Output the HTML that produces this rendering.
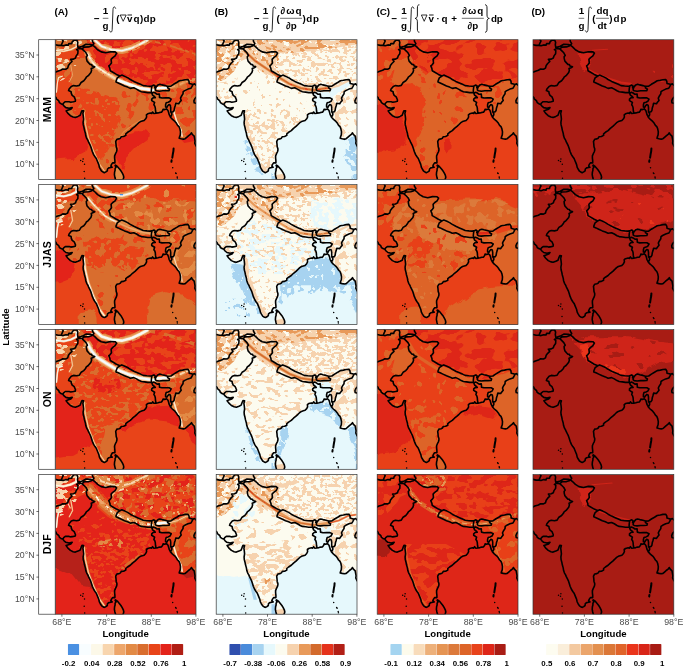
<!DOCTYPE html>
<html><head><meta charset="utf-8"><title>fig</title>
<style>
html,body{margin:0;padding:0;background:#fff;}
body{width:685px;height:670px;overflow:hidden;}
svg{display:block;}
#root{will-change:transform;}
text{font-family:"Liberation Sans",sans-serif;}
.tk{font-size:8.8px;fill:#4d4d4d;}
.b{font-weight:bold;fill:#000;}
</style></head><body>
<svg id="root" width="685" height="670" viewBox="0 0 685 670">
<defs>
<g id="bd"><path d="M0.0 57.0 L0.9 57.9 L1.1 59.2 L2.2 59.9 L3.6 61.2 L4.2 62.9 L5.8 64.0 L7.6 64.7 M7.6 64.7 L8.9 66.4 L10.7 67.9 L13.9 68.6 L17.0 67.9 L15.6 69.5 L12.5 70.6 L10.9 71.2 L12.5 73.4 L15.2 76.0 L17.9 77.3 L20.1 77.7 L22.8 76.7 L25.0 75.6 L25.9 73.0 L26.8 71.0 L28.4 71.2 L27.7 73.8 L28.1 76.5 L28.4 79.5 L27.9 82.6 L28.1 85.2 L28.8 87.8 L29.3 90.4 L30.2 93.5 L30.6 96.1 L31.5 98.7 L32.6 100.5 L33.3 102.2 L34.2 104.0 L35.3 106.2 L36.2 108.8 L37.1 111.8 L38.4 114.9 L39.8 117.1 L41.1 118.8 L42.0 121.0 L42.9 123.2 L43.6 124.9 L44.2 127.6 L45.1 129.3 L46.5 131.5 L48.3 132.7 L49.4 132.9 M49.4 132.9 L50.7 132.2 L52.1 131.1 L52.3 129.3 L53.6 128.2 L55.6 127.8 L57.0 127.6 L55.6 126.5 L56.3 124.7 L57.4 123.2 L59.7 123.2 L59.7 121.0 L59.4 118.4 L59.4 116.2 L60.3 114.0 L61.2 112.3 L61.7 110.5 L61.7 109.0 L61.0 107.0 L60.8 104.4 L60.5 101.8 L61.7 99.6 L63.9 99.2 L65.2 98.5 L66.1 97.0 L68.4 96.8 L70.6 95.7 L70.6 94.1 L72.4 92.6 L75.1 90.9 L77.3 88.7 L79.8 86.7 L81.8 84.8 L83.6 83.0 L85.3 81.9 L87.1 81.3 L88.9 80.8 L90.5 79.1 L91.4 77.3 L91.2 75.1 L92.5 74.1 L95.2 73.4 L96.5 73.8 L97.4 72.3 L98.7 73.8 L100.8 73.6 M100.8 73.6 L102.8 73.2 L104.6 72.7 L106.3 72.5 L107.5 70.8 L107.9 69.5 L109.5 69.9 L111.3 69.2 L112.8 70.8 L113.5 73.0 L113.9 74.7 L114.8 76.5 L115.3 77.5 M115.3 77.5 L117.1 79.5 L118.2 80.4 L119.7 81.7 L121.1 83.4 L122.4 85.6 L123.8 86.9 L124.7 89.1 L125.3 92.2 L125.1 95.2 L124.2 97.6 L124.0 98.5 L126.0 99.0 L128.2 99.4 L130.0 99.0 L131.8 97.4 L133.2 96.1 L135.4 94.4 L136.3 93.1 L137.2 94.8 L139.0 96.5 L139.4 98.7 L139.9 101.4 L139.6 103.5 L140.8 106.2 M7.6 64.7 L8.5 63.3 L10.1 62.0 L13.9 62.0 L15.6 62.5 L18.3 62.0 L20.1 61.6 L20.3 60.3 L19.0 57.2 L17.0 55.7 L16.1 53.7 L15.9 52.0 L13.4 50.9 L13.9 49.4 L16.1 46.7 L18.3 45.9 L21.4 46.3 L24.1 45.7 L25.9 42.8 L28.6 41.1 L30.4 38.9 L31.1 37.4 L33.1 36.0 L35.7 32.8 L36.4 30.6 L36.0 28.8 L38.0 28.0 L39.5 27.1 M39.5 27.1 L36.9 26.2 L36.4 24.9 L34.9 24.7 L33.5 23.2 L31.9 21.4 L31.3 19.2 L31.1 17.0 L32.2 15.7 L30.8 13.1 L28.6 10.9 L26.8 9.2 L29.0 7.4 L33.5 7.2 L36.2 6.3 L37.5 5.5 M37.5 5.5 L39.8 7.4 L42.4 10.0 L46.0 12.2 L50.5 13.1 L55.4 12.0 L59.9 12.2 L61.4 13.5 L59.9 16.2 L57.6 17.9 L55.9 19.7 L56.3 23.2 L54.7 25.3 L53.6 26.2 L54.7 28.8 L55.0 31.0 L57.2 32.3 L61.2 34.7 L64.8 36.3 M64.8 36.3 L66.6 35.4 L69.7 36.7 L72.4 38.0 L75.1 39.8 L78.6 41.7 L82.2 43.3 L85.3 44.6 L88.0 45.9 L91.6 46.3 L94.7 46.5 L96.7 46.3 M64.8 36.3 L62.1 38.2 L60.8 41.5 L60.8 42.4 L63.0 43.3 L65.7 44.6 L69.3 46.3 L72.4 47.4 L75.1 48.7 L78.6 48.1 L81.3 49.4 L84.0 51.1 L86.2 52.0 L89.4 52.4 L92.5 52.9 L96.5 52.9 M96.7 46.3 L96.3 48.9 L96.1 51.1 L96.5 52.9 M96.7 46.3 L98.7 45.4 L99.9 46.3 L99.6 48.1 L100.3 48.9 M100.3 48.9 L100.1 50.2 L101.2 51.1 L104.1 51.5 L107.7 51.1 L110.8 51.1 L113.9 50.9 L114.4 49.4 L112.4 48.1 L112.4 46.7 L109.9 45.9 L106.8 45.2 L104.6 44.6 L102.8 45.2 L101.0 47.2 L100.3 48.9 M112.4 46.7 L115.7 46.5 L118.4 44.6 L121.5 42.8 L124.2 41.1 L127.3 40.6 L130.0 40.0 L132.7 39.8 L133.8 41.5 L134.0 43.7 L136.3 44.3 L137.8 44.8 M137.8 44.8 L136.7 47.0 L135.8 48.5 L132.7 49.4 L129.6 50.9 L128.0 52.0 L127.8 54.2 L126.2 56.6 L125.3 58.5 L126.0 60.7 L124.2 62.9 L123.5 64.0 L120.6 63.6 L120.0 66.0 L119.3 68.2 L118.9 70.8 L118.0 72.1 L116.8 72.3 M137.8 44.8 L139.4 44.1 L140.8 45.4 M140.8 57.7 L139.6 59.0 L138.7 61.2 L139.0 63.1 L140.8 63.6 M100.8 73.6 L100.3 70.8 L100.1 68.2 L99.6 66.4 L98.7 65.1 L99.4 62.7 L96.5 60.9 L96.5 59.4 L97.9 58.1 L100.1 57.9 L99.2 56.8 L97.4 55.5 L96.7 53.7 L98.3 52.6 L100.1 53.3 L101.9 54.6 L104.1 54.4 L104.3 56.8 L104.3 57.7 L106.8 58.3 L110.4 58.2 L113.9 58.2 L116.0 59.4 L114.8 61.6 L113.0 62.5 L111.0 63.1 L110.4 65.1 L110.4 67.3 L111.7 67.7 L112.4 66.4 L113.7 64.9 L115.1 65.5 L115.5 67.7 L115.5 72.1 L116.6 73.8 L116.6 75.1 L115.3 77.5 M116.8 72.3 L116.4 73.4 M0.0 32.5 L1.8 31.7 L5.4 30.6 L7.6 29.3 L10.5 29.5 L12.5 28.4 L13.2 25.8 L14.7 23.8 L16.8 21.8 L15.4 19.7 L18.3 19.4 L20.3 18.3 L21.0 16.2 L22.6 14.0 L22.8 10.9 L21.4 10.0 L23.7 8.7 L26.8 9.2 M22.8 7.9 L23.7 8.7 M0.0 5.0 L3.1 5.7 L6.0 5.7 L8.0 6.1 L10.7 5.2 L13.0 5.5 L13.6 3.9 L16.5 3.9 L17.0 2.2 L18.8 0.4 L21.7 0.4 L22.6 2.6 L22.3 5.2 L22.8 7.9 L27.3 6.6 L30.8 4.6 L35.3 4.8 L37.5 5.5 M6.0 5.7 L7.1 3.1 L8.0 1.3 L7.1 0.0 M37.5 5.5 L38.7 3.9 L37.3 1.7 L37.1 0.0 M60.3 125.4 L62.1 126.7 L64.3 129.3 L65.7 131.1 L67.0 133.2 L68.1 135.4 L68.6 137.6 L67.9 139.8 L67.5 140.7 L60.8 140.7 L60.3 139.8 L59.7 137.6 L59.2 135.0 L59.4 132.4 L59.9 130.6 L59.9 128.9 L60.8 127.6 L59.9 125.8 L60.3 125.4Z" fill="none" stroke="#000" stroke-width="1.6" stroke-linejoin="round" stroke-linecap="round"/><path d="M118.4 108.8 L118.2 111.4 L117.7 114.0 L117.3 116.6 L117.1 118.0" fill="none" stroke="#000" stroke-width="2.0" stroke-linecap="round"/><path d="M116.4 120.6 L116.2 122.1" fill="none" stroke="#000" stroke-width="2.0" stroke-linecap="round"/><circle cx="117.5" cy="128.0" r="0.75" fill="#000"/><circle cx="120.4" cy="133.2" r="0.75" fill="#000"/><circle cx="120.9" cy="133.9" r="0.75" fill="#000"/><circle cx="122.0" cy="137.2" r="0.75" fill="#000"/><circle cx="122.2" cy="138.3" r="0.75" fill="#000"/><circle cx="25.5" cy="120.8" r="0.75" fill="#000"/><circle cx="27.9" cy="119.3" r="0.75" fill="#000"/><circle cx="27.5" cy="121.9" r="0.75" fill="#000"/><circle cx="29.0" cy="131.9" r="0.75" fill="#000"/><circle cx="29.5" cy="138.5" r="0.75" fill="#000"/><circle cx="29.3" cy="124.5" r="0.75" fill="#000"/></g>
<polygon id="india" points="7.6,64.7 8.9,66.4 10.7,67.9 13.9,68.6 17.0,67.9 15.6,69.5 12.5,70.6 10.9,71.2 12.5,73.4 15.2,76.0 17.9,77.3 20.1,77.7 22.8,76.7 25.0,75.6 25.9,73.0 26.8,71.0 28.4,71.2 27.7,73.8 28.1,76.5 28.4,79.5 27.9,82.6 28.1,85.2 28.8,87.8 29.3,90.4 30.2,93.5 30.6,96.1 31.5,98.7 32.6,100.5 33.3,102.2 34.2,104.0 35.3,106.2 36.2,108.8 37.1,111.8 38.4,114.9 39.8,117.1 41.1,118.8 42.0,121.0 42.9,123.2 43.6,124.9 44.2,127.6 45.1,129.3 46.5,131.5 48.3,132.7 49.4,132.9 50.7,132.2 52.1,131.1 52.3,129.3 53.6,128.2 55.6,127.8 57.0,127.6 55.6,126.5 56.3,124.7 57.4,123.2 59.7,123.2 59.7,121.0 59.4,118.4 59.4,116.2 60.3,114.0 61.2,112.3 61.7,110.5 61.7,109.0 61.0,107.0 60.8,104.4 60.5,101.8 61.7,99.6 63.9,99.2 65.2,98.5 66.1,97.0 68.4,96.8 70.6,95.7 70.6,94.1 72.4,92.6 75.1,90.9 77.3,88.7 79.8,86.7 81.8,84.8 83.6,83.0 85.3,81.9 87.1,81.3 88.9,80.8 90.5,79.1 91.4,77.3 91.2,75.1 92.5,74.1 95.2,73.4 96.5,73.8 97.4,72.3 98.7,73.8 100.8,73.6 100.3,70.8 100.1,68.2 99.6,66.4 98.7,65.1 99.4,62.7 96.5,60.9 96.5,59.4 97.9,58.1 100.1,57.9 99.2,56.8 97.4,55.5 96.7,53.7 98.3,52.6 100.1,53.3 101.9,54.6 104.1,54.4 104.3,56.8 104.3,57.7 106.8,58.3 110.4,58.2 113.9,58.2 116.0,59.4 114.8,61.6 113.0,62.5 111.0,63.1 110.4,65.1 110.4,67.3 111.7,67.7 112.4,66.4 113.7,64.9 115.1,65.5 115.5,67.7 115.5,72.1 116.8,72.3 118.0,72.1 118.9,70.8 119.3,68.2 120.0,66.0 120.6,63.6 123.5,64.0 124.2,62.9 126.0,60.7 125.3,58.5 126.2,56.6 127.8,54.2 128.0,52.0 129.6,50.9 132.7,49.4 135.8,48.5 136.7,47.0 137.8,44.8 136.3,44.3 134.0,43.7 133.8,41.5 132.7,39.8 130.0,40.0 127.3,40.6 124.2,41.1 121.5,42.8 118.4,44.6 115.7,46.5 112.4,46.7 112.4,48.1 114.4,49.4 113.9,50.9 110.8,51.1 107.7,51.1 104.1,51.5 101.2,51.1 100.1,50.2 100.3,48.9 99.6,48.1 99.9,46.3 98.7,45.4 96.7,46.3 96.3,48.9 96.1,51.1 96.5,52.9 92.5,52.9 89.4,52.4 86.2,52.0 84.0,51.1 81.3,49.4 78.6,48.1 75.1,48.7 72.4,47.4 69.3,46.3 65.7,44.6 63.0,43.3 60.8,42.4 60.8,41.5 62.1,38.2 64.8,36.3 61.2,34.7 57.2,32.3 55.0,31.0 54.7,28.8 53.6,26.2 54.7,25.3 56.3,23.2 55.9,19.7 57.6,17.9 59.9,16.2 61.4,13.5 59.9,12.2 55.4,12.0 50.5,13.1 46.0,12.2 42.4,10.0 39.8,7.4 37.5,5.5 36.2,6.3 33.5,7.2 29.0,7.4 26.8,9.2 28.6,10.9 30.8,13.1 32.2,15.7 31.1,17.0 31.3,19.2 31.9,21.4 33.5,23.2 34.9,24.7 36.4,24.9 36.9,26.2 39.5,27.1 38.0,28.0 36.0,28.8 36.4,30.6 35.7,32.8 33.1,36.0 31.1,37.4 30.4,38.9 28.6,41.1 25.9,42.8 24.1,45.7 21.4,46.3 18.3,45.9 16.1,46.7 13.9,49.4 13.4,50.9 15.9,52.0 16.1,53.7 17.0,55.7 19.0,57.2 20.3,60.3 20.1,61.6 18.3,62.0 15.6,62.5 13.9,62.0 10.1,62.0 8.5,63.3 7.6,64.7"/>
<polygon id="land" points="0.0,-2.2 0.0,57.0 0.9,57.9 1.1,59.2 2.2,59.9 3.6,61.2 4.2,62.9 5.8,64.0 7.6,64.7 8.9,66.4 10.7,67.9 13.9,68.6 17.0,67.9 15.6,69.5 12.5,70.6 10.9,71.2 12.5,73.4 15.2,76.0 17.9,77.3 20.1,77.7 22.8,76.7 25.0,75.6 25.9,73.0 26.8,71.0 28.4,71.2 27.7,73.8 28.1,76.5 28.4,79.5 27.9,82.6 28.1,85.2 28.8,87.8 29.3,90.4 30.2,93.5 30.6,96.1 31.5,98.7 32.6,100.5 33.3,102.2 34.2,104.0 35.3,106.2 36.2,108.8 37.1,111.8 38.4,114.9 39.8,117.1 41.1,118.8 42.0,121.0 42.9,123.2 43.6,124.9 44.2,127.6 45.1,129.3 46.5,131.5 48.3,132.7 49.4,132.9 50.7,132.2 52.1,131.1 52.3,129.3 53.6,128.2 55.6,127.8 57.0,127.6 55.6,126.5 56.3,124.7 57.4,123.2 59.7,123.2 59.7,121.0 59.4,118.4 59.4,116.2 60.3,114.0 61.2,112.3 61.7,110.5 61.7,109.0 61.0,107.0 60.8,104.4 60.5,101.8 61.7,99.6 63.9,99.2 65.2,98.5 66.1,97.0 68.4,96.8 70.6,95.7 70.6,94.1 72.4,92.6 75.1,90.9 77.3,88.7 79.8,86.7 81.8,84.8 83.6,83.0 85.3,81.9 87.1,81.3 88.9,80.8 90.5,79.1 91.4,77.3 91.2,75.1 92.5,74.1 95.2,73.4 96.5,73.8 97.4,72.3 98.7,73.8 100.8,73.6 102.8,73.2 104.6,72.7 106.3,72.5 107.5,70.8 107.9,69.5 109.5,69.9 111.3,69.2 112.8,70.8 113.5,73.0 113.9,74.7 114.8,76.5 115.3,77.5 117.1,79.5 118.2,80.4 119.7,81.7 121.1,83.4 122.4,85.6 123.8,86.9 124.7,89.1 125.3,92.2 125.1,95.2 124.2,97.6 124.0,98.5 126.0,99.0 128.2,99.4 130.0,99.0 131.8,97.4 133.2,96.1 135.4,94.4 136.3,93.1 137.2,94.8 139.0,96.5 139.4,98.7 139.9,101.4 139.6,103.5 140.8,106.2 143.0,107.0 143.0,-2.2"/>
<polygon id="lanka" points="60.3,125.4 62.1,126.7 64.3,129.3 65.7,131.1 67.0,133.2 68.1,135.4 68.6,137.6 67.9,139.8 67.5,140.7 60.8,140.7 60.3,139.8 59.7,137.6 59.2,135.0 59.4,132.4 59.9,130.6 59.9,128.9 60.8,127.6 59.9,125.8 60.3,125.4"/>
<clipPath id="cIndia"><use href="#india"/></clipPath>
<clipPath id="cLand"><use href="#land"/><use href="#lanka"/></clipPath>
<filter id="wob" filterUnits="userSpaceOnUse" x="-20" y="-20" width="182" height="180" color-interpolation-filters="sRGB"><feTurbulence type="fractalNoise" baseFrequency="0.07" numOctaves="3" seed="8"/><feDisplacementMap in="SourceGraphic" scale="9" xChannelSelector="R" yChannelSelector="G"/></filter><filter id="f1" x="0" y="0" width="1" height="1" color-interpolation-filters="sRGB"><feTurbulence type="fractalNoise" baseFrequency="0.12 0.16" numOctaves="2" seed="3"/><feColorMatrix type="matrix" values="0 0 0 0 0.910 0 0 0 0 0.267 0 0 0 0 0.098 40 0 0 0 -20.00"/></filter>
<clipPath id="c2"><polygon points="28.4,0.2 144.3,0.2 144.3,39.0 139.2,40.1 131.4,41.4 122.4,45.9 113.5,48.1 106.7,49.0 97.8,50.4 84.4,48.4 73.2,44.5 62.0,40.1 50.8,33.4 41.1,27.1 36.2,21.0 32.4,14.3 28.4,8.7"/></clipPath>
<filter id="f3" x="0" y="0" width="1" height="1" color-interpolation-filters="sRGB"><feTurbulence type="fractalNoise" baseFrequency="0.14" numOctaves="2" seed="9"/><feColorMatrix type="matrix" values="0 0 0 0 0.851 0 0 0 0 0.427 0 0 0 0 0.180 40 0 0 0 -18.80"/></filter>
<clipPath id="c4"><polygon points="114.6,50.1 144.3,39.0 144.3,102.8 124.6,102.8 116.8,84.8 114.6,69.2"/></clipPath>
<filter id="f5" x="0" y="0" width="1" height="1" color-interpolation-filters="sRGB"><feTurbulence type="fractalNoise" baseFrequency="0.1" numOctaves="2" seed="5"/><feColorMatrix type="matrix" values="0 0 0 0 0.851 0 0 0 0 0.427 0 0 0 0 0.180 40 0 0 0 -20.00"/></filter>
<clipPath id="c6"><polygon points="-0.7,-0.2 39.6,-0.2 38.5,8.7 32.9,17.7 22.8,22.2 18.3,31.1 8.2,40.1 -0.7,43.4"/></clipPath>
<filter id="f7" x="0" y="0" width="1" height="1" color-interpolation-filters="sRGB"><feTurbulence type="fractalNoise" baseFrequency="0.09 0.16" numOctaves="2" seed="7"/><feColorMatrix type="matrix" values="0 0 0 0 0.973 0 0 0 0 0.835 0 0 0 0 0.682 40 0 0 0 -24.00"/></filter>
<clipPath id="c8"><polygon points="-0.7,-0.2 39.6,-0.2 38.5,8.7 32.9,17.7 22.8,22.2 18.3,31.1 8.2,40.1 -0.7,43.4"/></clipPath>
<filter id="f9" x="0" y="0" width="1" height="1" color-interpolation-filters="sRGB"><feTurbulence type="fractalNoise" baseFrequency="0.15" numOctaves="2" seed="47"/><feColorMatrix type="matrix" values="0 0 0 0 0.910 0 0 0 0 0.267 0 0 0 0 0.098 40 0 0 0 -16.00"/></filter>
<mask id="c10" maskUnits="userSpaceOnUse" x="0" y="0" width="142" height="141"><polyline points="92.0,0.9 105.4,3.4 117.0,6.7 130.5,11.0 141.4,15.4" fill="none" stroke="#fff" stroke-width="4.03" stroke-linecap="round" stroke-linejoin="round"/></mask>
<filter id="f11" x="0" y="0" width="1" height="1" color-interpolation-filters="sRGB"><feTurbulence type="fractalNoise" baseFrequency="0.18" numOctaves="2" seed="62"/><feColorMatrix type="matrix" values="0 0 0 0 0.851 0 0 0 0 0.427 0 0 0 0 0.180 40 0 0 0 -18.00"/></filter>
<mask id="c12" maskUnits="userSpaceOnUse" x="0" y="0" width="142" height="141"><polyline points="92.0,0.9 105.4,3.4 117.0,6.7 130.5,11.0 141.4,15.4" fill="none" stroke="#fff" stroke-width="2.01" stroke-linecap="round" stroke-linejoin="round"/></mask>
<filter id="f13" x="0" y="0" width="1" height="1" color-interpolation-filters="sRGB"><feTurbulence type="fractalNoise" baseFrequency="0.18" numOctaves="2" seed="11"/><feColorMatrix type="matrix" values="0 0 0 0 0.851 0 0 0 0 0.427 0 0 0 0 0.180 40 0 0 0 -24.80"/></filter>
<clipPath id="c14"><polygon points="16.1,49.0 64.7,49.0 64.7,120.7 16.1,120.7"/></clipPath>
<filter id="f15" x="0" y="0" width="1" height="1" color-interpolation-filters="sRGB"><feTurbulence type="fractalNoise" baseFrequency="0.1" numOctaves="2" seed="13"/><feColorMatrix type="matrix" values="0 0 0 0 0.910 0 0 0 0 0.267 0 0 0 0 0.098 40 0 0 0 -23.20"/></filter>
<clipPath id="c16"><polygon points="64.7,49.0 100.0,49.0 100.0,102.8 50.8,134.1 50.8,107.2 64.7,84.8"/></clipPath>
<filter id="f17" x="0" y="0" width="1" height="1" color-interpolation-filters="sRGB"><feTurbulence type="fractalNoise" baseFrequency="0.1" numOctaves="2" seed="4"/><feColorMatrix type="matrix" values="0 0 0 0 0.910 0 0 0 0 0.267 0 0 0 0 0.098 40 0 0 0 -20.00"/></filter>
<clipPath id="c18"><polygon points="28.4,8.7 39.6,4.3 62.0,8.7 66.4,22.2 62.0,26.6 55.2,31.1 50.8,33.4 41.1,27.1 36.2,21.0 32.4,14.3"/></clipPath>
<filter id="f19" x="0" y="0" width="1" height="1" color-interpolation-filters="sRGB"><feTurbulence type="fractalNoise" baseFrequency="0.14" numOctaves="2" seed="15"/><feColorMatrix type="matrix" values="0 0 0 0 0.851 0 0 0 0 0.427 0 0 0 0 0.180 40 0 0 0 -18.80"/></filter>
<clipPath id="c20"><polygon points="102.3,51.3 138.1,40.1 142.6,46.8 129.1,62.5 120.2,89.3 111.2,73.7 102.3,62.5"/></clipPath>
<filter id="f21" x="0" y="0" width="1" height="1" color-interpolation-filters="sRGB"><feTurbulence type="fractalNoise" baseFrequency="0.2" numOctaves="2" seed="41"/><feColorMatrix type="matrix" values="0 0 0 0 0.886 0 0 0 0 0.541 0 0 0 0 0.271 40 0 0 0 -18.00"/></filter>
<mask id="c22" maskUnits="userSpaceOnUse" x="0" y="0" width="142" height="141"><polyline points="32.4,14.3 36.2,21.0 41.1,27.1 50.8,33.4 62.0,40.1 73.2,44.5 84.4,48.4 97.8,50.4 106.7,49.0 113.5,48.1" fill="none" stroke="#fff" stroke-width="6.27" stroke-linecap="round" stroke-linejoin="round"/></mask>
<filter id="f23" x="0" y="0" width="1" height="1" color-interpolation-filters="sRGB"><feTurbulence type="fractalNoise" baseFrequency="0.2" numOctaves="2" seed="63"/><feColorMatrix type="matrix" values="0 0 0 0 0.929 0 0 0 0 0.651 0 0 0 0 0.420 40 0 0 0 -15.20"/></filter>
<mask id="c24" maskUnits="userSpaceOnUse" x="0" y="0" width="142" height="141"><polyline points="32.4,14.3 36.2,21.0 41.1,27.1 50.8,33.4 62.0,40.1" fill="none" stroke="#fff" stroke-width="4.48" stroke-linecap="round" stroke-linejoin="round"/></mask>
<filter id="f25" x="0" y="0" width="1" height="1" color-interpolation-filters="sRGB"><feTurbulence type="fractalNoise" baseFrequency="0.2" numOctaves="2" seed="64"/><feColorMatrix type="matrix" values="0 0 0 0 0.992 0 0 0 0 0.965 0 0 0 0 0.894 40 0 0 0 -18.00"/></filter>
<mask id="c26" maskUnits="userSpaceOnUse" x="0" y="0" width="142" height="141"><polyline points="32.4,14.3 36.2,21.0 41.1,27.1 50.8,33.4 62.0,40.1" fill="none" stroke="#fff" stroke-width="1.12" stroke-linecap="round" stroke-linejoin="round"/></mask>
<filter id="f27" x="0" y="0" width="1" height="1" color-interpolation-filters="sRGB"><feTurbulence type="fractalNoise" baseFrequency="0.2" numOctaves="2" seed="46"/><feColorMatrix type="matrix" values="0 0 0 0 0.886 0 0 0 0 0.541 0 0 0 0 0.271 40 0 0 0 -16.80"/></filter>
<mask id="c28" maskUnits="userSpaceOnUse" x="0" y="0" width="142" height="141"><polyline points="113.5,48.1 122.4,45.9 131.4,41.4 139.2,40.1" fill="none" stroke="#fff" stroke-width="3.58" stroke-linecap="round" stroke-linejoin="round"/></mask>
<filter id="f29" x="0" y="0" width="1" height="1" color-interpolation-filters="sRGB"><feTurbulence type="fractalNoise" baseFrequency="0.2" numOctaves="2" seed="61"/><feColorMatrix type="matrix" values="0 0 0 0 0.929 0 0 0 0 0.651 0 0 0 0 0.420 40 0 0 0 -20.00"/></filter>
<mask id="c30" maskUnits="userSpaceOnUse" x="0" y="0" width="142" height="141"><polyline points="113.5,48.1 122.4,45.9 131.4,41.4 139.2,40.1" fill="none" stroke="#fff" stroke-width="1.57" stroke-linecap="round" stroke-linejoin="round"/></mask>
<filter id="f31" x="0" y="0" width="1" height="1" color-interpolation-filters="sRGB"><feTurbulence type="fractalNoise" baseFrequency="0.2" numOctaves="2" seed="43"/><feColorMatrix type="matrix" values="0 0 0 0 0.886 0 0 0 0 0.541 0 0 0 0 0.271 40 0 0 0 -16.80"/></filter>
<mask id="c32" maskUnits="userSpaceOnUse" x="0" y="0" width="142" height="141"><polyline points="39.8,0.7 46.5,6.7 56.6,10.1 66.7,11.0 76.7,8.3 85.2,4.3 92.0,0.7" fill="none" stroke="#fff" stroke-width="6.72" stroke-linecap="round" stroke-linejoin="round"/></mask>
<filter id="f33" x="0" y="0" width="1" height="1" color-interpolation-filters="sRGB"><feTurbulence type="fractalNoise" baseFrequency="0.2" numOctaves="2" seed="70"/><feColorMatrix type="matrix" values="0 0 0 0 0.953 0 0 0 0 0.984 0 0 0 0 0.996 40 0 0 0 -16.00"/></filter>
<mask id="c34" maskUnits="userSpaceOnUse" x="0" y="0" width="142" height="141"><polyline points="39.8,0.7 46.5,6.7 56.6,10.1 66.7,11.0 76.7,8.3 85.2,4.3 92.0,0.7" fill="none" stroke="#fff" stroke-width="1.12" stroke-linecap="round" stroke-linejoin="round"/></mask>
<filter id="f35" x="0" y="0" width="1" height="1" color-interpolation-filters="sRGB"><feTurbulence type="fractalNoise" baseFrequency="0.2" numOctaves="2" seed="31"/><feColorMatrix type="matrix" values="0 0 0 0 0.902 0 0 0 0 0.973 0 0 0 0 0.988 40 0 0 0 -22.00"/></filter>
<clipPath id="c36"><polygon points="-5.1,-4.7 144.8,-4.7 144.8,145.3 -5.1,145.3"/></clipPath>
<filter id="f37" x="0" y="0" width="1" height="1" color-interpolation-filters="sRGB"><feTurbulence type="fractalNoise" baseFrequency="0.22 0.3" numOctaves="2" seed="3"/><feColorMatrix type="matrix" values="0 0 0 0 0.965 0 0 0 0 0.824 0 0 0 0 0.682 40 0 0 0 -21.20"/></filter>
<clipPath id="c38"><polygon points="28.4,0.2 144.4,0.2 144.4,39.0 139.2,40.1 131.4,41.4 122.5,45.9 113.5,48.1 106.8,49.0 97.8,50.4 84.4,48.4 73.2,44.5 62.0,40.1 50.8,33.4 41.2,27.1 36.3,21.0 32.5,14.3 28.4,8.7"/></clipPath>
<filter id="f39" x="0" y="0" width="1" height="1" color-interpolation-filters="sRGB"><feTurbulence type="fractalNoise" baseFrequency="0.12 0.2" numOctaves="2" seed="4"/><feColorMatrix type="matrix" values="0 0 0 0 0.965 0 0 0 0 0.824 0 0 0 0 0.682 40 0 0 0 -16.80"/></filter>
<clipPath id="c40"><polygon points="39.6,0.2 144.4,0.2 144.4,4.3 100.1,11.0 68.7,13.7 48.6,11.4"/></clipPath>
<filter id="f41" x="0" y="0" width="1" height="1" color-interpolation-filters="sRGB"><feTurbulence type="fractalNoise" baseFrequency="0.12 0.2" numOctaves="2" seed="5"/><feColorMatrix type="matrix" values="0 0 0 0 0.910 0 0 0 0 0.604 0 0 0 0 0.353 40 0 0 0 -22.40"/></filter>
<clipPath id="c42"><polygon points="39.6,0.2 144.4,0.2 144.4,4.3 100.1,11.0 68.7,13.7 48.6,11.4"/></clipPath>
<filter id="f43" x="0" y="0" width="1" height="1" color-interpolation-filters="sRGB"><feTurbulence type="fractalNoise" baseFrequency="0.16 0.22" numOctaves="2" seed="6"/><feColorMatrix type="matrix" values="0 0 0 0 0.965 0 0 0 0 0.824 0 0 0 0 0.682 40 0 0 0 -17.60"/></filter>
<clipPath id="c44"><polygon points="-0.7,-0.2 39.6,-0.2 38.5,8.7 32.9,17.7 22.8,22.2 18.4,31.1 8.3,40.1 -0.7,43.4"/></clipPath>
<filter id="f45" x="0" y="0" width="1" height="1" color-interpolation-filters="sRGB"><feTurbulence type="fractalNoise" baseFrequency="0.16 0.22" numOctaves="2" seed="7"/><feColorMatrix type="matrix" values="0 0 0 0 0.910 0 0 0 0 0.604 0 0 0 0 0.353 40 0 0 0 -22.00"/></filter>
<clipPath id="c46"><polygon points="-0.7,-0.2 39.6,-0.2 38.5,8.7 32.9,17.7 22.8,22.2 18.4,31.1 8.3,40.1 -0.7,43.4"/></clipPath>
<filter id="f47" x="0" y="0" width="1" height="1" color-interpolation-filters="sRGB"><feTurbulence type="fractalNoise" baseFrequency="0.16" numOctaves="2" seed="8"/><feColorMatrix type="matrix" values="0 0 0 0 0.965 0 0 0 0 0.824 0 0 0 0 0.682 40 0 0 0 -20.80"/></filter>
<clipPath id="c48"><polygon points="-0.7,43.4 8.3,42.3 21.7,37.8 17.2,51.3 15.0,66.9 -0.7,62.5"/></clipPath>
<filter id="f49" x="0" y="0" width="1" height="1" color-interpolation-filters="sRGB"><feTurbulence type="fractalNoise" baseFrequency="0.16" numOctaves="2" seed="9"/><feColorMatrix type="matrix" values="0 0 0 0 0.965 0 0 0 0 0.824 0 0 0 0 0.682 40 0 0 0 -22.00"/></filter>
<clipPath id="c50"><polygon points="114.6,50.1 144.4,39.0 144.4,102.8 124.7,102.8 116.9,84.8 114.6,69.2"/></clipPath>
<filter id="f51" x="0" y="0" width="1" height="1" color-interpolation-filters="sRGB"><feTurbulence type="fractalNoise" baseFrequency="0.2" numOctaves="2" seed="11"/><feColorMatrix type="matrix" values="0 0 0 0 0.965 0 0 0 0 0.824 0 0 0 0 0.682 40 0 0 0 -22.40"/></filter>
<clipPath id="c52"><polygon points="28.4,69.2 68.7,69.2 88.9,80.4 62.0,134.1 46.3,134.1 28.4,96.0"/></clipPath>
<filter id="f53" x="0" y="0" width="1" height="1" color-interpolation-filters="sRGB"><feTurbulence type="fractalNoise" baseFrequency="0.2" numOctaves="2" seed="57"/><feColorMatrix type="matrix" values="0 0 0 0 0.965 0 0 0 0 0.824 0 0 0 0 0.682 40 0 0 0 -16.80"/></filter>
<mask id="c54" maskUnits="userSpaceOnUse" x="0" y="0" width="142" height="141"><polyline points="28.9,72.5 30.2,84.8 33.4,98.3 38.5,111.7 44.1,124.0 49.3,131.2" fill="none" stroke="#fff" stroke-width="4.03" stroke-linecap="round" stroke-linejoin="round"/></mask>
<filter id="f55" x="0" y="0" width="1" height="1" color-interpolation-filters="sRGB"><feTurbulence type="fractalNoise" baseFrequency="0.22" numOctaves="2" seed="12"/><feColorMatrix type="matrix" values="0 0 0 0 0.965 0 0 0 0 0.824 0 0 0 0 0.682 40 0 0 0 -27.20"/></filter>
<clipPath id="c56"><polygon points="-5.1,-4.7 144.8,-4.7 144.8,145.3 -5.1,145.3"/></clipPath>
<filter id="f57" x="0" y="0" width="1" height="1" color-interpolation-filters="sRGB"><feTurbulence type="fractalNoise" baseFrequency="0.2" numOctaves="2" seed="55"/><feColorMatrix type="matrix" values="0 0 0 0 0.965 0 0 0 0 0.824 0 0 0 0 0.682 40 0 0 0 -16.80"/></filter>
<clipPath id="c58"><polygon points="30.7,7.6 39.6,5.4 59.8,11.4 63.8,22.2 61.1,28.9 66.0,39.2 62.0,41.9 50.8,36.0 40.7,28.2 34.0,19.9"/></clipPath>
<filter id="f59" x="0" y="0" width="1" height="1" color-interpolation-filters="sRGB"><feTurbulence type="fractalNoise" baseFrequency="0.22" numOctaves="2" seed="56"/><feColorMatrix type="matrix" values="0 0 0 0 0.910 0 0 0 0 0.604 0 0 0 0 0.353 40 0 0 0 -22.40"/></filter>
<clipPath id="c60"><polygon points="30.7,7.6 39.6,5.4 59.8,11.4 63.8,22.2 61.1,28.9 66.0,39.2 62.0,41.9 50.8,36.0 40.7,28.2 34.0,19.9"/></clipPath>
<filter id="f61" x="0" y="0" width="1" height="1" color-interpolation-filters="sRGB"><feTurbulence type="fractalNoise" baseFrequency="0.2" numOctaves="2" seed="41"/><feColorMatrix type="matrix" values="0 0 0 0 0.965 0 0 0 0 0.824 0 0 0 0 0.682 40 0 0 0 -16.00"/></filter>
<mask id="c62" maskUnits="userSpaceOnUse" x="0" y="0" width="142" height="141"><polyline points="28.4,11.4 39.6,21.7 49.3,28.2 57.5,33.8 62.9,37.8 73.2,44.1 84.4,48.4 97.8,50.4 106.8,49.0 113.5,48.1" fill="none" stroke="#fff" stroke-width="6.72" stroke-linecap="round" stroke-linejoin="round"/></mask>
<filter id="f63" x="0" y="0" width="1" height="1" color-interpolation-filters="sRGB"><feTurbulence type="fractalNoise" baseFrequency="0.25" numOctaves="2" seed="42"/><feColorMatrix type="matrix" values="0 0 0 0 0.898 0 0 0 0 0.196 0 0 0 0 0.106 40 0 0 0 -24.00"/></filter>
<mask id="c64" maskUnits="userSpaceOnUse" x="0" y="0" width="142" height="141"><polyline points="28.4,11.4 39.6,21.7 49.3,28.2 57.5,33.8 62.9,37.8 73.2,44.1 84.4,48.4 97.8,50.4 106.8,49.0 113.5,48.1" fill="none" stroke="#fff" stroke-width="1.12" stroke-linecap="round" stroke-linejoin="round"/></mask>
<filter id="f65" x="0" y="0" width="1" height="1" color-interpolation-filters="sRGB"><feTurbulence type="fractalNoise" baseFrequency="0.2" numOctaves="2" seed="43"/><feColorMatrix type="matrix" values="0 0 0 0 0.965 0 0 0 0 0.824 0 0 0 0 0.682 40 0 0 0 -16.80"/></filter>
<mask id="c66" maskUnits="userSpaceOnUse" x="0" y="0" width="142" height="141"><polyline points="39.8,0.7 46.6,6.7 56.6,10.1 66.7,11.0 76.8,8.3 85.3,4.3 92.0,0.7" fill="none" stroke="#fff" stroke-width="5.37" stroke-linecap="round" stroke-linejoin="round"/></mask>
<filter id="f67" x="0" y="0" width="1" height="1" color-interpolation-filters="sRGB"><feTurbulence type="fractalNoise" baseFrequency="0.2" numOctaves="2" seed="44"/><feColorMatrix type="matrix" values="0 0 0 0 0.910 0 0 0 0 0.604 0 0 0 0 0.353 40 0 0 0 -20.00"/></filter>
<mask id="c68" maskUnits="userSpaceOnUse" x="0" y="0" width="142" height="141"><polyline points="39.8,0.7 46.6,6.7 56.6,10.1 66.7,11.0 76.8,8.3 85.3,4.3 92.0,0.7" fill="none" stroke="#fff" stroke-width="2.01" stroke-linecap="round" stroke-linejoin="round"/></mask>
<filter id="f69" x="0" y="0" width="1" height="1" color-interpolation-filters="sRGB"><feTurbulence type="fractalNoise" baseFrequency="0.06 0.1" numOctaves="2" seed="3"/><feColorMatrix type="matrix" values="0 0 0 0 0.871 0 0 0 0 0.149 0 0 0 0 0.094 40 0 0 0 -20.00"/></filter>
<clipPath id="c70"><polygon points="28.4,0.2 144.3,0.2 144.3,39.0 139.2,40.1 131.4,41.4 122.4,45.9 113.5,48.1 106.7,49.0 97.8,50.4 84.4,48.4 73.2,44.5 62.0,40.1 50.8,33.4 41.1,27.1 36.2,21.0 32.4,14.3 28.4,8.7"/></clipPath>
<filter id="f71" x="0" y="0" width="1" height="1" color-interpolation-filters="sRGB"><feTurbulence type="fractalNoise" baseFrequency="0.1" numOctaves="2" seed="5"/><feColorMatrix type="matrix" values="0 0 0 0 0.867 0 0 0 0 0.392 0 0 0 0 0.157 40 0 0 0 -22.00"/></filter>
<clipPath id="c72"><polygon points="-0.7,-0.2 39.6,-0.2 38.5,8.7 32.9,17.7 22.8,22.2 18.3,31.1 8.2,40.1 -0.7,43.4"/></clipPath>
<filter id="f73" x="0" y="0" width="1" height="1" color-interpolation-filters="sRGB"><feTurbulence type="fractalNoise" baseFrequency="0.1" numOctaves="2" seed="4"/><feColorMatrix type="matrix" values="0 0 0 0 0.871 0 0 0 0 0.149 0 0 0 0 0.094 40 0 0 0 -20.00"/></filter>
<clipPath id="c74"><polygon points="28.4,8.7 39.6,4.3 62.0,8.7 66.4,22.2 62.0,26.6 55.2,31.1 50.8,33.4 41.1,27.1 36.2,21.0 32.4,14.3"/></clipPath>
<filter id="f75" x="0" y="0" width="1" height="1" color-interpolation-filters="sRGB"><feTurbulence type="fractalNoise" baseFrequency="0.12" numOctaves="2" seed="13"/><feColorMatrix type="matrix" values="0 0 0 0 0.910 0 0 0 0 0.251 0 0 0 0 0.094 40 0 0 0 -25.20"/></filter>
<clipPath id="c76"><polygon points="-5.2,-4.7 144.8,-4.7 144.8,145.3 -5.2,145.3"/></clipPath>
<filter id="f77" x="0" y="0" width="1" height="1" color-interpolation-filters="sRGB"><feTurbulence type="fractalNoise" baseFrequency="0.1" numOctaves="2" seed="9"/><feColorMatrix type="matrix" values="0 0 0 0 0.812 0 0 0 0 0.141 0 0 0 0 0.098 40 0 0 0 -23.20"/></filter>
<clipPath id="c78"><polygon points="119.4,31.1 140.6,24.4 140.6,40.1 128.3,42.3"/></clipPath>
<filter id="f79" x="0" y="0" width="1" height="1" color-interpolation-filters="sRGB"><feTurbulence type="fractalNoise" baseFrequency="0.1 0.16" numOctaves="2" seed="3"/><feColorMatrix type="matrix" values="0 0 0 0 0.910 0 0 0 0 0.267 0 0 0 0 0.098 40 0 0 0 -23.20"/></filter>
<clipPath id="c80"><polygon points="28.4,0.3 144.3,0.3 144.3,39.1 139.2,40.2 131.4,41.5 122.4,46.0 113.5,48.2 106.7,49.1 97.8,50.5 84.4,48.5 73.2,44.7 62.0,40.2 50.8,33.5 41.1,27.2 36.2,21.2 32.4,14.4 28.4,8.8"/></clipPath>
<filter id="f81" x="0" y="0" width="1" height="1" color-interpolation-filters="sRGB"><feTurbulence type="fractalNoise" baseFrequency="0.12" numOctaves="2" seed="8"/><feColorMatrix type="matrix" values="0 0 0 0 0.886 0 0 0 0 0.541 0 0 0 0 0.271 40 0 0 0 -24.00"/></filter>
<clipPath id="c82"><polygon points="28.4,0.3 144.3,0.3 144.3,39.1 139.2,40.2 131.4,41.5 122.4,46.0 113.5,48.2 106.7,49.1 97.8,50.5 84.4,48.5 73.2,44.7 62.0,40.2 50.8,33.5 41.1,27.2 36.2,21.2 32.4,14.4 28.4,8.8"/></clipPath>
<filter id="f83" x="0" y="0" width="1" height="1" color-interpolation-filters="sRGB"><feTurbulence type="fractalNoise" baseFrequency="0.12" numOctaves="2" seed="9"/><feColorMatrix type="matrix" values="0 0 0 0 0.886 0 0 0 0 0.541 0 0 0 0 0.271 40 0 0 0 -20.80"/></filter>
<clipPath id="c84"><polygon points="114.6,50.3 144.3,39.1 144.3,102.9 124.6,102.9 116.8,85.0 114.6,69.3"/></clipPath>
<filter id="f85" x="0" y="0" width="1" height="1" color-interpolation-filters="sRGB"><feTurbulence type="fractalNoise" baseFrequency="0.12" numOctaves="2" seed="5"/><feColorMatrix type="matrix" values="0 0 0 0 0.851 0 0 0 0 0.427 0 0 0 0 0.180 40 0 0 0 -20.00"/></filter>
<clipPath id="c86"><polygon points="-0.7,-0.1 39.6,-0.1 38.5,8.8 32.9,17.8 22.8,22.3 18.3,31.2 8.2,40.2 -0.7,43.5"/></clipPath>
<filter id="f87" x="0" y="0" width="1" height="1" color-interpolation-filters="sRGB"><feTurbulence type="fractalNoise" baseFrequency="0.1 0.2" numOctaves="2" seed="7"/><feColorMatrix type="matrix" values="0 0 0 0 0.973 0 0 0 0 0.835 0 0 0 0 0.682 40 0 0 0 -24.00"/></filter>
<clipPath id="c88"><polygon points="-0.7,-0.1 39.6,-0.1 38.5,8.8 32.9,17.8 22.8,22.3 18.3,31.2 8.2,40.2 -0.7,43.5"/></clipPath>
<filter id="f89" x="0" y="0" width="1" height="1" color-interpolation-filters="sRGB"><feTurbulence type="fractalNoise" baseFrequency="0.14" numOctaves="2" seed="11"/><feColorMatrix type="matrix" values="0 0 0 0 0.851 0 0 0 0 0.427 0 0 0 0 0.180 40 0 0 0 -22.00"/></filter>
<clipPath id="c90"><polygon points="28.4,51.4 91.5,51.4 91.5,85.4 28.4,85.4"/></clipPath>
<filter id="f91" x="0" y="0" width="1" height="1" color-interpolation-filters="sRGB"><feTurbulence type="fractalNoise" baseFrequency="0.12" numOctaves="2" seed="13"/><feColorMatrix type="matrix" values="0 0 0 0 0.910 0 0 0 0 0.267 0 0 0 0 0.098 40 0 0 0 -24.80"/></filter>
<clipPath id="c92"><polygon points="-5.2,-4.6 144.8,-4.6 144.8,145.4 -5.2,145.4"/></clipPath>
<filter id="f93" x="0" y="0" width="1" height="1" color-interpolation-filters="sRGB"><feTurbulence type="fractalNoise" baseFrequency="0.12" numOctaves="2" seed="4"/><feColorMatrix type="matrix" values="0 0 0 0 0.851 0 0 0 0 0.427 0 0 0 0 0.180 40 0 0 0 -20.00"/></filter>
<clipPath id="c94"><polygon points="28.4,8.8 39.6,4.4 62.0,8.8 66.4,22.3 62.0,26.8 55.2,31.2 50.8,33.5 41.1,27.2 36.2,21.2 32.4,14.4"/></clipPath>
<filter id="f95" x="0" y="0" width="1" height="1" color-interpolation-filters="sRGB"><feTurbulence type="fractalNoise" baseFrequency="0.14" numOctaves="2" seed="15"/><feColorMatrix type="matrix" values="0 0 0 0 0.886 0 0 0 0 0.541 0 0 0 0 0.271 40 0 0 0 -22.00"/></filter>
<clipPath id="c96"><polygon points="102.3,51.4 138.1,40.2 142.6,46.9 129.1,62.6 120.2,89.4 111.2,73.8 102.3,62.6"/></clipPath>
<filter id="f97" x="0" y="0" width="1" height="1" color-interpolation-filters="sRGB"><feTurbulence type="fractalNoise" baseFrequency="0.2" numOctaves="2" seed="41"/><feColorMatrix type="matrix" values="0 0 0 0 0.886 0 0 0 0 0.541 0 0 0 0 0.271 40 0 0 0 -18.00"/></filter>
<mask id="c98" maskUnits="userSpaceOnUse" x="0" y="0" width="142" height="141"><polyline points="32.9,13.5 38.2,19.8 43.6,25.2 49.9,31.5 56.1,35.0 62.4,37.9 73.2,42.9 84.4,46.9 97.8,49.4 106.7,48.7 113.5,47.8" fill="none" stroke="#fff" stroke-width="5.37" stroke-linecap="round" stroke-linejoin="round"/></mask>
<filter id="f99" x="0" y="0" width="1" height="1" color-interpolation-filters="sRGB"><feTurbulence type="fractalNoise" baseFrequency="0.2" numOctaves="2" seed="71"/><feColorMatrix type="matrix" values="0 0 0 0 0.953 0 0 0 0 0.984 0 0 0 0 0.996 40 0 0 0 -16.80"/></filter>
<mask id="c100" maskUnits="userSpaceOnUse" x="0" y="0" width="142" height="141"><polyline points="32.9,13.5 38.2,19.8 43.6,25.2 49.9,31.5 56.1,35.0 62.4,37.9" fill="none" stroke="#fff" stroke-width="0.78" stroke-linecap="round" stroke-linejoin="round"/></mask>
<filter id="f101" x="0" y="0" width="1" height="1" color-interpolation-filters="sRGB"><feTurbulence type="fractalNoise" baseFrequency="0.2" numOctaves="2" seed="43"/><feColorMatrix type="matrix" values="0 0 0 0 0.886 0 0 0 0 0.541 0 0 0 0 0.271 40 0 0 0 -16.80"/></filter>
<mask id="c102" maskUnits="userSpaceOnUse" x="0" y="0" width="142" height="141"><polyline points="39.8,0.8 46.5,6.8 56.6,10.2 66.7,11.1 76.7,8.4 85.2,4.4 92.0,0.8" fill="none" stroke="#fff" stroke-width="6.72" stroke-linecap="round" stroke-linejoin="round"/></mask>
<filter id="f103" x="0" y="0" width="1" height="1" color-interpolation-filters="sRGB"><feTurbulence type="fractalNoise" baseFrequency="0.2" numOctaves="2" seed="30"/><feColorMatrix type="matrix" values="0 0 0 0 0.655 0 0 0 0 0.827 0 0 0 0 0.941 40 0 0 0 -24.00"/></filter>
<clipPath id="c104"><polygon points="8.3,114.1 48.6,114.1 48.6,132.0 8.3,132.0"/></clipPath>
<filter id="f105" x="0" y="0" width="1" height="1" color-interpolation-filters="sRGB"><feTurbulence type="fractalNoise" baseFrequency="0.2" numOctaves="2" seed="31"/><feColorMatrix type="matrix" values="0 0 0 0 0.902 0 0 0 0 0.973 0 0 0 0 0.988 40 0 0 0 -26.40"/></filter>
<clipPath id="c106"><polygon points="-5.1,-4.6 144.8,-4.6 144.8,145.4 -5.1,145.4"/></clipPath>
<filter id="f107" x="0" y="0" width="1" height="1" color-interpolation-filters="sRGB"><feTurbulence type="fractalNoise" baseFrequency="0.14" numOctaves="2" seed="32"/><feColorMatrix type="matrix" values="0 0 0 0 0.902 0 0 0 0 0.973 0 0 0 0 0.988 40 0 0 0 -20.00"/></filter>
<clipPath id="c108"><polygon points="66.5,100.6 144.4,100.6 144.4,145.4 62.0,145.4"/></clipPath>
<filter id="f109" x="0" y="0" width="1" height="1" color-interpolation-filters="sRGB"><feTurbulence type="fractalNoise" baseFrequency="0.22 0.3" numOctaves="2" seed="3"/><feColorMatrix type="matrix" values="0 0 0 0 0.965 0 0 0 0 0.824 0 0 0 0 0.682 40 0 0 0 -21.60"/></filter>
<clipPath id="c110"><polygon points="28.4,0.3 144.4,0.3 144.4,39.1 139.2,40.2 131.4,41.5 122.5,46.0 113.5,48.2 106.8,49.1 97.8,50.5 84.4,48.5 73.2,44.7 62.0,40.2 50.8,33.5 41.2,27.2 36.3,21.2 32.5,14.4 28.4,8.8"/></clipPath>
<filter id="f111" x="0" y="0" width="1" height="1" color-interpolation-filters="sRGB"><feTurbulence type="fractalNoise" baseFrequency="0.16" numOctaves="2" seed="33"/><feColorMatrix type="matrix" values="0 0 0 0 0.988 0 0 0 0 0.984 0 0 0 0 0.937 40 0 0 0 -20.00"/></filter>
<clipPath id="c112"><polygon points="95.6,16.7 144.4,13.3 144.4,39.1 131.4,41.5 122.5,46.0 106.8,45.8 95.6,40.2"/></clipPath>
<filter id="f113" x="0" y="0" width="1" height="1" color-interpolation-filters="sRGB"><feTurbulence type="fractalNoise" baseFrequency="0.12 0.2" numOctaves="2" seed="4"/><feColorMatrix type="matrix" values="0 0 0 0 0.965 0 0 0 0 0.824 0 0 0 0 0.682 40 0 0 0 -16.80"/></filter>
<clipPath id="c114"><polygon points="39.6,0.3 144.4,0.3 144.4,4.4 100.1,11.1 68.7,13.8 48.6,11.5"/></clipPath>
<filter id="f115" x="0" y="0" width="1" height="1" color-interpolation-filters="sRGB"><feTurbulence type="fractalNoise" baseFrequency="0.12 0.2" numOctaves="2" seed="5"/><feColorMatrix type="matrix" values="0 0 0 0 0.910 0 0 0 0 0.604 0 0 0 0 0.353 40 0 0 0 -22.40"/></filter>
<clipPath id="c116"><polygon points="39.6,0.3 144.4,0.3 144.4,4.4 100.1,11.1 68.7,13.8 48.6,11.5"/></clipPath>
<filter id="f117" x="0" y="0" width="1" height="1" color-interpolation-filters="sRGB"><feTurbulence type="fractalNoise" baseFrequency="0.16 0.22" numOctaves="2" seed="6"/><feColorMatrix type="matrix" values="0 0 0 0 0.965 0 0 0 0 0.824 0 0 0 0 0.682 40 0 0 0 -17.60"/></filter>
<clipPath id="c118"><polygon points="-0.7,-0.1 39.6,-0.1 38.5,8.8 32.9,17.8 22.8,22.3 18.4,31.2 8.3,40.2 -0.7,43.5"/></clipPath>
<filter id="f119" x="0" y="0" width="1" height="1" color-interpolation-filters="sRGB"><feTurbulence type="fractalNoise" baseFrequency="0.16 0.22" numOctaves="2" seed="7"/><feColorMatrix type="matrix" values="0 0 0 0 0.910 0 0 0 0 0.604 0 0 0 0 0.353 40 0 0 0 -22.00"/></filter>
<clipPath id="c120"><polygon points="-0.7,-0.1 39.6,-0.1 38.5,8.8 32.9,17.8 22.8,22.3 18.4,31.2 8.3,40.2 -0.7,43.5"/></clipPath>
<filter id="f121" x="0" y="0" width="1" height="1" color-interpolation-filters="sRGB"><feTurbulence type="fractalNoise" baseFrequency="0.16" numOctaves="2" seed="8"/><feColorMatrix type="matrix" values="0 0 0 0 0.965 0 0 0 0 0.824 0 0 0 0 0.682 40 0 0 0 -20.00"/></filter>
<clipPath id="c122"><polygon points="-0.7,43.5 8.3,42.4 21.7,37.9 17.2,51.4 15.0,67.0 -0.7,62.6"/></clipPath>
<filter id="f123" x="0" y="0" width="1" height="1" color-interpolation-filters="sRGB"><feTurbulence type="fractalNoise" baseFrequency="0.16" numOctaves="2" seed="9"/><feColorMatrix type="matrix" values="0 0 0 0 0.965 0 0 0 0 0.824 0 0 0 0 0.682 40 0 0 0 -22.00"/></filter>
<clipPath id="c124"><polygon points="114.6,50.3 144.4,39.1 144.4,102.9 124.7,102.9 116.9,85.0 114.6,69.3"/></clipPath>
<filter id="f125" x="0" y="0" width="1" height="1" color-interpolation-filters="sRGB"><feTurbulence type="fractalNoise" baseFrequency="0.12 0.2" numOctaves="2" seed="14"/><feColorMatrix type="matrix" values="0 0 0 0 0.902 0 0 0 0 0.973 0 0 0 0 0.988 40 0 0 0 -20.00"/></filter>
<clipPath id="c126"><polygon points="17.2,35.7 100.1,35.7 100.1,89.4 28.4,89.4"/></clipPath>
<filter id="f127" x="0" y="0" width="1" height="1" color-interpolation-filters="sRGB"><feTurbulence type="fractalNoise" baseFrequency="0.2 0.26" numOctaves="2" seed="11"/><feColorMatrix type="matrix" values="0 0 0 0 0.965 0 0 0 0 0.824 0 0 0 0 0.682 40 0 0 0 -24.80"/></filter>
<clipPath id="c128"><polygon points="-5.1,-4.6 144.8,-4.6 144.8,145.4 -5.1,145.4"/></clipPath>
<filter id="f129" x="0" y="0" width="1" height="1" color-interpolation-filters="sRGB"><feTurbulence type="fractalNoise" baseFrequency="0.2" numOctaves="2" seed="51"/><feColorMatrix type="matrix" values="0 0 0 0 0.965 0 0 0 0 0.824 0 0 0 0 0.682 40 0 0 0 -16.00"/></filter>
<mask id="c130" maskUnits="userSpaceOnUse" x="0" y="0" width="142" height="141"><polyline points="28.9,72.6 30.2,85.0 33.4,98.4 38.5,111.8 44.1,124.1 49.3,131.3" fill="none" stroke="#fff" stroke-width="4.93" stroke-linecap="round" stroke-linejoin="round"/></mask>
<filter id="f131" x="0" y="0" width="1" height="1" color-interpolation-filters="sRGB"><feTurbulence type="fractalNoise" baseFrequency="0.2" numOctaves="2" seed="55"/><feColorMatrix type="matrix" values="0 0 0 0 0.965 0 0 0 0 0.824 0 0 0 0 0.682 40 0 0 0 -16.80"/></filter>
<clipPath id="c132"><polygon points="30.7,7.7 39.6,5.5 59.8,11.5 63.8,22.3 61.1,29.0 66.0,39.3 62.0,42.0 50.8,36.2 40.7,28.3 34.0,20.0"/></clipPath>
<filter id="f133" x="0" y="0" width="1" height="1" color-interpolation-filters="sRGB"><feTurbulence type="fractalNoise" baseFrequency="0.22" numOctaves="2" seed="56"/><feColorMatrix type="matrix" values="0 0 0 0 0.910 0 0 0 0 0.604 0 0 0 0 0.353 40 0 0 0 -22.40"/></filter>
<clipPath id="c134"><polygon points="30.7,7.7 39.6,5.5 59.8,11.5 63.8,22.3 61.1,29.0 66.0,39.3 62.0,42.0 50.8,36.2 40.7,28.3 34.0,20.0"/></clipPath>
<filter id="f135" x="0" y="0" width="1" height="1" color-interpolation-filters="sRGB"><feTurbulence type="fractalNoise" baseFrequency="0.2" numOctaves="2" seed="41"/><feColorMatrix type="matrix" values="0 0 0 0 0.965 0 0 0 0 0.824 0 0 0 0 0.682 40 0 0 0 -16.00"/></filter>
<mask id="c136" maskUnits="userSpaceOnUse" x="0" y="0" width="142" height="141"><polyline points="28.4,11.5 39.6,21.8 49.3,28.3 57.5,33.9 62.9,37.9 73.2,44.2 84.4,48.5 97.8,50.5 106.8,49.1 113.5,48.2" fill="none" stroke="#fff" stroke-width="6.72" stroke-linecap="round" stroke-linejoin="round"/></mask>
<filter id="f137" x="0" y="0" width="1" height="1" color-interpolation-filters="sRGB"><feTurbulence type="fractalNoise" baseFrequency="0.25" numOctaves="2" seed="42"/><feColorMatrix type="matrix" values="0 0 0 0 0.827 0 0 0 0 0.416 0 0 0 0 0.173 40 0 0 0 -22.00"/></filter>
<mask id="c138" maskUnits="userSpaceOnUse" x="0" y="0" width="142" height="141"><polyline points="28.4,11.5 39.6,21.8 49.3,28.3 57.5,33.9 62.9,37.9 73.2,44.2 84.4,48.5 97.8,50.5 106.8,49.1 113.5,48.2" fill="none" stroke="#fff" stroke-width="1.12" stroke-linecap="round" stroke-linejoin="round"/></mask>
<filter id="f139" x="0" y="0" width="1" height="1" color-interpolation-filters="sRGB"><feTurbulence type="fractalNoise" baseFrequency="0.2" numOctaves="2" seed="43"/><feColorMatrix type="matrix" values="0 0 0 0 0.965 0 0 0 0 0.824 0 0 0 0 0.682 40 0 0 0 -16.80"/></filter>
<mask id="c140" maskUnits="userSpaceOnUse" x="0" y="0" width="142" height="141"><polyline points="39.8,0.8 46.6,6.8 56.6,10.2 66.7,11.1 76.8,8.4 85.3,4.4 92.0,0.8" fill="none" stroke="#fff" stroke-width="5.82" stroke-linecap="round" stroke-linejoin="round"/></mask>
<filter id="f141" x="0" y="0" width="1" height="1" color-interpolation-filters="sRGB"><feTurbulence type="fractalNoise" baseFrequency="0.2" numOctaves="2" seed="44"/><feColorMatrix type="matrix" values="0 0 0 0 0.910 0 0 0 0 0.604 0 0 0 0 0.353 40 0 0 0 -19.20"/></filter>
<mask id="c142" maskUnits="userSpaceOnUse" x="0" y="0" width="142" height="141"><polyline points="39.8,0.8 46.6,6.8 56.6,10.2 66.7,11.1 76.8,8.4 85.3,4.4 92.0,0.8" fill="none" stroke="#fff" stroke-width="2.46" stroke-linecap="round" stroke-linejoin="round"/></mask>
<filter id="f143" x="0" y="0" width="1" height="1" color-interpolation-filters="sRGB"><feTurbulence type="fractalNoise" baseFrequency="0.1" numOctaves="2" seed="3"/><feColorMatrix type="matrix" values="0 0 0 0 0.863 0 0 0 0 0.478 0 0 0 0 0.231 40 0 0 0 -20.80"/></filter>
<clipPath id="c144"><polygon points="50.8,15.6 120.2,14.4 138.1,22.3 144.3,29.0 144.3,39.1 131.4,41.5 113.5,48.2 97.8,50.5 84.4,48.5 62.0,40.2 50.8,33.5"/></clipPath>
<filter id="f145" x="0" y="0" width="1" height="1" color-interpolation-filters="sRGB"><feTurbulence type="fractalNoise" baseFrequency="0.12" numOctaves="2" seed="8"/><feColorMatrix type="matrix" values="0 0 0 0 0.863 0 0 0 0 0.478 0 0 0 0 0.231 40 0 0 0 -20.00"/></filter>
<clipPath id="c146"><polygon points="16.1,22.3 28.4,17.8 39.6,26.8 38.5,40.2 28.4,50.3 17.2,52.5 13.8,42.4 17.2,31.2"/></clipPath>
<filter id="f147" x="0" y="0" width="1" height="1" color-interpolation-filters="sRGB"><feTurbulence type="fractalNoise" baseFrequency="0.1" numOctaves="2" seed="5"/><feColorMatrix type="matrix" values="0 0 0 0 0.867 0 0 0 0 0.392 0 0 0 0 0.157 40 0 0 0 -20.00"/></filter>
<clipPath id="c148"><polygon points="-0.7,-0.1 39.6,-0.1 38.5,8.8 32.9,17.8 22.8,22.3 18.3,31.2 8.2,40.2 -0.7,43.5"/></clipPath>
<filter id="f149" x="0" y="0" width="1" height="1" color-interpolation-filters="sRGB"><feTurbulence type="fractalNoise" baseFrequency="0.14" numOctaves="2" seed="11"/><feColorMatrix type="matrix" values="0 0 0 0 0.863 0 0 0 0 0.478 0 0 0 0 0.231 40 0 0 0 -25.60"/></filter>
<clipPath id="c150"><polygon points="-5.2,-4.6 144.8,-4.6 144.8,145.4 -5.2,145.4"/></clipPath>
<filter id="f151" x="0" y="0" width="1" height="1" color-interpolation-filters="sRGB"><feTurbulence type="fractalNoise" baseFrequency="0.16" numOctaves="2" seed="23"/><feColorMatrix type="matrix" values="0 0 0 0 0.867 0 0 0 0 0.392 0 0 0 0 0.157 40 0 0 0 -24.00"/></filter>
<clipPath id="c152"><polygon points="30.6,54.1 54.8,54.1 54.8,72.9 30.6,72.9"/></clipPath>
<filter id="f153" x="0" y="0" width="1" height="1" color-interpolation-filters="sRGB"><feTurbulence type="fractalNoise" baseFrequency="0.12" numOctaves="2" seed="13"/><feColorMatrix type="matrix" values="0 0 0 0 0.910 0 0 0 0 0.251 0 0 0 0 0.094 40 0 0 0 -24.00"/></filter>
<clipPath id="c154"><polygon points="17.2,40.2 95.5,40.2 95.5,96.1 17.2,96.1"/></clipPath>
<filter id="f155" x="0" y="0" width="1" height="1" color-interpolation-filters="sRGB"><feTurbulence type="fractalNoise" baseFrequency="0.08 0.14" numOctaves="2" seed="3"/><feColorMatrix type="matrix" values="0 0 0 0 0.659 0 0 0 0 0.110 0 0 0 0 0.078 40 0 0 0 -27.20"/></filter>
<clipPath id="c156"><polygon points="37.7,7.7 61.2,7.7 83.5,4.4 101.5,7.7 119.4,12.2 143.5,15.1 143.5,29.0 137.3,36.2 119.4,42.9 97.0,47.3 83.5,45.1 61.2,36.2 52.2,27.2 44.4,17.8"/></clipPath>
<filter id="f157" x="0" y="0" width="1" height="1" color-interpolation-filters="sRGB"><feTurbulence type="fractalNoise" baseFrequency="0.12" numOctaves="2" seed="4"/><feColorMatrix type="matrix" values="0 0 0 0 0.918 0 0 0 0 0.208 0 0 0 0 0.106 40 0 0 0 -30.40"/></filter>
<clipPath id="c158"><polygon points="37.7,7.7 61.2,7.7 83.5,4.4 101.5,7.7 119.4,12.2 143.5,15.1 143.5,29.0 137.3,36.2 119.4,42.9 97.0,47.3 83.5,45.1 61.2,36.2 52.2,27.2 44.4,17.8"/></clipPath>
<filter id="f159" x="0" y="0" width="1" height="1" color-interpolation-filters="sRGB"><feTurbulence type="fractalNoise" baseFrequency="0.1" numOctaves="2" seed="5"/><feColorMatrix type="matrix" values="0 0 0 0 0.812 0 0 0 0 0.141 0 0 0 0 0.098 40 0 0 0 -22.00"/></filter>
<clipPath id="c160"><polygon points="-1.5,2.1 23.1,2.1 23.1,20.0 -1.5,20.0"/></clipPath>
<filter id="f161" x="0" y="0" width="1" height="1" color-interpolation-filters="sRGB"><feTurbulence type="fractalNoise" baseFrequency="0.1 0.16" numOctaves="2" seed="6"/><feColorMatrix type="matrix" values="0 0 0 0 0.812 0 0 0 0 0.141 0 0 0 0 0.098 40 0 0 0 -22.00"/></filter>
<clipPath id="c162"><polygon points="38.8,0.3 143.5,0.3 143.5,15.6 38.8,8.8"/></clipPath>
<filter id="f163" x="0" y="0" width="1" height="1" color-interpolation-filters="sRGB"><feTurbulence type="fractalNoise" baseFrequency="0.1 0.16" numOctaves="2" seed="3"/><feColorMatrix type="matrix" values="0 0 0 0 0.910 0 0 0 0 0.267 0 0 0 0 0.098 40 0 0 0 -20.00"/></filter>
<clipPath id="c164"><polygon points="28.4,0.4 144.3,0.4 144.3,39.2 139.2,40.3 131.4,41.6 122.4,46.1 113.5,48.3 106.7,49.2 97.8,50.6 84.4,48.6 73.2,44.8 62.0,40.3 50.8,33.6 41.1,27.3 36.2,21.2 32.4,14.5 28.4,8.9"/></clipPath>
<filter id="f165" x="0" y="0" width="1" height="1" color-interpolation-filters="sRGB"><feTurbulence type="fractalNoise" baseFrequency="0.15" numOctaves="2" seed="47"/><feColorMatrix type="matrix" values="0 0 0 0 0.851 0 0 0 0 0.427 0 0 0 0 0.180 40 0 0 0 -16.80"/></filter>
<mask id="c166" maskUnits="userSpaceOnUse" x="0" y="0" width="142" height="141"><polyline points="92.0,1.1 105.4,3.6 117.0,6.9 130.5,11.2 141.4,15.6" fill="none" stroke="#fff" stroke-width="3.58" stroke-linecap="round" stroke-linejoin="round"/></mask>
<filter id="f167" x="0" y="0" width="1" height="1" color-interpolation-filters="sRGB"><feTurbulence type="fractalNoise" baseFrequency="0.12" numOctaves="2" seed="9"/><feColorMatrix type="matrix" values="0 0 0 0 0.886 0 0 0 0 0.541 0 0 0 0 0.271 40 0 0 0 -22.00"/></filter>
<clipPath id="c168"><polygon points="114.6,50.3 144.3,39.2 144.3,103.0 124.6,103.0 116.8,85.0 114.6,69.4"/></clipPath>
<filter id="f169" x="0" y="0" width="1" height="1" color-interpolation-filters="sRGB"><feTurbulence type="fractalNoise" baseFrequency="0.12" numOctaves="2" seed="5"/><feColorMatrix type="matrix" values="0 0 0 0 0.851 0 0 0 0 0.427 0 0 0 0 0.180 40 0 0 0 -20.00"/></filter>
<clipPath id="c170"><polygon points="-0.7,-0.0 39.6,-0.0 38.5,8.9 32.9,17.9 22.8,22.4 18.3,31.3 8.2,40.3 -0.7,43.6"/></clipPath>
<filter id="f171" x="0" y="0" width="1" height="1" color-interpolation-filters="sRGB"><feTurbulence type="fractalNoise" baseFrequency="0.1 0.2" numOctaves="2" seed="7"/><feColorMatrix type="matrix" values="0 0 0 0 0.973 0 0 0 0 0.835 0 0 0 0 0.682 40 0 0 0 -23.20"/></filter>
<clipPath id="c172"><polygon points="-0.7,-0.0 39.6,-0.0 38.5,8.9 32.9,17.9 22.8,22.4 18.3,31.3 8.2,40.3 -0.7,43.6"/></clipPath>
<filter id="f173" x="0" y="0" width="1" height="1" color-interpolation-filters="sRGB"><feTurbulence type="fractalNoise" baseFrequency="0.16 0.22" numOctaves="2" seed="11"/><feColorMatrix type="matrix" values="0 0 0 0 0.851 0 0 0 0 0.427 0 0 0 0 0.180 40 0 0 0 -22.80"/></filter>
<clipPath id="c174"><polygon points="-5.2,-4.5 144.8,-4.5 144.8,145.5 -5.2,145.5"/></clipPath>
<filter id="f175" x="0" y="0" width="1" height="1" color-interpolation-filters="sRGB"><feTurbulence type="fractalNoise" baseFrequency="0.16" numOctaves="2" seed="21"/><feColorMatrix type="matrix" values="0 0 0 0 0.910 0 0 0 0 0.267 0 0 0 0 0.098 40 0 0 0 -20.00"/></filter>
<clipPath id="c176"><polygon points="39.6,48.1 64.2,48.1 64.2,65.3 39.6,65.3"/></clipPath>
<filter id="f177" x="0" y="0" width="1" height="1" color-interpolation-filters="sRGB"><feTurbulence type="fractalNoise" baseFrequency="0.12" numOctaves="2" seed="4"/><feColorMatrix type="matrix" values="0 0 0 0 0.910 0 0 0 0 0.267 0 0 0 0 0.098 40 0 0 0 -20.00"/></filter>
<clipPath id="c178"><polygon points="28.4,8.9 39.6,4.5 62.0,8.9 66.4,22.4 62.0,26.8 55.2,31.3 50.8,33.6 41.1,27.3 36.2,21.2 32.4,14.5"/></clipPath>
<filter id="f179" x="0" y="0" width="1" height="1" color-interpolation-filters="sRGB"><feTurbulence type="fractalNoise" baseFrequency="0.14" numOctaves="2" seed="15"/><feColorMatrix type="matrix" values="0 0 0 0 0.851 0 0 0 0 0.427 0 0 0 0 0.180 40 0 0 0 -20.00"/></filter>
<clipPath id="c180"><polygon points="102.3,51.5 138.1,40.3 142.6,47.0 129.1,62.7 120.2,89.5 111.2,73.9 102.3,62.7"/></clipPath>
<filter id="f181" x="0" y="0" width="1" height="1" color-interpolation-filters="sRGB"><feTurbulence type="fractalNoise" baseFrequency="0.2" numOctaves="2" seed="41"/><feColorMatrix type="matrix" values="0 0 0 0 0.886 0 0 0 0 0.541 0 0 0 0 0.271 40 0 0 0 -16.80"/></filter>
<mask id="c182" maskUnits="userSpaceOnUse" x="0" y="0" width="142" height="141"><polyline points="32.4,14.5 36.2,21.2 41.1,27.3 50.8,33.6 62.0,40.3 73.2,44.8 84.4,48.6 97.8,50.6 106.7,49.2 113.5,48.3" fill="none" stroke="#fff" stroke-width="7.61" stroke-linecap="round" stroke-linejoin="round"/></mask>
<filter id="f183" x="0" y="0" width="1" height="1" color-interpolation-filters="sRGB"><feTurbulence type="fractalNoise" baseFrequency="0.2" numOctaves="2" seed="46"/><feColorMatrix type="matrix" values="0 0 0 0 0.886 0 0 0 0 0.541 0 0 0 0 0.271 40 0 0 0 -16.80"/></filter>
<mask id="c184" maskUnits="userSpaceOnUse" x="0" y="0" width="142" height="141"><polyline points="113.5,48.3 122.4,46.1 131.4,41.6 139.2,40.3" fill="none" stroke="#fff" stroke-width="4.03" stroke-linecap="round" stroke-linejoin="round"/></mask>
<filter id="f185" x="0" y="0" width="1" height="1" color-interpolation-filters="sRGB"><feTurbulence type="fractalNoise" baseFrequency="0.2" numOctaves="2" seed="61"/><feColorMatrix type="matrix" values="0 0 0 0 0.973 0 0 0 0 0.835 0 0 0 0 0.682 40 0 0 0 -19.20"/></filter>
<mask id="c186" maskUnits="userSpaceOnUse" x="0" y="0" width="142" height="141"><polyline points="113.5,48.3 122.4,46.1 131.4,41.6 139.2,40.3" fill="none" stroke="#fff" stroke-width="1.79" stroke-linecap="round" stroke-linejoin="round"/></mask>
<filter id="f187" x="0" y="0" width="1" height="1" color-interpolation-filters="sRGB"><feTurbulence type="fractalNoise" baseFrequency="0.2" numOctaves="2" seed="43"/><feColorMatrix type="matrix" values="0 0 0 0 0.886 0 0 0 0 0.541 0 0 0 0 0.271 40 0 0 0 -16.80"/></filter>
<mask id="c188" maskUnits="userSpaceOnUse" x="0" y="0" width="142" height="141"><polyline points="39.8,0.9 46.5,6.9 56.6,10.3 66.7,11.2 76.7,8.5 85.2,4.5 92.0,0.9" fill="none" stroke="#fff" stroke-width="7.16" stroke-linecap="round" stroke-linejoin="round"/></mask>
<filter id="f189" x="0" y="0" width="1" height="1" color-interpolation-filters="sRGB"><feTurbulence type="fractalNoise" baseFrequency="0.2" numOctaves="2" seed="31"/><feColorMatrix type="matrix" values="0 0 0 0 0.902 0 0 0 0 0.973 0 0 0 0 0.988 40 0 0 0 -23.20"/></filter>
<clipPath id="c190"><polygon points="-5.1,-4.5 144.8,-4.5 144.8,145.5 -5.1,145.5"/></clipPath>
<filter id="f191" x="0" y="0" width="1" height="1" color-interpolation-filters="sRGB"><feTurbulence type="fractalNoise" baseFrequency="0.22 0.3" numOctaves="2" seed="3"/><feColorMatrix type="matrix" values="0 0 0 0 0.965 0 0 0 0 0.824 0 0 0 0 0.682 40 0 0 0 -19.60"/></filter>
<clipPath id="c192"><polygon points="28.4,0.4 144.4,0.4 144.4,39.2 139.2,40.3 131.4,41.6 122.5,46.1 113.5,48.3 106.8,49.2 97.8,50.6 84.4,48.6 73.2,44.8 62.0,40.3 50.8,33.6 41.2,27.3 36.3,21.2 32.5,14.5 28.4,8.9"/></clipPath>
<filter id="f193" x="0" y="0" width="1" height="1" color-interpolation-filters="sRGB"><feTurbulence type="fractalNoise" baseFrequency="0.12 0.2" numOctaves="2" seed="4"/><feColorMatrix type="matrix" values="0 0 0 0 0.965 0 0 0 0 0.824 0 0 0 0 0.682 40 0 0 0 -16.80"/></filter>
<clipPath id="c194"><polygon points="39.6,0.4 144.4,0.4 144.4,4.5 100.1,11.2 68.7,13.9 48.6,11.6"/></clipPath>
<filter id="f195" x="0" y="0" width="1" height="1" color-interpolation-filters="sRGB"><feTurbulence type="fractalNoise" baseFrequency="0.12 0.2" numOctaves="2" seed="5"/><feColorMatrix type="matrix" values="0 0 0 0 0.910 0 0 0 0 0.604 0 0 0 0 0.353 40 0 0 0 -22.40"/></filter>
<clipPath id="c196"><polygon points="39.6,0.4 144.4,0.4 144.4,4.5 100.1,11.2 68.7,13.9 48.6,11.6"/></clipPath>
<filter id="f197" x="0" y="0" width="1" height="1" color-interpolation-filters="sRGB"><feTurbulence type="fractalNoise" baseFrequency="0.16 0.22" numOctaves="2" seed="6"/><feColorMatrix type="matrix" values="0 0 0 0 0.965 0 0 0 0 0.824 0 0 0 0 0.682 40 0 0 0 -17.20"/></filter>
<clipPath id="c198"><polygon points="-0.7,-0.0 39.6,-0.0 38.5,8.9 32.9,17.9 22.8,22.4 18.4,31.3 8.3,40.3 -0.7,43.6"/></clipPath>
<filter id="f199" x="0" y="0" width="1" height="1" color-interpolation-filters="sRGB"><feTurbulence type="fractalNoise" baseFrequency="0.16 0.22" numOctaves="2" seed="7"/><feColorMatrix type="matrix" values="0 0 0 0 0.910 0 0 0 0 0.604 0 0 0 0 0.353 40 0 0 0 -21.60"/></filter>
<clipPath id="c200"><polygon points="-0.7,-0.0 39.6,-0.0 38.5,8.9 32.9,17.9 22.8,22.4 18.4,31.3 8.3,40.3 -0.7,43.6"/></clipPath>
<filter id="f201" x="0" y="0" width="1" height="1" color-interpolation-filters="sRGB"><feTurbulence type="fractalNoise" baseFrequency="0.16" numOctaves="2" seed="8"/><feColorMatrix type="matrix" values="0 0 0 0 0.965 0 0 0 0 0.824 0 0 0 0 0.682 40 0 0 0 -20.00"/></filter>
<clipPath id="c202"><polygon points="-0.7,43.6 8.3,42.5 21.7,38.0 17.2,51.5 15.0,67.1 -0.7,62.7"/></clipPath>
<filter id="f203" x="0" y="0" width="1" height="1" color-interpolation-filters="sRGB"><feTurbulence type="fractalNoise" baseFrequency="0.16" numOctaves="2" seed="9"/><feColorMatrix type="matrix" values="0 0 0 0 0.965 0 0 0 0 0.824 0 0 0 0 0.682 40 0 0 0 -20.80"/></filter>
<clipPath id="c204"><polygon points="114.6,50.3 144.4,39.2 144.4,103.0 124.7,103.0 116.9,85.0 114.6,69.4"/></clipPath>
<filter id="f205" x="0" y="0" width="1" height="1" color-interpolation-filters="sRGB"><feTurbulence type="fractalNoise" baseFrequency="0.14 0.22" numOctaves="2" seed="11"/><feColorMatrix type="matrix" values="0 0 0 0 0.965 0 0 0 0 0.824 0 0 0 0 0.682 40 0 0 0 -23.20"/></filter>
<clipPath id="c206"><polygon points="-5.1,-4.5 144.8,-4.5 144.8,145.5 -5.1,145.5"/></clipPath>
<filter id="f207" x="0" y="0" width="1" height="1" color-interpolation-filters="sRGB"><feTurbulence type="fractalNoise" baseFrequency="0.2" numOctaves="2" seed="55"/><feColorMatrix type="matrix" values="0 0 0 0 0.965 0 0 0 0 0.824 0 0 0 0 0.682 40 0 0 0 -16.80"/></filter>
<clipPath id="c208"><polygon points="30.7,7.8 39.6,5.6 59.8,11.6 63.8,22.4 61.1,29.1 66.0,39.4 62.0,42.1 50.8,36.2 40.7,28.4 34.0,20.1"/></clipPath>
<filter id="f209" x="0" y="0" width="1" height="1" color-interpolation-filters="sRGB"><feTurbulence type="fractalNoise" baseFrequency="0.22" numOctaves="2" seed="56"/><feColorMatrix type="matrix" values="0 0 0 0 0.910 0 0 0 0 0.604 0 0 0 0 0.353 40 0 0 0 -22.40"/></filter>
<clipPath id="c210"><polygon points="30.7,7.8 39.6,5.6 59.8,11.6 63.8,22.4 61.1,29.1 66.0,39.4 62.0,42.1 50.8,36.2 40.7,28.4 34.0,20.1"/></clipPath>
<filter id="f211" x="0" y="0" width="1" height="1" color-interpolation-filters="sRGB"><feTurbulence type="fractalNoise" baseFrequency="0.2" numOctaves="2" seed="41"/><feColorMatrix type="matrix" values="0 0 0 0 0.965 0 0 0 0 0.824 0 0 0 0 0.682 40 0 0 0 -16.00"/></filter>
<mask id="c212" maskUnits="userSpaceOnUse" x="0" y="0" width="142" height="141"><polyline points="28.4,11.6 39.6,21.9 49.3,28.4 57.5,34.0 62.9,38.0 73.2,44.3 84.4,48.6 97.8,50.6 106.8,49.2 113.5,48.3" fill="none" stroke="#fff" stroke-width="7.16" stroke-linecap="round" stroke-linejoin="round"/></mask>
<filter id="f213" x="0" y="0" width="1" height="1" color-interpolation-filters="sRGB"><feTurbulence type="fractalNoise" baseFrequency="0.2" numOctaves="2" seed="43"/><feColorMatrix type="matrix" values="0 0 0 0 0.965 0 0 0 0 0.824 0 0 0 0 0.682 40 0 0 0 -16.80"/></filter>
<mask id="c214" maskUnits="userSpaceOnUse" x="0" y="0" width="142" height="141"><polyline points="39.8,0.9 46.6,6.9 56.6,10.3 66.7,11.2 76.8,8.5 85.3,4.5 92.0,0.9" fill="none" stroke="#fff" stroke-width="5.82" stroke-linecap="round" stroke-linejoin="round"/></mask>
<filter id="f215" x="0" y="0" width="1" height="1" color-interpolation-filters="sRGB"><feTurbulence type="fractalNoise" baseFrequency="0.2" numOctaves="2" seed="44"/><feColorMatrix type="matrix" values="0 0 0 0 0.910 0 0 0 0 0.604 0 0 0 0 0.353 40 0 0 0 -20.00"/></filter>
<mask id="c216" maskUnits="userSpaceOnUse" x="0" y="0" width="142" height="141"><polyline points="39.8,0.9 46.6,6.9 56.6,10.3 66.7,11.2 76.8,8.5 85.3,4.5 92.0,0.9" fill="none" stroke="#fff" stroke-width="2.24" stroke-linecap="round" stroke-linejoin="round"/></mask>
<filter id="f217" x="0" y="0" width="1" height="1" color-interpolation-filters="sRGB"><feTurbulence type="fractalNoise" baseFrequency="0.06 0.1" numOctaves="2" seed="3"/><feColorMatrix type="matrix" values="0 0 0 0 0.871 0 0 0 0 0.149 0 0 0 0 0.094 40 0 0 0 -20.00"/></filter>
<clipPath id="c218"><polygon points="28.4,0.4 144.3,0.4 144.3,39.2 139.2,40.3 131.4,41.6 122.4,46.1 113.5,48.3 106.7,49.2 97.8,50.6 84.4,48.6 73.2,44.8 62.0,40.3 50.8,33.6 41.1,27.3 36.2,21.2 32.4,14.5 28.4,8.9"/></clipPath>
<filter id="f219" x="0" y="0" width="1" height="1" color-interpolation-filters="sRGB"><feTurbulence type="fractalNoise" baseFrequency="0.1" numOctaves="2" seed="5"/><feColorMatrix type="matrix" values="0 0 0 0 0.867 0 0 0 0 0.392 0 0 0 0 0.157 40 0 0 0 -22.00"/></filter>
<clipPath id="c220"><polygon points="-0.7,-0.0 39.6,-0.0 38.5,8.9 32.9,17.9 22.8,22.4 18.3,31.3 8.2,40.3 -0.7,43.6"/></clipPath>
<filter id="f221" x="0" y="0" width="1" height="1" color-interpolation-filters="sRGB"><feTurbulence type="fractalNoise" baseFrequency="0.12" numOctaves="2" seed="11"/><feColorMatrix type="matrix" values="0 0 0 0 0.910 0 0 0 0 0.251 0 0 0 0 0.094 40 0 0 0 -22.00"/></filter>
<clipPath id="c222"><polygon points="30.6,85.0 68.7,85.0 68.7,133.2 30.6,133.2"/></clipPath>
<filter id="f223" x="0" y="0" width="1" height="1" color-interpolation-filters="sRGB"><feTurbulence type="fractalNoise" baseFrequency="0.12" numOctaves="2" seed="13"/><feColorMatrix type="matrix" values="0 0 0 0 0.867 0 0 0 0 0.392 0 0 0 0 0.157 40 0 0 0 -24.80"/></filter>
<clipPath id="c224"><polygon points="-5.2,-4.5 144.8,-4.5 144.8,145.5 -5.2,145.5"/></clipPath>
<filter id="f225" x="0" y="0" width="1" height="1" color-interpolation-filters="sRGB"><feTurbulence type="fractalNoise" baseFrequency="0.08 0.14" numOctaves="2" seed="3"/><feColorMatrix type="matrix" values="0 0 0 0 0.659 0 0 0 0 0.110 0 0 0 0 0.078 40 0 0 0 -25.60"/></filter>
<clipPath id="c226"><polygon points="36.5,8.9 50.0,6.7 67.9,6.7 94.7,6.7 119.4,11.2 143.5,15.6 143.5,29.1 128.3,33.6 119.4,38.0 108.2,43.9 97.0,47.4 83.5,45.2 61.2,36.2 52.2,27.3"/></clipPath>
<filter id="f227" x="0" y="0" width="1" height="1" color-interpolation-filters="sRGB"><feTurbulence type="fractalNoise" baseFrequency="0.14" numOctaves="2" seed="7"/><feColorMatrix type="matrix" values="0 0 0 0 0.918 0 0 0 0 0.208 0 0 0 0 0.106 40 0 0 0 -18.00"/></filter>
<clipPath id="c228"><polygon points="46.8,16.1 52.7,14.3 58.9,16.5 57.6,24.2 54.9,29.1 50.4,28.6 47.7,22.4"/></clipPath>
<filter id="f229" x="0" y="0" width="1" height="1" color-interpolation-filters="sRGB"><feTurbulence type="fractalNoise" baseFrequency="0.14" numOctaves="2" seed="8"/><feColorMatrix type="matrix" values="0 0 0 0 0.918 0 0 0 0 0.208 0 0 0 0 0.106 40 0 0 0 -18.00"/></filter>
<clipPath id="c230"><polygon points="72.4,34.5 83.5,37.6 99.2,40.7 98.3,45.6 83.5,43.9 71.5,39.4"/></clipPath>
<filter id="f231" x="0" y="0" width="1" height="1" color-interpolation-filters="sRGB"><feTurbulence type="fractalNoise" baseFrequency="0.1 0.16" numOctaves="2" seed="3"/><feColorMatrix type="matrix" values="0 0 0 0 0.890 0 0 0 0 0.137 0 0 0 0 0.102 40 0 0 0 -20.80"/></filter>
<clipPath id="c232"><polygon points="28.4,0.5 144.3,0.5 144.3,39.2 139.2,40.4 131.4,41.7 122.4,46.2 113.5,48.4 106.7,49.3 97.8,50.7 84.4,48.6 73.2,44.8 62.0,40.4 50.8,33.6 41.1,27.4 36.2,21.3 32.4,14.6 28.4,9.0"/></clipPath>
<filter id="f233" x="0" y="0" width="1" height="1" color-interpolation-filters="sRGB"><feTurbulence type="fractalNoise" baseFrequency="0.16" numOctaves="2" seed="67"/><feColorMatrix type="matrix" values="0 0 0 0 0.851 0 0 0 0 0.427 0 0 0 0 0.180 40 0 0 0 -22.80"/></filter>
<clipPath id="c234"><polygon points="28.4,0.5 144.3,0.5 144.3,39.2 139.2,40.4 131.4,41.7 122.4,46.2 113.5,48.4 106.7,49.3 97.8,50.7 84.4,48.6 73.2,44.8 62.0,40.4 50.8,33.6 41.1,27.4 36.2,21.3 32.4,14.6 28.4,9.0"/></clipPath>
<filter id="f235" x="0" y="0" width="1" height="1" color-interpolation-filters="sRGB"><feTurbulence type="fractalNoise" baseFrequency="0.22" numOctaves="2" seed="68"/><feColorMatrix type="matrix" values="0 0 0 0 0.929 0 0 0 0 0.651 0 0 0 0 0.420 40 0 0 0 -27.20"/></filter>
<clipPath id="c236"><polygon points="28.4,0.5 144.3,0.5 144.3,39.2 139.2,40.4 131.4,41.7 122.4,46.2 113.5,48.4 106.7,49.3 97.8,50.7 84.4,48.6 73.2,44.8 62.0,40.4 50.8,33.6 41.1,27.4 36.2,21.3 32.4,14.6 28.4,9.0"/></clipPath>
<filter id="f237" x="0" y="0" width="1" height="1" color-interpolation-filters="sRGB"><feTurbulence type="fractalNoise" baseFrequency="0.12" numOctaves="2" seed="6"/><feColorMatrix type="matrix" values="0 0 0 0 0.886 0 0 0 0 0.541 0 0 0 0 0.271 40 0 0 0 -20.00"/></filter>
<clipPath id="c238"><polygon points="39.6,1.2 68.7,1.2 68.7,15.7 53.0,20.2 39.6,13.5"/></clipPath>
<filter id="f239" x="0" y="0" width="1" height="1" color-interpolation-filters="sRGB"><feTurbulence type="fractalNoise" baseFrequency="0.14" numOctaves="2" seed="16"/><feColorMatrix type="matrix" values="0 0 0 0 0.973 0 0 0 0 0.835 0 0 0 0 0.682 40 0 0 0 -24.00"/></filter>
<clipPath id="c240"><polygon points="39.6,1.2 68.7,1.2 68.7,15.7 53.0,20.2 39.6,13.5"/></clipPath>
<filter id="f241" x="0" y="0" width="1" height="1" color-interpolation-filters="sRGB"><feTurbulence type="fractalNoise" baseFrequency="0.12" numOctaves="2" seed="5"/><feColorMatrix type="matrix" values="0 0 0 0 0.910 0 0 0 0 0.267 0 0 0 0 0.098 40 0 0 0 -20.00"/></filter>
<clipPath id="c242"><polygon points="-0.7,0.1 39.6,0.1 38.5,9.0 32.9,18.0 22.8,22.5 18.3,31.4 8.2,40.4 -0.7,43.7"/></clipPath>
<filter id="f243" x="0" y="0" width="1" height="1" color-interpolation-filters="sRGB"><feTurbulence type="fractalNoise" baseFrequency="0.1 0.2" numOctaves="2" seed="7"/><feColorMatrix type="matrix" values="0 0 0 0 0.973 0 0 0 0 0.835 0 0 0 0 0.682 40 0 0 0 -22.40"/></filter>
<clipPath id="c244"><polygon points="-0.7,0.1 39.6,0.1 38.5,9.0 32.9,18.0 22.8,22.5 18.3,31.4 8.2,40.4 -0.7,43.7"/></clipPath>
<filter id="f245" x="0" y="0" width="1" height="1" color-interpolation-filters="sRGB"><feTurbulence type="fractalNoise" baseFrequency="0.12" numOctaves="2" seed="9"/><feColorMatrix type="matrix" values="0 0 0 0 0.851 0 0 0 0 0.427 0 0 0 0 0.180 40 0 0 0 -20.00"/></filter>
<clipPath id="c246"><polygon points="114.6,50.4 144.3,39.2 144.3,103.0 124.6,103.0 116.8,85.1 114.6,69.5"/></clipPath>
<filter id="f247" x="0" y="0" width="1" height="1" color-interpolation-filters="sRGB"><feTurbulence type="fractalNoise" baseFrequency="0.15" numOctaves="2" seed="47"/><feColorMatrix type="matrix" values="0 0 0 0 0.851 0 0 0 0 0.427 0 0 0 0 0.180 40 0 0 0 -18.00"/></filter>
<mask id="c248" maskUnits="userSpaceOnUse" x="0" y="0" width="142" height="141"><polyline points="92.0,1.2 105.4,3.6 117.0,7.0 130.5,11.3 141.4,15.7" fill="none" stroke="#fff" stroke-width="3.13" stroke-linecap="round" stroke-linejoin="round"/></mask>
<filter id="f249" x="0" y="0" width="1" height="1" color-interpolation-filters="sRGB"><feTurbulence type="fractalNoise" baseFrequency="0.16 0.22" numOctaves="2" seed="11"/><feColorMatrix type="matrix" values="0 0 0 0 0.910 0 0 0 0 0.267 0 0 0 0 0.098 40 0 0 0 -22.40"/></filter>
<clipPath id="c250"><polygon points="23.9,58.3 95.5,58.3 95.5,134.4 23.9,134.4"/></clipPath>
<filter id="f251" x="0" y="0" width="1" height="1" color-interpolation-filters="sRGB"><feTurbulence type="fractalNoise" baseFrequency="0.16 0.22" numOctaves="2" seed="12"/><feColorMatrix type="matrix" values="0 0 0 0 0.910 0 0 0 0 0.267 0 0 0 0 0.098 40 0 0 0 -25.60"/></filter>
<clipPath id="c252"><polygon points="-5.2,-4.4 144.8,-4.4 144.8,145.6 -5.2,145.6"/></clipPath>
<filter id="f253" x="0" y="0" width="1" height="1" color-interpolation-filters="sRGB"><feTurbulence type="fractalNoise" baseFrequency="0.2" numOctaves="2" seed="59"/><feColorMatrix type="matrix" values="0 0 0 0 0.851 0 0 0 0 0.427 0 0 0 0 0.180 40 0 0 0 -18.00"/></filter>
<mask id="c254" maskUnits="userSpaceOnUse" x="0" y="0" width="142" height="141"><polyline points="62.6,100.8 68.7,92.3 77.6,85.6 86.6,80.0" fill="none" stroke="#fff" stroke-width="2.69" stroke-linecap="round" stroke-linejoin="round"/></mask>
<filter id="f255" x="0" y="0" width="1" height="1" color-interpolation-filters="sRGB"><feTurbulence type="fractalNoise" baseFrequency="0.18" numOctaves="2" seed="60"/><feColorMatrix type="matrix" values="0 0 0 0 0.886 0 0 0 0 0.541 0 0 0 0 0.271 40 0 0 0 -20.00"/></filter>
<mask id="c256" maskUnits="userSpaceOnUse" x="0" y="0" width="142" height="141"><polyline points="46.3,69.5 62.0,67.2 68.7,71.7" fill="none" stroke="#fff" stroke-width="6.72" stroke-linecap="round" stroke-linejoin="round"/></mask>
<filter id="f257" x="0" y="0" width="1" height="1" color-interpolation-filters="sRGB"><feTurbulence type="fractalNoise" baseFrequency="0.14" numOctaves="2" seed="15"/><feColorMatrix type="matrix" values="0 0 0 0 0.851 0 0 0 0 0.427 0 0 0 0 0.180 40 0 0 0 -20.00"/></filter>
<clipPath id="c258"><polygon points="102.3,51.6 138.1,40.4 142.6,47.1 129.1,62.7 120.2,89.6 111.2,73.9 102.3,62.7"/></clipPath>
<filter id="f259" x="0" y="0" width="1" height="1" color-interpolation-filters="sRGB"><feTurbulence type="fractalNoise" baseFrequency="0.16" numOctaves="2" seed="65"/><feColorMatrix type="matrix" values="0 0 0 0 0.910 0 0 0 0 0.267 0 0 0 0 0.098 40 0 0 0 -16.00"/></filter>
<mask id="c260" maskUnits="userSpaceOnUse" x="0" y="0" width="142" height="141"><polyline points="34.0,14.6 39.6,20.7 46.3,28.1 55.2,35.9 62.0,40.4" fill="none" stroke="#fff" stroke-width="13.43" stroke-linecap="round" stroke-linejoin="round"/></mask>
<filter id="f261" x="0" y="0" width="1" height="1" color-interpolation-filters="sRGB"><feTurbulence type="fractalNoise" baseFrequency="0.2" numOctaves="2" seed="41"/><feColorMatrix type="matrix" values="0 0 0 0 0.851 0 0 0 0 0.427 0 0 0 0 0.180 40 0 0 0 -16.80"/></filter>
<mask id="c262" maskUnits="userSpaceOnUse" x="0" y="0" width="142" height="141"><polyline points="34.0,14.6 39.6,20.7 46.3,28.1 55.2,35.9 62.0,40.4 73.2,44.8 84.4,48.6 97.8,50.7 106.7,49.3 113.5,48.4" fill="none" stroke="#fff" stroke-width="9.85" stroke-linecap="round" stroke-linejoin="round"/></mask>
<filter id="f263" x="0" y="0" width="1" height="1" color-interpolation-filters="sRGB"><feTurbulence type="fractalNoise" baseFrequency="0.2" numOctaves="2" seed="66"/><feColorMatrix type="matrix" values="0 0 0 0 0.886 0 0 0 0 0.541 0 0 0 0 0.271 40 0 0 0 -18.00"/></filter>
<mask id="c264" maskUnits="userSpaceOnUse" x="0" y="0" width="142" height="141"><polyline points="34.0,14.6 39.6,20.7 46.3,28.1 55.2,35.9 62.0,40.4 73.2,44.8 84.4,48.6 97.8,50.7 106.7,49.3 113.5,48.4" fill="none" stroke="#fff" stroke-width="6.27" stroke-linecap="round" stroke-linejoin="round"/></mask>
<filter id="f265" x="0" y="0" width="1" height="1" color-interpolation-filters="sRGB"><feTurbulence type="fractalNoise" baseFrequency="0.2" numOctaves="2" seed="58"/><feColorMatrix type="matrix" values="0 0 0 0 0.929 0 0 0 0 0.651 0 0 0 0 0.420 40 0 0 0 -20.00"/></filter>
<mask id="c266" maskUnits="userSpaceOnUse" x="0" y="0" width="142" height="141"><polyline points="34.0,14.6 39.6,20.7 46.3,28.1 55.2,35.9 62.0,40.4 73.2,44.8 84.4,48.6 97.8,50.7 106.7,49.3 113.5,48.4" fill="none" stroke="#fff" stroke-width="3.58" stroke-linecap="round" stroke-linejoin="round"/></mask>
<filter id="f267" x="0" y="0" width="1" height="1" color-interpolation-filters="sRGB"><feTurbulence type="fractalNoise" baseFrequency="0.25" numOctaves="2" seed="49"/><feColorMatrix type="matrix" values="0 0 0 0 0.992 0 0 0 0 0.965 0 0 0 0 0.894 40 0 0 0 -21.60"/></filter>
<mask id="c268" maskUnits="userSpaceOnUse" x="0" y="0" width="142" height="141"><polyline points="34.0,14.6 39.6,20.7 46.3,28.1 55.2,35.9 62.0,40.4 73.2,44.8 84.4,48.6 97.8,50.7 106.7,49.3 113.5,48.4" fill="none" stroke="#fff" stroke-width="2.01" stroke-linecap="round" stroke-linejoin="round"/></mask>
<filter id="f269" x="0" y="0" width="1" height="1" color-interpolation-filters="sRGB"><feTurbulence type="fractalNoise" baseFrequency="0.2" numOctaves="2" seed="46"/><feColorMatrix type="matrix" values="0 0 0 0 0.886 0 0 0 0 0.541 0 0 0 0 0.271 40 0 0 0 -16.80"/></filter>
<mask id="c270" maskUnits="userSpaceOnUse" x="0" y="0" width="142" height="141"><polyline points="113.5,48.4 122.4,46.2 131.4,41.7 139.2,40.4" fill="none" stroke="#fff" stroke-width="3.58" stroke-linecap="round" stroke-linejoin="round"/></mask>
<filter id="f271" x="0" y="0" width="1" height="1" color-interpolation-filters="sRGB"><feTurbulence type="fractalNoise" baseFrequency="0.2" numOctaves="2" seed="43"/><feColorMatrix type="matrix" values="0 0 0 0 0.886 0 0 0 0 0.541 0 0 0 0 0.271 40 0 0 0 -16.80"/></filter>
<mask id="c272" maskUnits="userSpaceOnUse" x="0" y="0" width="142" height="141"><polyline points="39.8,1.0 46.5,7.0 56.6,10.4 66.7,11.3 76.7,8.6 85.2,4.5 92.0,1.0" fill="none" stroke="#fff" stroke-width="5.82" stroke-linecap="round" stroke-linejoin="round"/></mask>
<filter id="f273" x="0" y="0" width="1" height="1" color-interpolation-filters="sRGB"><feTurbulence type="fractalNoise" baseFrequency="0.2" numOctaves="2" seed="48"/><feColorMatrix type="matrix" values="0 0 0 0 0.973 0 0 0 0 0.835 0 0 0 0 0.682 40 0 0 0 -16.80"/></filter>
<mask id="c274" maskUnits="userSpaceOnUse" x="0" y="0" width="142" height="141"><polyline points="39.8,1.0 46.5,7.0 56.6,10.4 66.7,11.3 76.7,8.6 85.2,4.5 92.0,1.0" fill="none" stroke="#fff" stroke-width="2.01" stroke-linecap="round" stroke-linejoin="round"/></mask>
<filter id="f275" x="0" y="0" width="1" height="1" color-interpolation-filters="sRGB"><feTurbulence type="fractalNoise" baseFrequency="0.22 0.3" numOctaves="2" seed="3"/><feColorMatrix type="matrix" values="0 0 0 0 0.965 0 0 0 0 0.824 0 0 0 0 0.682 40 0 0 0 -20.40"/></filter>
<clipPath id="c276"><polygon points="28.4,0.5 144.4,0.5 144.4,39.2 139.2,40.4 131.4,41.7 122.5,46.2 113.5,48.4 106.8,49.3 97.8,50.7 84.4,48.6 73.2,44.8 62.0,40.4 50.8,33.6 41.2,27.4 36.3,21.3 32.5,14.6 28.4,9.0"/></clipPath>
<filter id="f277" x="0" y="0" width="1" height="1" color-interpolation-filters="sRGB"><feTurbulence type="fractalNoise" baseFrequency="0.16 0.22" numOctaves="2" seed="6"/><feColorMatrix type="matrix" values="0 0 0 0 0.965 0 0 0 0 0.824 0 0 0 0 0.682 40 0 0 0 -17.60"/></filter>
<clipPath id="c278"><polygon points="-0.7,0.1 39.6,0.1 38.5,9.0 32.9,18.0 22.8,22.5 18.4,31.4 8.3,40.4 -0.7,43.7"/></clipPath>
<filter id="f279" x="0" y="0" width="1" height="1" color-interpolation-filters="sRGB"><feTurbulence type="fractalNoise" baseFrequency="0.16 0.22" numOctaves="2" seed="7"/><feColorMatrix type="matrix" values="0 0 0 0 0.910 0 0 0 0 0.604 0 0 0 0 0.353 40 0 0 0 -22.00"/></filter>
<clipPath id="c280"><polygon points="-0.7,0.1 39.6,0.1 38.5,9.0 32.9,18.0 22.8,22.5 18.4,31.4 8.3,40.4 -0.7,43.7"/></clipPath>
<filter id="f281" x="0" y="0" width="1" height="1" color-interpolation-filters="sRGB"><feTurbulence type="fractalNoise" baseFrequency="0.14" numOctaves="2" seed="18"/><feColorMatrix type="matrix" values="0 0 0 0 0.902 0 0 0 0 0.973 0 0 0 0 0.988 40 0 0 0 -20.00"/></filter>
<clipPath id="c282"><polygon points="16.1,22.5 28.4,18.0 39.6,26.9 38.5,40.4 28.4,50.4 17.2,52.7 13.9,42.6 17.2,31.4"/></clipPath>
<filter id="f283" x="0" y="0" width="1" height="1" color-interpolation-filters="sRGB"><feTurbulence type="fractalNoise" baseFrequency="0.16" numOctaves="2" seed="9"/><feColorMatrix type="matrix" values="0 0 0 0 0.965 0 0 0 0 0.824 0 0 0 0 0.682 40 0 0 0 -22.00"/></filter>
<clipPath id="c284"><polygon points="114.6,50.4 144.4,39.2 144.4,103.0 124.7,103.0 116.9,85.1 114.6,69.5"/></clipPath>
<filter id="f285" x="0" y="0" width="1" height="1" color-interpolation-filters="sRGB"><feTurbulence type="fractalNoise" baseFrequency="0.12 0.2" numOctaves="2" seed="11"/><feColorMatrix type="matrix" values="0 0 0 0 0.965 0 0 0 0 0.824 0 0 0 0 0.682 40 0 0 0 -20.80"/></filter>
<clipPath id="c286"><polygon points="28.4,69.5 68.7,69.5 88.9,80.7 62.0,134.4 46.3,134.4 28.4,96.3"/></clipPath>
<filter id="f287" x="0" y="0" width="1" height="1" color-interpolation-filters="sRGB"><feTurbulence type="fractalNoise" baseFrequency="0.12 0.2" numOctaves="2" seed="12"/><feColorMatrix type="matrix" values="0 0 0 0 0.965 0 0 0 0 0.824 0 0 0 0 0.682 40 0 0 0 -24.00"/></filter>
<clipPath id="c288"><polygon points="-5.1,-4.4 144.8,-4.4 144.8,145.6 -5.1,145.6"/></clipPath>
<filter id="f289" x="0" y="0" width="1" height="1" color-interpolation-filters="sRGB"><feTurbulence type="fractalNoise" baseFrequency="0.2" numOctaves="2" seed="19"/><feColorMatrix type="matrix" values="0 0 0 0 0.910 0 0 0 0 0.604 0 0 0 0 0.353 40 0 0 0 -20.00"/></filter>
<clipPath id="c290"><polygon points="48.1,104.2 53.5,103.5 54.4,109.3 49.0,110.2"/></clipPath>
<filter id="f291" x="0" y="0" width="1" height="1" color-interpolation-filters="sRGB"><feTurbulence type="fractalNoise" baseFrequency="0.2" numOctaves="2" seed="55"/><feColorMatrix type="matrix" values="0 0 0 0 0.965 0 0 0 0 0.824 0 0 0 0 0.682 40 0 0 0 -16.80"/></filter>
<clipPath id="c292"><polygon points="30.7,7.9 39.6,5.7 59.8,11.7 63.8,22.5 61.1,29.2 66.0,39.5 62.0,42.2 50.8,36.3 40.7,28.5 34.0,20.2"/></clipPath>
<filter id="f293" x="0" y="0" width="1" height="1" color-interpolation-filters="sRGB"><feTurbulence type="fractalNoise" baseFrequency="0.22" numOctaves="2" seed="56"/><feColorMatrix type="matrix" values="0 0 0 0 0.910 0 0 0 0 0.604 0 0 0 0 0.353 40 0 0 0 -22.40"/></filter>
<clipPath id="c294"><polygon points="30.7,7.9 39.6,5.7 59.8,11.7 63.8,22.5 61.1,29.2 66.0,39.5 62.0,42.2 50.8,36.3 40.7,28.5 34.0,20.2"/></clipPath>
<filter id="f295" x="0" y="0" width="1" height="1" color-interpolation-filters="sRGB"><feTurbulence type="fractalNoise" baseFrequency="0.2" numOctaves="2" seed="41"/><feColorMatrix type="matrix" values="0 0 0 0 0.965 0 0 0 0 0.824 0 0 0 0 0.682 40 0 0 0 -16.00"/></filter>
<mask id="c296" maskUnits="userSpaceOnUse" x="0" y="0" width="142" height="141"><polyline points="28.4,11.7 39.6,22.0 49.3,28.5 57.5,34.1 62.9,38.1 73.2,44.4 84.4,48.6 97.8,50.7 106.8,49.3 113.5,48.4" fill="none" stroke="#fff" stroke-width="6.72" stroke-linecap="round" stroke-linejoin="round"/></mask>
<filter id="f297" x="0" y="0" width="1" height="1" color-interpolation-filters="sRGB"><feTurbulence type="fractalNoise" baseFrequency="0.25" numOctaves="2" seed="45"/><feColorMatrix type="matrix" values="0 0 0 0 0.898 0 0 0 0 0.196 0 0 0 0 0.106 40 0 0 0 -20.00"/></filter>
<mask id="c298" maskUnits="userSpaceOnUse" x="0" y="0" width="142" height="141"><polyline points="28.4,11.7 39.6,22.0 49.3,28.5 57.5,34.1 62.9,38.1" fill="none" stroke="#fff" stroke-width="0.90" stroke-linecap="round" stroke-linejoin="round"/></mask>
<filter id="f299" x="0" y="0" width="1" height="1" color-interpolation-filters="sRGB"><feTurbulence type="fractalNoise" baseFrequency="0.2" numOctaves="2" seed="43"/><feColorMatrix type="matrix" values="0 0 0 0 0.965 0 0 0 0 0.824 0 0 0 0 0.682 40 0 0 0 -18.00"/></filter>
<mask id="c300" maskUnits="userSpaceOnUse" x="0" y="0" width="142" height="141"><polyline points="39.8,1.0 46.6,7.0 56.6,10.4 66.7,11.3 76.8,8.6 85.3,4.5 92.0,1.0" fill="none" stroke="#fff" stroke-width="4.03" stroke-linecap="round" stroke-linejoin="round"/></mask>
<filter id="f301" x="0" y="0" width="1" height="1" color-interpolation-filters="sRGB"><feTurbulence type="fractalNoise" baseFrequency="0.1 0.16" numOctaves="2" seed="3"/><feColorMatrix type="matrix" values="0 0 0 0 0.871 0 0 0 0 0.149 0 0 0 0 0.094 40 0 0 0 -20.00"/></filter>
<clipPath id="c302"><polygon points="28.4,0.5 144.3,0.5 144.3,39.2 139.2,40.4 131.4,41.7 122.4,46.2 113.5,48.4 106.7,49.3 97.8,50.7 84.4,48.6 73.2,44.8 62.0,40.4 50.8,33.6 41.1,27.4 36.2,21.3 32.4,14.6 28.4,9.0"/></clipPath>
<filter id="f303" x="0" y="0" width="1" height="1" color-interpolation-filters="sRGB"><feTurbulence type="fractalNoise" baseFrequency="0.14" numOctaves="2" seed="6"/><feColorMatrix type="matrix" values="0 0 0 0 0.867 0 0 0 0 0.392 0 0 0 0 0.157 40 0 0 0 -20.00"/></filter>
<clipPath id="c304"><polygon points="39.6,1.2 68.7,1.2 68.7,15.7 53.0,20.2 39.6,13.5"/></clipPath>
<filter id="f305" x="0" y="0" width="1" height="1" color-interpolation-filters="sRGB"><feTurbulence type="fractalNoise" baseFrequency="0.2" numOctaves="2" seed="16"/><feColorMatrix type="matrix" values="0 0 0 0 0.898 0 0 0 0 0.580 0 0 0 0 0.325 40 0 0 0 -24.80"/></filter>
<clipPath id="c306"><polygon points="39.6,1.2 68.7,1.2 68.7,15.7 53.0,20.2 39.6,13.5"/></clipPath>
<filter id="f307" x="0" y="0" width="1" height="1" color-interpolation-filters="sRGB"><feTurbulence type="fractalNoise" baseFrequency="0.1" numOctaves="2" seed="5"/><feColorMatrix type="matrix" values="0 0 0 0 0.910 0 0 0 0 0.251 0 0 0 0 0.094 40 0 0 0 -20.00"/></filter>
<clipPath id="c308"><polygon points="-0.7,0.1 39.6,0.1 38.5,9.0 32.9,18.0 22.8,22.5 18.3,31.4 8.2,40.4 -0.7,43.7"/></clipPath>
<filter id="f309" x="0" y="0" width="1" height="1" color-interpolation-filters="sRGB"><feTurbulence type="fractalNoise" baseFrequency="0.12" numOctaves="2" seed="9"/><feColorMatrix type="matrix" values="0 0 0 0 0.867 0 0 0 0 0.392 0 0 0 0 0.157 40 0 0 0 -22.00"/></filter>
<clipPath id="c310"><polygon points="114.6,50.4 144.3,39.2 144.3,103.0 124.6,103.0 116.8,85.1 114.6,69.5"/></clipPath>
<filter id="f311" x="0" y="0" width="1" height="1" color-interpolation-filters="sRGB"><feTurbulence type="fractalNoise" baseFrequency="0.1 0.16" numOctaves="2" seed="11"/><feColorMatrix type="matrix" values="0 0 0 0 0.910 0 0 0 0 0.251 0 0 0 0 0.094 40 0 0 0 -20.00"/></filter>
<clipPath id="c312"><polygon points="28.4,69.5 68.7,69.5 88.8,80.7 62.0,134.4 46.3,134.4 28.4,96.3"/></clipPath>
<filter id="f313" x="0" y="0" width="1" height="1" color-interpolation-filters="sRGB"><feTurbulence type="fractalNoise" baseFrequency="0.14" numOctaves="2" seed="15"/><feColorMatrix type="matrix" values="0 0 0 0 0.867 0 0 0 0 0.392 0 0 0 0 0.157 40 0 0 0 -20.80"/></filter>
<clipPath id="c314"><polygon points="102.3,51.6 138.1,40.4 142.6,47.1 129.1,62.7 120.2,89.6 111.2,73.9 102.3,62.7"/></clipPath>
<filter id="f315" x="0" y="0" width="1" height="1" color-interpolation-filters="sRGB"><feTurbulence type="fractalNoise" baseFrequency="0.2" numOctaves="2" seed="41"/><feColorMatrix type="matrix" values="0 0 0 0 0.867 0 0 0 0 0.392 0 0 0 0 0.157 40 0 0 0 -16.80"/></filter>
<mask id="c316" maskUnits="userSpaceOnUse" x="0" y="0" width="142" height="141"><polyline points="32.4,14.6 36.2,21.3 41.1,27.4 50.8,33.6 62.0,40.4 73.2,44.8 84.4,48.6 97.8,50.7 106.7,49.3 113.5,48.4" fill="none" stroke="#fff" stroke-width="4.48" stroke-linecap="round" stroke-linejoin="round"/></mask>
<filter id="f317" x="0" y="0" width="1" height="1" color-interpolation-filters="sRGB"><feTurbulence type="fractalNoise" baseFrequency="0.2" numOctaves="2" seed="52"/><feColorMatrix type="matrix" values="0 0 0 0 0.863 0 0 0 0 0.478 0 0 0 0 0.231 40 0 0 0 -18.00"/></filter>
<mask id="c318" maskUnits="userSpaceOnUse" x="0" y="0" width="142" height="141"><polyline points="32.4,14.6 36.2,21.3 41.1,27.4 50.8,33.6 62.0,40.4 73.2,44.8 84.4,48.6 97.8,50.7 106.7,49.3 113.5,48.4" fill="none" stroke="#fff" stroke-width="2.01" stroke-linecap="round" stroke-linejoin="round"/></mask>
<filter id="f319" x="0" y="0" width="1" height="1" color-interpolation-filters="sRGB"><feTurbulence type="fractalNoise" baseFrequency="0.25" numOctaves="2" seed="53"/><feColorMatrix type="matrix" values="0 0 0 0 0.929 0 0 0 0 0.690 0 0 0 0 0.478 40 0 0 0 -22.00"/></filter>
<mask id="c320" maskUnits="userSpaceOnUse" x="0" y="0" width="142" height="141"><polyline points="32.4,14.6 36.2,21.3 41.1,27.4 50.8,33.6 62.0,40.4 73.2,44.8 84.4,48.6 97.8,50.7 106.7,49.3 113.5,48.4" fill="none" stroke="#fff" stroke-width="0.90" stroke-linecap="round" stroke-linejoin="round"/></mask>
<filter id="f321" x="0" y="0" width="1" height="1" color-interpolation-filters="sRGB"><feTurbulence type="fractalNoise" baseFrequency="0.2" numOctaves="2" seed="46"/><feColorMatrix type="matrix" values="0 0 0 0 0.867 0 0 0 0 0.392 0 0 0 0 0.157 40 0 0 0 -16.80"/></filter>
<mask id="c322" maskUnits="userSpaceOnUse" x="0" y="0" width="142" height="141"><polyline points="113.5,48.4 122.4,46.2 131.4,41.7 139.2,40.4" fill="none" stroke="#fff" stroke-width="4.03" stroke-linecap="round" stroke-linejoin="round"/></mask>
<filter id="f323" x="0" y="0" width="1" height="1" color-interpolation-filters="sRGB"><feTurbulence type="fractalNoise" baseFrequency="0.25" numOctaves="2" seed="54"/><feColorMatrix type="matrix" values="0 0 0 0 0.898 0 0 0 0 0.580 0 0 0 0 0.325 40 0 0 0 -20.00"/></filter>
<mask id="c324" maskUnits="userSpaceOnUse" x="0" y="0" width="142" height="141"><polyline points="113.5,48.4 122.4,46.2 131.4,41.7 139.2,40.4" fill="none" stroke="#fff" stroke-width="1.12" stroke-linecap="round" stroke-linejoin="round"/></mask>
</defs>
<rect width="685" height="670" fill="#fff"/>

<svg x="55.2" y="39.7" width="140.8" height="139.8" viewBox="0 0 140.8 139.8" overflow="hidden">
<rect width="142" height="141" fill="#e84419"/><polygon points="-9.9,59.1 8.2,62.5 15.0,71.4 27.3,73.7 29.5,89.3 31.7,102.8 28.4,112.8 17.2,118.4 -9.9,120.7" fill="#e3231a" filter="url(#wob)"/><polygon points="61.5,100.3 70.9,94.9 82.3,91.6 93.3,91.6 91.5,100.3 82.3,106.8 75.8,113.5 71.4,122.2 69.1,129.2 64.9,125.1 60.4,116.2" fill="#e3231a" filter="url(#wob)"/><polygon points="123.5,97.2 138.1,93.8 144.3,100.5 129.1,103.2" fill="#e3231a"/><use href="#land" fill="#e84419"/><use href="#lanka" fill="#e28a45"/><g clip-path="url(#cLand)"><polygon points="28.4,-9.9 154.4,-9.9 154.4,39.0 139.2,40.1 131.4,41.4 122.4,45.9 113.5,48.1 106.7,49.0 97.8,50.4 84.4,48.4 73.2,44.5 62.0,40.1 50.8,33.4 41.1,27.1 36.2,21.0 32.4,14.3 28.4,8.7" fill="#e3231a" filter="url(#wob)"/><g clip-path="url(#c2)"><rect x="0" y="0" width="142" height="141" filter="url(#f1)"/></g><polygon points="16.1,22.2 28.4,17.7 39.6,26.6 38.5,40.1 28.4,50.1 17.2,52.4 13.8,42.3 17.2,31.1" fill="#d96d2e" filter="url(#wob)"/><g clip-path="url(#c4)"><rect x="0" y="0" width="142" height="141" filter="url(#f3)"/></g><polygon points="96.7,52.4 111.2,51.3 116.8,62.5 113.5,72.5 97.8,73.7 96.7,62.5" fill="#d96d2e" filter="url(#wob)"/><g clip-path="url(#c6)"><rect x="0" y="0" width="142" height="141" filter="url(#f5)"/></g><g clip-path="url(#c8)"><rect x="0" y="0" width="142" height="141" filter="url(#f7)"/></g><polyline points="1.3,10.7 8.5,11.6 15.6,9.9 21.0,7.2 21.4,2.7" fill="none" stroke="#eda66b" stroke-width="2.01" stroke-linecap="round" stroke-linejoin="round"/><polyline points="1.3,10.7 8.5,11.6 15.6,9.9 21.0,7.2 21.4,2.7" fill="none" stroke="#fdf6e4" stroke-width="0.90" stroke-linecap="round" stroke-linejoin="round"/><polyline points="1.3,52.4 2.2,43.4 3.3,37.8 7.1,36.5" fill="none" stroke="#f8d5ae" stroke-width="1.12" stroke-linecap="round" stroke-linejoin="round"/><polyline points="1.3,52.4 2.2,43.4 3.3,37.8 7.1,36.5" fill="none" stroke="#fdf6e4" stroke-width="0.56" stroke-linecap="round" stroke-linejoin="round"/><polyline points="15.6,25.5 17.4,35.8 14.1,42.1" fill="none" stroke="#eda66b" stroke-width="0.90" stroke-linecap="round" stroke-linejoin="round"/><polyline points="117.0,62.5 118.4,71.4 121.5,81.5 126.0,90.4 126.9,96.5" fill="none" stroke="#f8d5ae" stroke-width="1.57" stroke-linecap="round" stroke-linejoin="round"/><polyline points="117.0,62.5 118.4,71.4 121.5,81.5 126.0,90.4 126.9,96.5" fill="none" stroke="#fdf6e4" stroke-width="0.67" stroke-linecap="round" stroke-linejoin="round"/><g mask="url(#c10)"><rect x="0" y="0" width="142" height="141" filter="url(#f9)"/></g><g mask="url(#c12)"><rect x="0" y="0" width="142" height="141" filter="url(#f11)"/></g></g><use href="#india" fill="#d96d2e"/><g clip-path="url(#cIndia)"><polygon points="16.1,49.0 31.7,49.0 39.6,52.4 53.0,55.7 62.0,60.2 64.7,66.9 64.7,77.2 62.0,84.4 57.5,96.9 56.4,104.1 53.0,110.4 49.7,120.7 39.6,120.7 23.9,75.9 16.1,71.4" fill="#e84419" filter="url(#wob)"/><g clip-path="url(#c14)"><rect x="0" y="0" width="142" height="141" filter="url(#f13)"/></g><g clip-path="url(#c16)"><rect x="0" y="0" width="142" height="141" filter="url(#f15)"/></g><polygon points="28.4,8.7 39.6,4.3 62.0,8.7 66.4,22.2 62.0,26.6 55.2,31.1 50.8,33.4 41.1,27.1 36.2,21.0 32.4,14.3" fill="#e3231a" filter="url(#wob)"/><g clip-path="url(#c18)"><rect x="0" y="0" width="142" height="141" filter="url(#f17)"/></g><polyline points="28.8,72.5 30.2,84.8 33.3,98.3 38.5,111.7 44.1,124.0 49.2,131.2" fill="none" stroke="#e28a45" stroke-width="1.57" stroke-linecap="round" stroke-linejoin="round"/><polyline points="28.8,72.5 30.2,84.8 33.3,98.3 38.5,111.7 44.1,124.0 49.2,131.2" fill="none" stroke="#f8d5ae" stroke-width="0.67" stroke-linecap="round" stroke-linejoin="round"/><polyline points="62.6,100.5 68.7,92.0 77.6,85.3 86.6,79.7" fill="none" stroke="#e28a45" stroke-width="1.12" stroke-linecap="round" stroke-linejoin="round"/><polygon points="102.3,51.3 138.1,40.1 152.6,46.8 129.1,62.5 120.2,89.3 111.2,73.7 102.3,62.5" fill="#e84419" filter="url(#wob)"/><g clip-path="url(#c20)"><rect x="0" y="0" width="142" height="141" filter="url(#f19)"/></g></g><g clip-path="url(#cLand)"><g mask="url(#c22)"><rect x="0" y="0" width="142" height="141" filter="url(#f21)"/></g><g mask="url(#c24)"><rect x="0" y="0" width="142" height="141" filter="url(#f23)"/></g><polyline points="32.4,14.3 36.2,21.0 41.1,27.1 50.8,33.4 62.0,40.1" fill="none" stroke="#f8d5ae" stroke-width="2.24" stroke-linecap="round" stroke-linejoin="round"/><g mask="url(#c26)"><rect x="0" y="0" width="142" height="141" filter="url(#f25)"/></g><polyline points="62.0,40.1 73.2,44.5 84.4,48.4 97.8,50.4" fill="none" stroke="#eda66b" stroke-width="4.25" stroke-linecap="round" stroke-linejoin="round"/><polyline points="62.0,40.1 73.2,44.5 84.4,48.4 97.8,50.4" fill="none" stroke="#fdf6e4" stroke-width="2.91" stroke-linecap="round" stroke-linejoin="round"/><polyline points="62.0,40.1 73.2,44.5 84.4,48.4 97.8,50.4" fill="none" stroke="#f3fbfe" stroke-width="1.79" stroke-linecap="round" stroke-linejoin="round"/><polyline points="101.8,48.6 112.3,48.1" fill="none" stroke="#f8d5ae" stroke-width="2.91" stroke-linecap="round" stroke-linejoin="round"/><polyline points="101.8,48.6 112.3,48.1" fill="none" stroke="#f3fbfe" stroke-width="2.01" stroke-linecap="round" stroke-linejoin="round"/><g mask="url(#c28)"><rect x="0" y="0" width="142" height="141" filter="url(#f27)"/></g><g mask="url(#c30)"><rect x="0" y="0" width="142" height="141" filter="url(#f29)"/></g><g mask="url(#c32)"><rect x="0" y="0" width="142" height="141" filter="url(#f31)"/></g><polyline points="39.8,0.7 46.5,6.7 56.6,10.1 66.7,11.0 76.7,8.3 85.2,4.3 92.0,0.7" fill="none" stroke="#eda66b" stroke-width="3.58" stroke-linecap="round" stroke-linejoin="round"/><polyline points="39.8,0.7 46.5,6.7 56.6,10.1 66.7,11.0 76.7,8.3 85.2,4.3 92.0,0.7" fill="none" stroke="#f8d5ae" stroke-width="2.46" stroke-linecap="round" stroke-linejoin="round"/><g mask="url(#c34)"><rect x="0" y="0" width="142" height="141" filter="url(#f33)"/></g></g>
<use href="#bd"/>
</svg>
<rect x="55.2" y="39.7" width="140.8" height="139.8" fill="none" stroke="#333" stroke-width="0.7"/>
<svg x="216.2" y="39.7" width="140.8" height="139.8" viewBox="0 0 140.8 139.8" overflow="hidden">
<rect width="142" height="141" fill="#e6f8fc"/><polygon points="28.4,100.5 32.9,99.4 38.5,111.7 43.0,125.1 47.5,134.5 39.6,132.3 32.9,120.7 28.4,109.5" fill="#a7d3f0" filter="url(#wob)"/><polygon points="55.3,129.6 60.2,129.6 60.2,139.7 55.3,139.7" fill="#a7d3f0"/><polygon points="126.9,98.7 154.5,93.8 154.5,155.4 133.6,155.4 134.8,129.6 129.2,116.2" fill="#a7d3f0" filter="url(#wob)"/><g clip-path="url(#c36)"><rect x="0" y="0" width="142" height="141" filter="url(#f35)"/></g><use href="#land" fill="#fcfbef"/><use href="#lanka" fill="#fcfbef"/><g clip-path="url(#cLand)"><g clip-path="url(#c38)"><rect x="0" y="0" width="142" height="141" filter="url(#f37)"/></g><g clip-path="url(#c40)"><rect x="0" y="0" width="142" height="141" filter="url(#f39)"/></g><g clip-path="url(#c42)"><rect x="0" y="0" width="142" height="141" filter="url(#f41)"/></g><g clip-path="url(#c44)"><rect x="0" y="0" width="142" height="141" filter="url(#f43)"/></g><g clip-path="url(#c46)"><rect x="0" y="0" width="142" height="141" filter="url(#f45)"/></g><g clip-path="url(#c48)"><rect x="0" y="0" width="142" height="141" filter="url(#f47)"/></g><g clip-path="url(#c50)"><rect x="0" y="0" width="142" height="141" filter="url(#f49)"/></g><polyline points="117.1,62.5 118.4,71.4 121.6,81.5 126.0,90.4 126.9,96.5" fill="none" stroke="#f6d2ae" stroke-width="1.79" stroke-linecap="round" stroke-linejoin="round"/><polygon points="96.7,52.4 111.3,51.3 116.9,62.5 113.5,72.5 97.8,73.7 96.7,62.5" fill="#e6f8fc" filter="url(#wob)"/></g><g clip-path="url(#cIndia)"><g clip-path="url(#c52)"><rect x="0" y="0" width="142" height="141" filter="url(#f51)"/></g><g mask="url(#c54)"><rect x="0" y="0" width="142" height="141" filter="url(#f53)"/></g><g clip-path="url(#c56)"><rect x="0" y="0" width="142" height="141" filter="url(#f55)"/></g><polygon points="113.5,47.9 134.8,41.2 135.4,45.9 120.2,54.0 114.6,60.7 111.3,52.4" fill="#e6f8fc" filter="url(#wob)"/></g><g clip-path="url(#cLand)"><polygon points="59.8,135.2 67.6,134.1 68.7,140.8 59.8,140.8" fill="#f6d2ae"/><g clip-path="url(#c58)"><rect x="0" y="0" width="142" height="141" filter="url(#f57)"/></g><g clip-path="url(#c60)"><rect x="0" y="0" width="142" height="141" filter="url(#f59)"/></g><g mask="url(#c62)"><rect x="0" y="0" width="142" height="141" filter="url(#f61)"/></g><polyline points="28.4,11.4 39.6,21.7 49.3,28.2 57.5,33.8 62.9,37.8 73.2,44.1 84.4,48.4 97.8,50.4 106.8,49.0 113.5,48.1" fill="none" stroke="#f6d2ae" stroke-width="4.03" stroke-linecap="round" stroke-linejoin="round"/><polyline points="28.4,11.4 39.6,21.7 49.3,28.2 57.5,33.8 62.9,37.8 73.2,44.1 84.4,48.4 97.8,50.4 106.8,49.0 113.5,48.1" fill="none" stroke="#e89a5a" stroke-width="2.69" stroke-linecap="round" stroke-linejoin="round"/><polyline points="28.4,11.4 39.6,21.7 49.3,28.2 57.5,33.8 62.9,37.8 73.2,44.1 84.4,48.4 97.8,50.4 106.8,49.0 113.5,48.1" fill="none" stroke="#d36a2c" stroke-width="1.34" stroke-linecap="round" stroke-linejoin="round"/><g mask="url(#c64)"><rect x="0" y="0" width="142" height="141" filter="url(#f63)"/></g><polyline points="113.5,48.1 122.5,45.9 131.4,41.4 139.2,40.1" fill="none" stroke="#f6d2ae" stroke-width="2.24" stroke-linecap="round" stroke-linejoin="round"/><g mask="url(#c66)"><rect x="0" y="0" width="142" height="141" filter="url(#f65)"/></g><g mask="url(#c68)"><rect x="0" y="0" width="142" height="141" filter="url(#f67)"/></g></g>
<use href="#bd"/>
</svg>
<rect x="216.2" y="39.7" width="140.8" height="139.8" fill="none" stroke="#333" stroke-width="0.7"/>
<svg x="377.2" y="39.7" width="140.8" height="139.8" viewBox="0 0 140.8 139.8" overflow="hidden">
<rect width="142" height="141" fill="#e84018"/><polygon points="-10.3,62.5 10.5,66.9 23.9,75.9 28.4,89.3 28.4,102.8 17.2,111.7 -10.3,113.9" fill="#de2618" filter="url(#wob)"/><polygon points="64.7,100.5 69.8,97.2 73.6,100.5 73.2,109.5 68.7,112.8 65.1,109.9" fill="#de2618" filter="url(#wob)"/><use href="#land" fill="#e84018"/><use href="#lanka" fill="#dd6428"/><g clip-path="url(#cLand)"><g clip-path="url(#c70)"><rect x="0" y="0" width="142" height="141" filter="url(#f69)"/></g><polygon points="16.1,22.2 28.4,17.7 39.6,26.6 38.5,40.1 28.4,50.1 17.2,52.4 13.8,42.3 17.2,31.1" fill="#dd6428" filter="url(#wob)"/><g clip-path="url(#c72)"><rect x="0" y="0" width="142" height="141" filter="url(#f71)"/></g><polygon points="114.6,50.1 154.4,39.0 154.4,102.8 124.6,102.8 116.8,84.8 114.6,69.2" fill="#dd6428" filter="url(#wob)"/><polygon points="60.8,36.7 73.2,41.2 84.4,45.0 98.2,47.2 98.7,54.4 84.4,53.1 70.9,49.0 60.8,43.4" fill="#dd6428" filter="url(#wob)"/><polyline points="101.8,48.6 112.3,48.1" fill="none" stroke="#dd6428" stroke-width="2.69" stroke-linecap="round" stroke-linejoin="round"/></g><use href="#india" fill="#dd6428"/><g clip-path="url(#cIndia)"><polygon points="16.1,45.7 32.9,43.4 42.9,49.0 47.4,60.2 45.2,71.4 47.4,84.8 42.9,93.8 37.3,102.8 30.6,105.0 23.9,75.9 16.1,71.4" fill="#e84018" filter="url(#wob)"/><polygon points="28.4,8.7 39.6,4.3 62.0,8.7 66.4,22.2 62.0,26.6 55.2,31.1 50.8,33.4 41.1,27.1 36.2,21.0 32.4,14.3" fill="#e84018" filter="url(#wob)"/><g clip-path="url(#c74)"><rect x="0" y="0" width="142" height="141" filter="url(#f73)"/></g><g clip-path="url(#c76)"><rect x="0" y="0" width="142" height="141" filter="url(#f75)"/></g></g>
<use href="#bd"/>
</svg>
<rect x="377.2" y="39.7" width="140.8" height="139.8" fill="none" stroke="#333" stroke-width="0.7"/>
<svg x="533.0" y="39.7" width="140.8" height="139.8" viewBox="0 0 140.8 139.8" overflow="hidden">
<rect width="142" height="141" fill="#a81c14"/><g clip-path="url(#cLand)"><polygon points="45.5,13.7 52.7,11.4 60.3,15.0 58.9,20.4 56.2,25.5 54.0,30.2 50.0,28.9 47.3,22.6" fill="#cf2419" filter="url(#wob)"/><polyline points="53.5,29.3 61.2,33.4 74.6,38.7 88.0,42.8 97.9,44.1" fill="none" stroke="#cf2419" stroke-width="2.24" stroke-linecap="round" stroke-linejoin="round"/><polyline points="59.4,10.5 74.6,9.6" fill="none" stroke="#cf2419" stroke-width="1.01" stroke-linecap="round" stroke-linejoin="round"/><g clip-path="url(#c78)"><rect x="0" y="0" width="142" height="141" filter="url(#f77)"/></g></g>
<use href="#bd"/>
</svg>
<rect x="533.0" y="39.7" width="140.8" height="139.8" fill="none" stroke="#333" stroke-width="0.7"/>
<rect x="38.7" y="39.7" width="16.5" height="139.8" fill="#fff" stroke="#333" stroke-width="0.7"/>
<text class="b" font-size="10.5" text-anchor="middle" transform="translate(51.0,109.6) rotate(-90)">MAM</text>
<line x1="36.4" x2="38.9" y1="55.0" y2="55.0" stroke="#333" stroke-width="0.7"/>
<text class="tk" x="34.6" y="58.1" text-anchor="end">35°N</text>
<line x1="36.4" x2="38.9" y1="76.8" y2="76.8" stroke="#333" stroke-width="0.7"/>
<text class="tk" x="34.6" y="79.9" text-anchor="end">30°N</text>
<line x1="36.4" x2="38.9" y1="98.7" y2="98.7" stroke="#333" stroke-width="0.7"/>
<text class="tk" x="34.6" y="101.8" text-anchor="end">25°N</text>
<line x1="36.4" x2="38.9" y1="120.5" y2="120.5" stroke="#333" stroke-width="0.7"/>
<text class="tk" x="34.6" y="123.6" text-anchor="end">20°N</text>
<line x1="36.4" x2="38.9" y1="142.4" y2="142.4" stroke="#333" stroke-width="0.7"/>
<text class="tk" x="34.6" y="145.5" text-anchor="end">15°N</text>
<line x1="36.4" x2="38.9" y1="164.2" y2="164.2" stroke="#333" stroke-width="0.7"/>
<text class="tk" x="34.6" y="167.3" text-anchor="end">10°N</text>
<svg x="55.2" y="184.6" width="140.8" height="139.8" viewBox="0 0 140.8 139.8" overflow="hidden">
<rect width="142" height="141" fill="#e84419"/><polygon points="-9.9,60.3 10.5,69.3 19.4,80.5 17.2,91.7 6.0,96.1 -9.9,98.4" fill="#e3231a" filter="url(#wob)"/><polygon points="93.3,111.8 111.2,107.3 129.1,111.8 139.2,120.8 154.4,120.8 154.4,155.5 93.3,155.5 91.1,125.3" fill="#d96d2e" filter="url(#wob)"/><polygon points="23.5,132.0 26.1,128.6 31.7,126.8 37.3,126.4 40.7,128.8 42.3,134.2 42.7,151.0 23.5,151.0" fill="#d96d2e" filter="url(#wob)"/><use href="#land" fill="#e84419"/><use href="#lanka" fill="#d96d2e"/><g clip-path="url(#cLand)"><polygon points="28.4,-9.7 154.4,-9.7 154.4,39.1 139.2,40.2 131.4,41.5 122.4,46.0 113.5,48.2 106.7,49.1 97.8,50.5 84.4,48.5 73.2,44.7 62.0,40.2 50.8,33.5 41.1,27.2 36.2,21.2 32.4,14.4 28.4,8.8" fill="#d96d2e" filter="url(#wob)"/><polygon points="28.4,-9.7 154.4,-9.7 154.4,17.8 120.2,15.6 95.5,13.3 73.2,16.0 50.8,14.2 39.6,8.8" fill="#e84419" filter="url(#wob)"/><g clip-path="url(#c80)"><rect x="0" y="0" width="142" height="141" filter="url(#f79)"/></g><g clip-path="url(#c82)"><rect x="0" y="0" width="142" height="141" filter="url(#f81)"/></g><polygon points="16.1,22.3 28.4,17.8 39.6,26.8 38.5,40.2 28.4,50.3 17.2,52.5 13.8,42.4 17.2,31.2" fill="#d96d2e" filter="url(#wob)"/><polygon points="114.6,50.3 154.4,39.1 154.4,102.9 124.6,102.9 116.8,85.0 114.6,69.3" fill="#d96d2e" filter="url(#wob)"/><g clip-path="url(#c84)"><rect x="0" y="0" width="142" height="141" filter="url(#f83)"/></g><g clip-path="url(#c86)"><rect x="0" y="0" width="142" height="141" filter="url(#f85)"/></g><g clip-path="url(#c88)"><rect x="0" y="0" width="142" height="141" filter="url(#f87)"/></g><polyline points="1.3,10.9 8.5,11.8 15.6,10.0 21.0,7.3 21.4,2.8" fill="none" stroke="#f8d5ae" stroke-width="2.46" stroke-linecap="round" stroke-linejoin="round"/><polyline points="1.3,10.9 8.5,11.8 15.6,10.0 21.0,7.3 21.4,2.8" fill="none" stroke="#f3fbfe" stroke-width="1.12" stroke-linecap="round" stroke-linejoin="round"/><polyline points="15.6,25.6 17.4,35.9 14.1,42.2" fill="none" stroke="#eda66b" stroke-width="1.34" stroke-linecap="round" stroke-linejoin="round"/><polyline points="15.6,25.6 17.4,35.9 14.1,42.2" fill="none" stroke="#f8d5ae" stroke-width="0.67" stroke-linecap="round" stroke-linejoin="round"/><polyline points="1.3,52.5 2.2,43.5 3.3,37.9 7.1,36.6" fill="none" stroke="#f8d5ae" stroke-width="1.57" stroke-linecap="round" stroke-linejoin="round"/><polyline points="1.3,52.5 2.2,43.5 3.3,37.9 7.1,36.6" fill="none" stroke="#f3fbfe" stroke-width="0.78" stroke-linecap="round" stroke-linejoin="round"/><polyline points="117.0,62.6 118.4,71.5 121.5,81.6 126.0,90.6 126.9,96.6" fill="none" stroke="#eda66b" stroke-width="1.57" stroke-linecap="round" stroke-linejoin="round"/><polyline points="117.0,62.6 118.4,71.5 121.5,81.6 126.0,90.6 126.9,96.6" fill="none" stroke="#fdf6e4" stroke-width="0.67" stroke-linecap="round" stroke-linejoin="round"/></g><use href="#india" fill="#d96d2e"/><g clip-path="url(#cIndia)"><polygon points="28.4,57.0 50.8,51.8 68.7,56.3 88.8,60.8 91.5,69.3 79.9,80.5 68.7,85.4 50.8,80.9 39.6,85.4 30.6,72.6" fill="#e84419" filter="url(#wob)"/><g clip-path="url(#c90)"><rect x="0" y="0" width="142" height="141" filter="url(#f89)"/></g><g clip-path="url(#c92)"><rect x="0" y="0" width="142" height="141" filter="url(#f91)"/></g><polygon points="28.4,8.8 39.6,4.4 62.0,8.8 66.4,22.3 62.0,26.8 55.2,31.2 50.8,33.5 41.1,27.2 36.2,21.2 32.4,14.4" fill="#e84419" filter="url(#wob)"/><g clip-path="url(#c94)"><rect x="0" y="0" width="142" height="141" filter="url(#f93)"/></g><polyline points="28.8,72.6 30.2,85.0 33.3,98.4 38.5,111.8 44.1,124.1 49.2,131.3" fill="none" stroke="#eda66b" stroke-width="2.69" stroke-linecap="round" stroke-linejoin="round"/><polyline points="28.8,72.6 30.2,85.0 33.3,98.4 38.5,111.8 44.1,124.1 49.2,131.3" fill="none" stroke="#fdf6e4" stroke-width="1.12" stroke-linecap="round" stroke-linejoin="round"/><g clip-path="url(#c96)"><rect x="0" y="0" width="142" height="141" filter="url(#f95)"/></g></g><g clip-path="url(#cLand)"><g mask="url(#c98)"><rect x="0" y="0" width="142" height="141" filter="url(#f97)"/></g><polyline points="32.9,13.5 38.2,19.8 43.6,25.2 49.9,31.5 56.1,35.0 62.4,37.9" fill="none" stroke="#eda66b" stroke-width="2.46" stroke-linecap="round" stroke-linejoin="round"/><polyline points="32.9,13.5 38.2,19.8 43.6,25.2 49.9,31.5 56.1,35.0 62.4,37.9" fill="none" stroke="#f8d5ae" stroke-width="1.46" stroke-linecap="round" stroke-linejoin="round"/><g mask="url(#c100)"><rect x="0" y="0" width="142" height="141" filter="url(#f99)"/></g><polyline points="62.4,37.9 73.2,42.9 84.4,46.9 97.8,49.4" fill="none" stroke="#e28a45" stroke-width="2.69" stroke-linecap="round" stroke-linejoin="round"/><polyline points="62.4,37.9 73.2,42.9 84.4,46.9 97.8,49.4" fill="none" stroke="#eda66b" stroke-width="1.34" stroke-linecap="round" stroke-linejoin="round"/><g mask="url(#c102)"><rect x="0" y="0" width="142" height="141" filter="url(#f101)"/></g><polyline points="39.8,0.8 46.5,6.8 56.6,10.2 66.7,11.1 76.7,8.4 85.2,4.4 92.0,0.8" fill="none" stroke="#eda66b" stroke-width="3.81" stroke-linecap="round" stroke-linejoin="round"/><polyline points="39.8,0.8 46.5,6.8 56.6,10.2 66.7,11.1 76.7,8.4 85.2,4.4 92.0,0.8" fill="none" stroke="#f8d5ae" stroke-width="2.46" stroke-linecap="round" stroke-linejoin="round"/><polyline points="39.8,0.8 46.5,6.8 56.6,10.2 66.7,11.1 76.7,8.4 85.2,4.4 92.0,0.8" fill="none" stroke="#f3fbfe" stroke-width="1.12" stroke-linecap="round" stroke-linejoin="round"/><polygon points="64.7,9.3 67.8,9.3 67.8,10.6 64.7,10.6" fill="#4a90e2"/></g>
<use href="#bd"/>
</svg>
<rect x="55.2" y="184.6" width="140.8" height="139.8" fill="none" stroke="#333" stroke-width="0.7"/>
<svg x="216.2" y="184.6" width="140.8" height="139.8" viewBox="0 0 140.8 139.8" overflow="hidden">
<rect width="142" height="141" fill="#e6f8fc"/><polygon points="62.0,100.6 68.7,93.9 79.9,85.0 91.1,78.2 97.8,74.2 115.7,73.8 123.6,85.0 125.1,98.4 138.1,96.1 154.5,95.0 154.5,155.5 138.1,155.5 140.4,129.7 133.6,116.3 124.7,109.6 111.3,106.2 93.4,107.3 79.9,110.0 71.0,112.9 66.5,120.8 62.0,117.4" fill="#a7d3f0" filter="url(#wob)"/><polygon points="15.0,78.7 28.4,80.5 30.7,93.9 35.1,111.8 39.6,123.0 31.8,120.8 24.0,102.9 17.2,89.4" fill="#a7d3f0" filter="url(#wob)"/><g clip-path="url(#c104)"><rect x="0" y="0" width="142" height="141" filter="url(#f103)"/></g><g clip-path="url(#c106)"><rect x="0" y="0" width="142" height="141" filter="url(#f105)"/></g><g clip-path="url(#c108)"><rect x="0" y="0" width="142" height="141" filter="url(#f107)"/></g><use href="#land" fill="#fcfbef"/><use href="#lanka" fill="#fcfbef"/><g clip-path="url(#cLand)"><g clip-path="url(#c110)"><rect x="0" y="0" width="142" height="141" filter="url(#f109)"/></g><polygon points="95.6,16.7 154.5,13.3 154.5,39.1 131.4,41.5 122.5,46.0 106.8,45.8 95.6,40.2" fill="#e6f8fc" filter="url(#wob)"/><g clip-path="url(#c112)"><rect x="0" y="0" width="142" height="141" filter="url(#f111)"/></g><g clip-path="url(#c114)"><rect x="0" y="0" width="142" height="141" filter="url(#f113)"/></g><g clip-path="url(#c116)"><rect x="0" y="0" width="142" height="141" filter="url(#f115)"/></g><g clip-path="url(#c118)"><rect x="0" y="0" width="142" height="141" filter="url(#f117)"/></g><g clip-path="url(#c120)"><rect x="0" y="0" width="142" height="141" filter="url(#f119)"/></g><polygon points="18.4,11.1 20.8,11.1 20.8,13.3 18.4,13.3" fill="#e5321b"/><g clip-path="url(#c122)"><rect x="0" y="0" width="142" height="141" filter="url(#f121)"/></g><g clip-path="url(#c124)"><rect x="0" y="0" width="142" height="141" filter="url(#f123)"/></g><polyline points="117.1,62.6 118.4,71.5 121.6,81.6 126.0,90.6 126.9,96.6" fill="none" stroke="#f6d2ae" stroke-width="1.79" stroke-linecap="round" stroke-linejoin="round"/><polygon points="96.7,52.5 111.3,51.4 116.9,62.6 113.5,72.6 97.8,73.8 96.7,62.6" fill="#e6f8fc" filter="url(#wob)"/></g><g clip-path="url(#cIndia)"><g clip-path="url(#c126)"><rect x="0" y="0" width="142" height="141" filter="url(#f125)"/></g><g clip-path="url(#c128)"><rect x="0" y="0" width="142" height="141" filter="url(#f127)"/></g><g mask="url(#c130)"><rect x="0" y="0" width="142" height="141" filter="url(#f129)"/></g><polyline points="28.9,72.6 30.2,85.0 33.4,98.4 38.5,111.8 44.1,124.1 49.3,131.3" fill="none" stroke="#f6d2ae" stroke-width="2.01" stroke-linecap="round" stroke-linejoin="round"/></g><g clip-path="url(#cLand)"><polygon points="59.8,135.3 67.6,134.2 68.7,140.9 59.8,140.9" fill="#f6d2ae"/><g clip-path="url(#c132)"><rect x="0" y="0" width="142" height="141" filter="url(#f131)"/></g><g clip-path="url(#c134)"><rect x="0" y="0" width="142" height="141" filter="url(#f133)"/></g><g mask="url(#c136)"><rect x="0" y="0" width="142" height="141" filter="url(#f135)"/></g><polyline points="28.4,11.5 39.6,21.8 49.3,28.3 57.5,33.9 62.9,37.9 73.2,44.2 84.4,48.5 97.8,50.5 106.8,49.1 113.5,48.2" fill="none" stroke="#f6d2ae" stroke-width="3.58" stroke-linecap="round" stroke-linejoin="round"/><polyline points="28.4,11.5 39.6,21.8 49.3,28.3 57.5,33.9 62.9,37.9 73.2,44.2 84.4,48.5 97.8,50.5 106.8,49.1 113.5,48.2" fill="none" stroke="#e89a5a" stroke-width="2.01" stroke-linecap="round" stroke-linejoin="round"/><g mask="url(#c138)"><rect x="0" y="0" width="142" height="141" filter="url(#f137)"/></g><polyline points="113.5,48.2 122.5,46.0 131.4,41.5 139.2,40.2" fill="none" stroke="#f6d2ae" stroke-width="2.24" stroke-linecap="round" stroke-linejoin="round"/><g mask="url(#c140)"><rect x="0" y="0" width="142" height="141" filter="url(#f139)"/></g><g mask="url(#c142)"><rect x="0" y="0" width="142" height="141" filter="url(#f141)"/></g></g>
<use href="#bd"/>
</svg>
<rect x="216.2" y="184.6" width="140.8" height="139.8" fill="none" stroke="#333" stroke-width="0.7"/>
<svg x="377.2" y="184.6" width="140.8" height="139.8" viewBox="0 0 140.8 139.8" overflow="hidden">
<rect width="142" height="141" fill="#e84018"/><polygon points="84.4,116.3 95.5,107.3 111.2,102.9 129.1,100.6 154.4,102.9 154.4,155.5 62.0,155.5 68.7,127.5" fill="#dd6428" filter="url(#wob)"/><polygon points="23.0,129.7 26.1,125.7 31.7,123.5 38.5,123.0 42.7,125.3 44.5,130.8 45.4,151.0 23.0,151.0" fill="#dd6428" filter="url(#wob)"/><use href="#land" fill="#e84018"/><use href="#lanka" fill="#dd6428"/><g clip-path="url(#cLand)"><polygon points="50.8,15.6 120.2,14.4 138.1,22.3 154.4,29.0 154.4,39.1 131.4,41.5 113.5,48.2 97.8,50.5 84.4,48.5 62.0,40.2 50.8,33.5" fill="#dd6428" filter="url(#wob)"/><g clip-path="url(#c144)"><rect x="0" y="0" width="142" height="141" filter="url(#f143)"/></g><polygon points="16.1,22.3 28.4,17.8 39.6,26.8 38.5,40.2 28.4,50.3 17.2,52.5 13.8,42.4 17.2,31.2" fill="#dd6428" filter="url(#wob)"/><g clip-path="url(#c146)"><rect x="0" y="0" width="142" height="141" filter="url(#f145)"/></g><g clip-path="url(#c148)"><rect x="0" y="0" width="142" height="141" filter="url(#f147)"/></g><polygon points="114.6,50.3 154.4,39.1 154.4,102.9 124.6,102.9 116.8,85.0 114.6,69.3" fill="#dd6428" filter="url(#wob)"/><polygon points="60.8,36.8 73.2,41.3 84.4,45.1 98.2,47.3 98.7,54.5 84.4,53.2 70.9,49.1 60.8,43.5" fill="#dd6428" filter="url(#wob)"/></g><use href="#india" fill="#dd6428"/><g clip-path="url(#cIndia)"><polygon points="37.3,29.0 62.0,40.2 97.8,54.1 100.0,62.6 79.9,65.3 62.0,60.8 44.1,54.1 37.3,40.2" fill="#dc7a3b" filter="url(#wob)"/><g clip-path="url(#c150)"><rect x="0" y="0" width="142" height="141" filter="url(#f149)"/></g><polygon points="32.4,59.2 37.3,55.4 46.3,54.1 52.6,57.0 54.8,62.6 53.5,68.8 47.4,72.0 39.6,72.9 33.3,69.3 30.6,64.4" fill="#e84018" filter="url(#wob)"/><g clip-path="url(#c152)"><rect x="0" y="0" width="142" height="141" filter="url(#f151)"/></g><g clip-path="url(#c154)"><rect x="0" y="0" width="142" height="141" filter="url(#f153)"/></g><polygon points="115.7,43.5 138.1,40.2 138.1,43.5 120.2,49.1" fill="#e84018"/></g><g clip-path="url(#cLand)"><polyline points="101.8,48.7 112.3,48.2" fill="none" stroke="#de2618" stroke-width="2.01" stroke-linecap="round" stroke-linejoin="round"/></g>
<use href="#bd"/>
</svg>
<rect x="377.2" y="184.6" width="140.8" height="139.8" fill="none" stroke="#333" stroke-width="0.7"/>
<svg x="533.0" y="184.6" width="140.8" height="139.8" viewBox="0 0 140.8 139.8" overflow="hidden">
<rect width="142" height="141" fill="#a81c14"/><g clip-path="url(#cLand)"><polygon points="37.7,7.7 61.2,7.7 83.5,4.4 101.5,7.7 119.4,12.2 153.6,15.1 153.6,29.0 137.3,36.2 119.4,42.9 97.0,47.3 83.5,45.1 61.2,36.2 52.2,27.2 44.4,17.8" fill="#cf2419" filter="url(#wob)"/><g clip-path="url(#c156)"><rect x="0" y="0" width="142" height="141" filter="url(#f155)"/></g><g clip-path="url(#c158)"><rect x="0" y="0" width="142" height="141" filter="url(#f157)"/></g><g clip-path="url(#c160)"><rect x="0" y="0" width="142" height="141" filter="url(#f159)"/></g><g clip-path="url(#c162)"><rect x="0" y="0" width="142" height="141" filter="url(#f161)"/></g></g>
<use href="#bd"/>
</svg>
<rect x="533.0" y="184.6" width="140.8" height="139.8" fill="none" stroke="#333" stroke-width="0.7"/>
<rect x="38.7" y="184.6" width="16.5" height="139.8" fill="#fff" stroke="#333" stroke-width="0.7"/>
<text class="b" font-size="10.5" text-anchor="middle" transform="translate(51.0,254.5) rotate(-90)">JJAS</text>
<line x1="36.4" x2="38.9" y1="199.9" y2="199.9" stroke="#333" stroke-width="0.7"/>
<text class="tk" x="34.6" y="203.0" text-anchor="end">35°N</text>
<line x1="36.4" x2="38.9" y1="221.7" y2="221.7" stroke="#333" stroke-width="0.7"/>
<text class="tk" x="34.6" y="224.8" text-anchor="end">30°N</text>
<line x1="36.4" x2="38.9" y1="243.6" y2="243.6" stroke="#333" stroke-width="0.7"/>
<text class="tk" x="34.6" y="246.7" text-anchor="end">25°N</text>
<line x1="36.4" x2="38.9" y1="265.4" y2="265.4" stroke="#333" stroke-width="0.7"/>
<text class="tk" x="34.6" y="268.5" text-anchor="end">20°N</text>
<line x1="36.4" x2="38.9" y1="287.3" y2="287.3" stroke="#333" stroke-width="0.7"/>
<text class="tk" x="34.6" y="290.4" text-anchor="end">15°N</text>
<line x1="36.4" x2="38.9" y1="309.1" y2="309.1" stroke="#333" stroke-width="0.7"/>
<text class="tk" x="34.6" y="312.2" text-anchor="end">10°N</text>
<svg x="55.2" y="329.5" width="140.8" height="139.8" viewBox="0 0 140.8 139.8" overflow="hidden">
<rect width="142" height="141" fill="#e84419"/><polygon points="-9.9,59.3 26.1,72.7 28.4,89.5 32.9,105.2 37.3,112.4 30.6,117.5 17.2,125.3 -9.9,129.8" fill="#e3231a" filter="url(#wob)"/><polygon points="62.0,100.7 70.9,94.0 84.4,82.8 93.3,77.2 115.7,76.1 123.5,85.0 125.1,96.7 111.2,93.1 95.5,90.9 79.9,95.3 68.7,103.4" fill="#e3231a" filter="url(#wob)"/><polygon points="129.1,96.7 154.4,94.0 154.4,120.9 138.1,116.4 131.8,105.6" fill="#e3231a" filter="url(#wob)"/><use href="#land" fill="#e84419"/><use href="#lanka" fill="#d96d2e"/><g clip-path="url(#cLand)"><polygon points="28.4,-9.6 154.4,-9.6 154.4,39.2 139.2,40.3 131.4,41.6 122.4,46.1 113.5,48.3 106.7,49.2 97.8,50.6 84.4,48.6 73.2,44.8 62.0,40.3 50.8,33.6 41.1,27.3 36.2,21.2 32.4,14.5 28.4,8.9" fill="#e3231a" filter="url(#wob)"/><g clip-path="url(#c164)"><rect x="0" y="0" width="142" height="141" filter="url(#f163)"/></g><g mask="url(#c166)"><rect x="0" y="0" width="142" height="141" filter="url(#f165)"/></g><polygon points="16.1,22.4 28.4,17.9 39.6,26.8 38.5,40.3 28.4,50.3 17.2,52.6 13.8,42.5 17.2,31.3" fill="#d96d2e" filter="url(#wob)"/><polygon points="114.6,50.3 154.4,39.2 154.4,103.0 124.6,103.0 116.8,85.0 114.6,69.4" fill="#d96d2e" filter="url(#wob)"/><g clip-path="url(#c168)"><rect x="0" y="0" width="142" height="141" filter="url(#f167)"/></g><g clip-path="url(#c170)"><rect x="0" y="0" width="142" height="141" filter="url(#f169)"/></g><g clip-path="url(#c172)"><rect x="0" y="0" width="142" height="141" filter="url(#f171)"/></g><polyline points="1.3,10.9 8.5,11.8 15.6,10.1 21.0,7.4 21.4,2.9" fill="none" stroke="#f8d5ae" stroke-width="2.46" stroke-linecap="round" stroke-linejoin="round"/><polyline points="1.3,10.9 8.5,11.8 15.6,10.1 21.0,7.4 21.4,2.9" fill="none" stroke="#f3fbfe" stroke-width="1.12" stroke-linecap="round" stroke-linejoin="round"/><polyline points="15.6,25.7 17.4,36.0 14.1,42.3" fill="none" stroke="#eda66b" stroke-width="1.34" stroke-linecap="round" stroke-linejoin="round"/><polyline points="15.6,25.7 17.4,36.0 14.1,42.3" fill="none" stroke="#f8d5ae" stroke-width="0.67" stroke-linecap="round" stroke-linejoin="round"/><polyline points="1.3,52.6 2.2,43.6 3.3,38.0 7.1,36.7" fill="none" stroke="#f8d5ae" stroke-width="1.57" stroke-linecap="round" stroke-linejoin="round"/><polyline points="1.3,52.6 2.2,43.6 3.3,38.0 7.1,36.7" fill="none" stroke="#f3fbfe" stroke-width="0.78" stroke-linecap="round" stroke-linejoin="round"/><polyline points="117.0,62.7 118.4,71.6 121.5,81.7 126.0,90.6 126.9,96.7" fill="none" stroke="#f8d5ae" stroke-width="1.79" stroke-linecap="round" stroke-linejoin="round"/><polyline points="117.0,62.7 118.4,71.6 121.5,81.7 126.0,90.6 126.9,96.7" fill="none" stroke="#fdf6e4" stroke-width="0.78" stroke-linecap="round" stroke-linejoin="round"/></g><use href="#india" fill="#e84419"/><g clip-path="url(#cIndia)"><g clip-path="url(#c174)"><rect x="0" y="0" width="142" height="141" filter="url(#f173)"/></g><polygon points="50.8,96.2 62.0,91.8 62.4,103.0 59.7,120.9 50.8,132.5 45.8,120.9" fill="#d96d2e" filter="url(#wob)"/><polygon points="39.6,49.2 62.0,48.1 64.2,60.4 53.0,65.3 39.6,62.7" fill="#e3231a" filter="url(#wob)"/><g clip-path="url(#c176)"><rect x="0" y="0" width="142" height="141" filter="url(#f175)"/></g><polygon points="28.4,8.9 39.6,4.5 62.0,8.9 66.4,22.4 62.0,26.8 55.2,31.3 50.8,33.6 41.1,27.3 36.2,21.2 32.4,14.5" fill="#e3231a" filter="url(#wob)"/><g clip-path="url(#c178)"><rect x="0" y="0" width="142" height="141" filter="url(#f177)"/></g><polyline points="28.8,72.7 30.2,85.0 33.3,98.5 38.5,111.9 44.1,124.2 49.2,131.4" fill="none" stroke="#e28a45" stroke-width="2.01" stroke-linecap="round" stroke-linejoin="round"/><polyline points="28.8,72.7 30.2,85.0 33.3,98.5 38.5,111.9 44.1,124.2 49.2,131.4" fill="none" stroke="#f8d5ae" stroke-width="0.90" stroke-linecap="round" stroke-linejoin="round"/><g clip-path="url(#c180)"><rect x="0" y="0" width="142" height="141" filter="url(#f179)"/></g></g><g clip-path="url(#cLand)"><g mask="url(#c182)"><rect x="0" y="0" width="142" height="141" filter="url(#f181)"/></g><polyline points="32.4,14.5 36.2,21.2 41.1,27.3 50.8,33.6 62.0,40.3 73.2,44.8 84.4,48.6 97.8,50.6 106.7,49.2 113.5,48.3" fill="none" stroke="#eda66b" stroke-width="4.93" stroke-linecap="round" stroke-linejoin="round"/><polyline points="32.4,14.5 36.2,21.2 41.1,27.3 50.8,33.6 62.0,40.3 73.2,44.8 84.4,48.6 97.8,50.6 106.7,49.2 113.5,48.3" fill="none" stroke="#f8d5ae" stroke-width="3.58" stroke-linecap="round" stroke-linejoin="round"/><polyline points="32.4,14.5 36.2,21.2 41.1,27.3 50.8,33.6 62.0,40.3 73.2,44.8 84.4,48.6 97.8,50.6 106.7,49.2 113.5,48.3" fill="none" stroke="#f3fbfe" stroke-width="2.01" stroke-linecap="round" stroke-linejoin="round"/><polyline points="101.8,48.8 112.3,48.3" fill="none" stroke="#f8d5ae" stroke-width="2.91" stroke-linecap="round" stroke-linejoin="round"/><polyline points="101.8,48.8 112.3,48.3" fill="none" stroke="#f3fbfe" stroke-width="2.01" stroke-linecap="round" stroke-linejoin="round"/><g mask="url(#c184)"><rect x="0" y="0" width="142" height="141" filter="url(#f183)"/></g><g mask="url(#c186)"><rect x="0" y="0" width="142" height="141" filter="url(#f185)"/></g><g mask="url(#c188)"><rect x="0" y="0" width="142" height="141" filter="url(#f187)"/></g><polyline points="39.8,0.9 46.5,6.9 56.6,10.3 66.7,11.2 76.7,8.5 85.2,4.5 92.0,0.9" fill="none" stroke="#eda66b" stroke-width="4.48" stroke-linecap="round" stroke-linejoin="round"/><polyline points="39.8,0.9 46.5,6.9 56.6,10.3 66.7,11.2 76.7,8.5 85.2,4.5 92.0,0.9" fill="none" stroke="#fdf6e4" stroke-width="2.69" stroke-linecap="round" stroke-linejoin="round"/><polyline points="39.8,0.9 46.5,6.9 56.6,10.3 66.7,11.2 76.7,8.5 85.2,4.5 92.0,0.9" fill="none" stroke="#f3fbfe" stroke-width="1.12" stroke-linecap="round" stroke-linejoin="round"/></g>
<use href="#bd"/>
</svg>
<rect x="55.2" y="329.5" width="140.8" height="139.8" fill="none" stroke="#333" stroke-width="0.7"/>
<svg x="216.2" y="329.5" width="140.8" height="139.8" viewBox="0 0 140.8 139.8" overflow="hidden">
<rect width="142" height="141" fill="#e6f8fc"/><polygon points="62.0,90.6 71.0,89.5 72.1,100.7 68.7,116.4 64.2,129.8 60.9,129.8 62.0,111.9" fill="#a7d3f0" filter="url(#wob)"/><polygon points="93.4,74.3 116.9,73.9 124.7,85.0 125.8,98.9 120.2,94.0 111.3,85.0 93.4,80.6" fill="#a7d3f0" filter="url(#wob)"/><polygon points="126.9,98.9 154.5,95.1 154.5,155.6 137.0,155.6 138.1,120.9 131.4,107.4" fill="#a7d3f0" filter="url(#wob)"/><polygon points="28.4,97.4 31.8,97.4 39.6,120.9 45.2,132.5 40.7,132.5 32.9,116.4" fill="#a7d3f0" filter="url(#wob)"/><polygon points="55.3,129.8 60.2,129.8 60.2,139.9 55.3,139.9" fill="#a7d3f0"/><g clip-path="url(#c190)"><rect x="0" y="0" width="142" height="141" filter="url(#f189)"/></g><use href="#land" fill="#fcfbef"/><use href="#lanka" fill="#fcfbef"/><g clip-path="url(#cLand)"><g clip-path="url(#c192)"><rect x="0" y="0" width="142" height="141" filter="url(#f191)"/></g><g clip-path="url(#c194)"><rect x="0" y="0" width="142" height="141" filter="url(#f193)"/></g><g clip-path="url(#c196)"><rect x="0" y="0" width="142" height="141" filter="url(#f195)"/></g><g clip-path="url(#c198)"><rect x="0" y="0" width="142" height="141" filter="url(#f197)"/></g><g clip-path="url(#c200)"><rect x="0" y="0" width="142" height="141" filter="url(#f199)"/></g><g clip-path="url(#c202)"><rect x="0" y="0" width="142" height="141" filter="url(#f201)"/></g><g clip-path="url(#c204)"><rect x="0" y="0" width="142" height="141" filter="url(#f203)"/></g><polyline points="117.1,62.7 118.4,71.6 121.6,81.7 126.0,90.6 126.9,96.7" fill="none" stroke="#f6d2ae" stroke-width="1.79" stroke-linecap="round" stroke-linejoin="round"/><polygon points="96.7,52.6 111.3,51.5 116.9,62.7 113.5,72.7 97.8,73.9 96.7,62.7" fill="#e6f8fc" filter="url(#wob)"/></g><g clip-path="url(#cIndia)"><g clip-path="url(#c206)"><rect x="0" y="0" width="142" height="141" filter="url(#f205)"/></g></g><g clip-path="url(#cLand)"><polygon points="59.8,135.4 67.6,134.3 68.7,141.0 59.8,141.0" fill="#f6d2ae"/><g clip-path="url(#c208)"><rect x="0" y="0" width="142" height="141" filter="url(#f207)"/></g><g clip-path="url(#c210)"><rect x="0" y="0" width="142" height="141" filter="url(#f209)"/></g><g mask="url(#c212)"><rect x="0" y="0" width="142" height="141" filter="url(#f211)"/></g><polyline points="28.4,11.6 39.6,21.9 49.3,28.4 57.5,34.0 62.9,38.0 73.2,44.3 84.4,48.6 97.8,50.6 106.8,49.2 113.5,48.3" fill="none" stroke="#f6d2ae" stroke-width="4.25" stroke-linecap="round" stroke-linejoin="round"/><polyline points="28.4,11.6 39.6,21.9 49.3,28.4 57.5,34.0 62.9,38.0 73.2,44.3 84.4,48.6 97.8,50.6 106.8,49.2 113.5,48.3" fill="none" stroke="#e89a5a" stroke-width="2.91" stroke-linecap="round" stroke-linejoin="round"/><polyline points="28.4,11.6 39.6,21.9 49.3,28.4 57.5,34.0 62.9,38.0 73.2,44.3 84.4,48.6 97.8,50.6 106.8,49.2 113.5,48.3" fill="none" stroke="#d36a2c" stroke-width="1.34" stroke-linecap="round" stroke-linejoin="round"/><polyline points="113.5,48.3 122.5,46.1 131.4,41.6 139.2,40.3" fill="none" stroke="#f6d2ae" stroke-width="2.24" stroke-linecap="round" stroke-linejoin="round"/><g mask="url(#c214)"><rect x="0" y="0" width="142" height="141" filter="url(#f213)"/></g><g mask="url(#c216)"><rect x="0" y="0" width="142" height="141" filter="url(#f215)"/></g></g>
<use href="#bd"/>
</svg>
<rect x="216.2" y="329.5" width="140.8" height="139.8" fill="none" stroke="#333" stroke-width="0.7"/>
<svg x="377.2" y="329.5" width="140.8" height="139.8" viewBox="0 0 140.8 139.8" overflow="hidden">
<rect width="142" height="141" fill="#e84018"/><polygon points="-10.3,60.4 17.2,69.4 26.1,73.9 28.4,89.5 32.9,105.2 28.4,114.1 17.2,120.9 -10.3,125.3" fill="#de2618" filter="url(#wob)"/><polygon points="84.4,80.6 95.5,76.1 111.2,78.3 120.2,85.0 115.7,89.5 102.3,85.0 88.8,87.3" fill="#de2618" filter="url(#wob)"/><use href="#land" fill="#e84018"/><use href="#lanka" fill="#dd6428"/><g clip-path="url(#cLand)"><g clip-path="url(#c218)"><rect x="0" y="0" width="142" height="141" filter="url(#f217)"/></g><polygon points="16.1,22.4 28.4,17.9 39.6,26.8 38.5,40.3 28.4,50.3 17.2,52.6 13.8,42.5 17.2,31.3" fill="#dd6428" filter="url(#wob)"/><g clip-path="url(#c220)"><rect x="0" y="0" width="142" height="141" filter="url(#f219)"/></g><polygon points="114.6,50.3 154.4,39.2 154.4,103.0 124.6,103.0 116.8,85.0 114.6,69.4" fill="#dd6428" filter="url(#wob)"/><polygon points="60.8,36.9 73.2,41.4 84.4,45.2 98.2,47.4 98.7,54.6 84.4,53.3 70.9,49.2 60.8,43.6" fill="#dd6428" filter="url(#wob)"/></g><use href="#india" fill="#e84018"/><g clip-path="url(#cIndia)"><polygon points="30.6,85.0 39.6,89.5 62.0,85.0 68.7,91.8 62.0,103.0 59.7,120.9 50.8,133.2 45.2,125.3 37.3,109.7" fill="#dd6428" filter="url(#wob)"/><g clip-path="url(#c222)"><rect x="0" y="0" width="142" height="141" filter="url(#f221)"/></g><polyline points="32.4,14.5 36.2,21.2 41.1,27.3 50.8,33.6 62.0,40.3" fill="none" stroke="#dd6428" stroke-width="3.13" stroke-linecap="round" stroke-linejoin="round"/><polygon points="102.3,51.5 138.1,40.3 152.6,47.0 129.1,62.7 120.2,89.5 111.2,73.9 102.3,62.7" fill="#dd6428" filter="url(#wob)"/><g clip-path="url(#c224)"><rect x="0" y="0" width="142" height="141" filter="url(#f223)"/></g></g>
<use href="#bd"/>
</svg>
<rect x="377.2" y="329.5" width="140.8" height="139.8" fill="none" stroke="#333" stroke-width="0.7"/>
<svg x="533.0" y="329.5" width="140.8" height="139.8" viewBox="0 0 140.8 139.8" overflow="hidden">
<rect width="142" height="141" fill="#a81c14"/><g clip-path="url(#cLand)"><polygon points="36.5,8.9 50.0,6.7 67.9,6.7 94.7,6.7 119.4,11.2 153.6,15.6 153.6,29.1 128.3,33.6 119.4,38.0 108.2,43.9 97.0,47.4 83.5,45.2 61.2,36.2 52.2,27.3" fill="#cf2419" filter="url(#wob)"/><g clip-path="url(#c226)"><rect x="0" y="0" width="142" height="141" filter="url(#f225)"/></g><g clip-path="url(#c228)"><rect x="0" y="0" width="142" height="141" filter="url(#f227)"/></g><g clip-path="url(#c230)"><rect x="0" y="0" width="142" height="141" filter="url(#f229)"/></g></g>
<use href="#bd"/>
</svg>
<rect x="533.0" y="329.5" width="140.8" height="139.8" fill="none" stroke="#333" stroke-width="0.7"/>
<rect x="38.7" y="329.5" width="16.5" height="139.8" fill="#fff" stroke="#333" stroke-width="0.7"/>
<text class="b" font-size="10.5" text-anchor="middle" transform="translate(51.0,399.4) rotate(-90)">ON</text>
<line x1="36.4" x2="38.9" y1="344.8" y2="344.8" stroke="#333" stroke-width="0.7"/>
<text class="tk" x="34.6" y="347.9" text-anchor="end">35°N</text>
<line x1="36.4" x2="38.9" y1="366.6" y2="366.6" stroke="#333" stroke-width="0.7"/>
<text class="tk" x="34.6" y="369.7" text-anchor="end">30°N</text>
<line x1="36.4" x2="38.9" y1="388.5" y2="388.5" stroke="#333" stroke-width="0.7"/>
<text class="tk" x="34.6" y="391.6" text-anchor="end">25°N</text>
<line x1="36.4" x2="38.9" y1="410.3" y2="410.3" stroke="#333" stroke-width="0.7"/>
<text class="tk" x="34.6" y="413.4" text-anchor="end">20°N</text>
<line x1="36.4" x2="38.9" y1="432.2" y2="432.2" stroke="#333" stroke-width="0.7"/>
<text class="tk" x="34.6" y="435.3" text-anchor="end">15°N</text>
<line x1="36.4" x2="38.9" y1="454.0" y2="454.0" stroke="#333" stroke-width="0.7"/>
<text class="tk" x="34.6" y="457.1" text-anchor="end">10°N</text>
<svg x="55.2" y="474.4" width="140.8" height="139.8" viewBox="0 0 140.8 139.8" overflow="hidden">
<rect width="142" height="141" fill="#e3231a"/><polygon points="-9.9,60.5 12.7,67.2 26.1,73.9 28.4,89.6 32.9,105.3 36.2,112.4 23.9,110.2 15.0,98.6 3.8,94.1 -9.9,91.9" fill="#b6211a" filter="url(#wob)"/><polygon points="124.6,97.7 140.3,95.2 144.3,100.8 131.4,103.9" fill="#b6211a"/><use href="#land" fill="#e3231a"/><use href="#lanka" fill="#e84419"/><g clip-path="url(#cLand)"><polygon points="28.4,-9.6 154.4,-9.6 154.4,39.2 139.2,40.4 131.4,41.7 122.4,46.2 113.5,48.4 106.7,49.3 97.8,50.7 84.4,48.6 73.2,44.8 62.0,40.4 50.8,33.6 41.1,27.4 36.2,21.3 32.4,14.6 28.4,9.0" fill="#e84419" filter="url(#wob)"/><g clip-path="url(#c232)"><rect x="0" y="0" width="142" height="141" filter="url(#f231)"/></g><g clip-path="url(#c234)"><rect x="0" y="0" width="142" height="141" filter="url(#f233)"/></g><g clip-path="url(#c236)"><rect x="0" y="0" width="142" height="141" filter="url(#f235)"/></g><g clip-path="url(#c238)"><rect x="0" y="0" width="142" height="141" filter="url(#f237)"/></g><g clip-path="url(#c240)"><rect x="0" y="0" width="142" height="141" filter="url(#f239)"/></g><g clip-path="url(#c242)"><rect x="0" y="0" width="142" height="141" filter="url(#f241)"/></g><g clip-path="url(#c244)"><rect x="0" y="0" width="142" height="141" filter="url(#f243)"/></g><polyline points="1.3,11.0 8.5,11.9 15.6,10.1 21.0,7.5 21.4,3.0" fill="none" stroke="#f8d5ae" stroke-width="2.69" stroke-linecap="round" stroke-linejoin="round"/><polyline points="1.3,11.0 8.5,11.9 15.6,10.1 21.0,7.5 21.4,3.0" fill="none" stroke="#fdf6e4" stroke-width="1.34" stroke-linecap="round" stroke-linejoin="round"/><polyline points="15.6,25.8 17.4,36.1 14.1,42.4" fill="none" stroke="#eda66b" stroke-width="1.34" stroke-linecap="round" stroke-linejoin="round"/><polyline points="15.6,25.8 17.4,36.1 14.1,42.4" fill="none" stroke="#f8d5ae" stroke-width="0.67" stroke-linecap="round" stroke-linejoin="round"/><polyline points="1.5,18.0 10.5,24.7 15.0,33.6" fill="none" stroke="#f8d5ae" stroke-width="1.12" stroke-linecap="round" stroke-linejoin="round"/><polyline points="1.3,52.7 2.2,43.7 3.3,38.1 7.1,36.8" fill="none" stroke="#f8d5ae" stroke-width="1.57" stroke-linecap="round" stroke-linejoin="round"/><polyline points="1.3,52.7 2.2,43.7 3.3,38.1 7.1,36.8" fill="none" stroke="#f3fbfe" stroke-width="0.78" stroke-linecap="round" stroke-linejoin="round"/><polygon points="114.6,50.4 154.4,39.2 154.4,103.0 124.6,103.0 116.8,85.1 114.6,69.5" fill="#e84419" filter="url(#wob)"/><g clip-path="url(#c246)"><rect x="0" y="0" width="142" height="141" filter="url(#f245)"/></g><polyline points="117.0,62.7 118.4,71.7 121.5,81.8 126.0,90.7 126.9,96.8" fill="none" stroke="#f8d5ae" stroke-width="1.79" stroke-linecap="round" stroke-linejoin="round"/><polyline points="117.0,62.7 118.4,71.7 121.5,81.8 126.0,90.7 126.9,96.8" fill="none" stroke="#fdf6e4" stroke-width="0.78" stroke-linecap="round" stroke-linejoin="round"/><g mask="url(#c248)"><rect x="0" y="0" width="142" height="141" filter="url(#f247)"/></g></g><use href="#india" fill="#e3231a"/><g clip-path="url(#cIndia)"><g clip-path="url(#c250)"><rect x="0" y="0" width="142" height="141" filter="url(#f249)"/></g><g clip-path="url(#c252)"><rect x="0" y="0" width="142" height="141" filter="url(#f251)"/></g><polyline points="28.8,72.8 30.2,85.1 33.3,98.6 38.5,112.0 44.1,124.3 49.2,131.5" fill="none" stroke="#d96d2e" stroke-width="2.46" stroke-linecap="round" stroke-linejoin="round"/><polyline points="28.8,72.8 30.2,85.1 33.3,98.6 38.5,112.0 44.1,124.3 49.2,131.5" fill="none" stroke="#eda66b" stroke-width="1.34" stroke-linecap="round" stroke-linejoin="round"/><polyline points="28.8,72.8 30.2,85.1 33.3,98.6 38.5,112.0 44.1,124.3 49.2,131.5" fill="none" stroke="#fdf6e4" stroke-width="0.56" stroke-linecap="round" stroke-linejoin="round"/><g mask="url(#c254)"><rect x="0" y="0" width="142" height="141" filter="url(#f253)"/></g><g mask="url(#c256)"><rect x="0" y="0" width="142" height="141" filter="url(#f255)"/></g><polygon points="102.3,51.6 138.1,40.4 152.6,47.1 129.1,62.7 120.2,89.6 111.2,73.9 102.3,62.7" fill="#e84419" filter="url(#wob)"/><g clip-path="url(#c258)"><rect x="0" y="0" width="142" height="141" filter="url(#f257)"/></g></g><g clip-path="url(#cLand)"><g mask="url(#c260)"><rect x="0" y="0" width="142" height="141" filter="url(#f259)"/></g><g mask="url(#c262)"><rect x="0" y="0" width="142" height="141" filter="url(#f261)"/></g><g mask="url(#c264)"><rect x="0" y="0" width="142" height="141" filter="url(#f263)"/></g><g mask="url(#c266)"><rect x="0" y="0" width="142" height="141" filter="url(#f265)"/></g><g mask="url(#c268)"><rect x="0" y="0" width="142" height="141" filter="url(#f267)"/></g><polyline points="101.8,48.9 112.3,48.4" fill="none" stroke="#f8d5ae" stroke-width="2.91" stroke-linecap="round" stroke-linejoin="round"/><polyline points="101.8,48.9 112.3,48.4" fill="none" stroke="#f3fbfe" stroke-width="2.01" stroke-linecap="round" stroke-linejoin="round"/><g mask="url(#c270)"><rect x="0" y="0" width="142" height="141" filter="url(#f269)"/></g><polyline points="113.5,48.4 122.4,46.2 131.4,41.7 139.2,40.4" fill="none" stroke="#f8d5ae" stroke-width="0.90" stroke-linecap="round" stroke-linejoin="round"/><g mask="url(#c272)"><rect x="0" y="0" width="142" height="141" filter="url(#f271)"/></g><polyline points="39.8,1.0 46.5,7.0 56.6,10.4 66.7,11.3 76.7,8.6 85.2,4.5 92.0,1.0" fill="none" stroke="#e28a45" stroke-width="2.91" stroke-linecap="round" stroke-linejoin="round"/><g mask="url(#c274)"><rect x="0" y="0" width="142" height="141" filter="url(#f273)"/></g></g>
<use href="#bd"/>
</svg>
<rect x="55.2" y="474.4" width="140.8" height="139.8" fill="none" stroke="#333" stroke-width="0.7"/>
<svg x="216.2" y="474.4" width="140.8" height="139.8" viewBox="0 0 140.8 139.8" overflow="hidden">
<rect width="142" height="141" fill="#e6f8fc"/><polygon points="-9.9,60.5 26.2,72.8 28.4,89.6 31.8,100.8 17.2,103.5 -9.9,99.0" fill="#fcfbef" filter="url(#wob)"/><polygon points="31.8,103.0 34.7,103.0 40.7,125.4 37.4,125.4" fill="#a7d3f0"/><polygon points="55.3,129.9 60.2,129.9 60.2,140.0 55.3,140.0" fill="#a7d3f0"/><use href="#land" fill="#fcfbef"/><use href="#lanka" fill="#fcfbef"/><g clip-path="url(#cLand)"><g clip-path="url(#c276)"><rect x="0" y="0" width="142" height="141" filter="url(#f275)"/></g><g clip-path="url(#c278)"><rect x="0" y="0" width="142" height="141" filter="url(#f277)"/></g><g clip-path="url(#c280)"><rect x="0" y="0" width="142" height="141" filter="url(#f279)"/></g><g clip-path="url(#c282)"><rect x="0" y="0" width="142" height="141" filter="url(#f281)"/></g><g clip-path="url(#c284)"><rect x="0" y="0" width="142" height="141" filter="url(#f283)"/></g><polyline points="117.1,62.7 118.4,71.7 121.6,81.8 126.0,90.7 126.9,96.8" fill="none" stroke="#f6d2ae" stroke-width="1.57" stroke-linecap="round" stroke-linejoin="round"/><polygon points="96.7,52.7 111.3,51.6 116.9,62.7 113.5,72.8 97.8,73.9 96.7,62.7" fill="#e6f8fc" filter="url(#wob)"/></g><g clip-path="url(#cIndia)"><g clip-path="url(#c286)"><rect x="0" y="0" width="142" height="141" filter="url(#f285)"/></g><g clip-path="url(#c288)"><rect x="0" y="0" width="142" height="141" filter="url(#f287)"/></g><g clip-path="url(#c290)"><rect x="0" y="0" width="142" height="141" filter="url(#f289)"/></g></g><g clip-path="url(#cLand)"><polygon points="59.8,135.5 67.6,134.4 68.7,141.1 59.8,141.1" fill="#f6d2ae"/><g clip-path="url(#c292)"><rect x="0" y="0" width="142" height="141" filter="url(#f291)"/></g><g clip-path="url(#c294)"><rect x="0" y="0" width="142" height="141" filter="url(#f293)"/></g><g mask="url(#c296)"><rect x="0" y="0" width="142" height="141" filter="url(#f295)"/></g><polyline points="28.4,11.7 39.6,22.0 49.3,28.5 57.5,34.1 62.9,38.1 73.2,44.4 84.4,48.6 97.8,50.7 106.8,49.3 113.5,48.4" fill="none" stroke="#f6d2ae" stroke-width="3.81" stroke-linecap="round" stroke-linejoin="round"/><polyline points="28.4,11.7 39.6,22.0 49.3,28.5 57.5,34.1 62.9,38.1 73.2,44.4 84.4,48.6 97.8,50.7 106.8,49.3 113.5,48.4" fill="none" stroke="#e89a5a" stroke-width="2.46" stroke-linecap="round" stroke-linejoin="round"/><polyline points="62.0,40.4 73.2,44.8 84.4,48.6 97.8,50.7" fill="none" stroke="#d36a2c" stroke-width="1.12" stroke-linecap="round" stroke-linejoin="round"/><polyline points="28.4,11.7 39.6,22.0 49.3,28.5 57.5,34.1 62.9,38.1" fill="none" stroke="#d36a2c" stroke-width="1.57" stroke-linecap="round" stroke-linejoin="round"/><g mask="url(#c298)"><rect x="0" y="0" width="142" height="141" filter="url(#f297)"/></g><polyline points="113.5,48.4 122.5,46.2 131.4,41.7 139.2,40.4" fill="none" stroke="#e89a5a" stroke-width="2.01" stroke-linecap="round" stroke-linejoin="round"/><polyline points="113.5,48.4 122.5,46.2 131.4,41.7 139.2,40.4" fill="none" stroke="#e5321b" stroke-width="0.67" stroke-linecap="round" stroke-linejoin="round"/><g mask="url(#c300)"><rect x="0" y="0" width="142" height="141" filter="url(#f299)"/></g></g>
<use href="#bd"/>
</svg>
<rect x="216.2" y="474.4" width="140.8" height="139.8" fill="none" stroke="#333" stroke-width="0.7"/>
<svg x="377.2" y="474.4" width="140.8" height="139.8" viewBox="0 0 140.8 139.8" overflow="hidden">
<rect width="142" height="141" fill="#de2618"/><polygon points="-10.3,65.0 8.2,66.1 12.7,73.9 10.5,82.9 -10.3,81.8" fill="#a91d15" filter="url(#wob)"/><use href="#land" fill="#de2618"/><use href="#lanka" fill="#de2618"/><g clip-path="url(#cLand)"><polygon points="28.4,-9.6 154.4,-9.6 154.4,39.2 139.2,40.4 131.4,41.7 122.4,46.2 113.5,48.4 106.7,49.3 97.8,50.7 84.4,48.6 73.2,44.8 62.0,40.4 50.8,33.6 41.1,27.4 36.2,21.3 32.4,14.6 28.4,9.0" fill="#e84018" filter="url(#wob)"/><g clip-path="url(#c302)"><rect x="0" y="0" width="142" height="141" filter="url(#f301)"/></g><g clip-path="url(#c304)"><rect x="0" y="0" width="142" height="141" filter="url(#f303)"/></g><g clip-path="url(#c306)"><rect x="0" y="0" width="142" height="141" filter="url(#f305)"/></g><g clip-path="url(#c308)"><rect x="0" y="0" width="142" height="141" filter="url(#f307)"/></g><polygon points="114.6,50.4 154.4,39.2 154.4,103.0 124.6,103.0 116.8,85.1 114.6,69.5" fill="#e84018" filter="url(#wob)"/><g clip-path="url(#c310)"><rect x="0" y="0" width="142" height="141" filter="url(#f309)"/></g><polyline points="117.0,62.7 118.4,71.7 121.5,81.8 126.0,90.7 126.9,96.8" fill="none" stroke="#dc7a3b" stroke-width="1.12" stroke-linecap="round" stroke-linejoin="round"/><polygon points="60.8,37.0 73.2,41.5 84.4,45.3 98.2,47.5 98.7,54.7 84.4,53.3 70.9,49.3 60.8,43.7" fill="#e84018" filter="url(#wob)"/></g><use href="#india" fill="#de2618"/><g clip-path="url(#cIndia)"><g clip-path="url(#c312)"><rect x="0" y="0" width="142" height="141" filter="url(#f311)"/></g><polyline points="28.8,72.8 30.2,85.1 33.3,98.6 38.5,112.0 44.1,124.3 49.2,131.5" fill="none" stroke="#dd6428" stroke-width="1.34" stroke-linecap="round" stroke-linejoin="round"/><polygon points="102.3,51.6 138.1,40.4 152.6,47.1 129.1,62.7 120.2,89.6 111.2,73.9 102.3,62.7" fill="#e84018" filter="url(#wob)"/><g clip-path="url(#c314)"><rect x="0" y="0" width="142" height="141" filter="url(#f313)"/></g></g><g clip-path="url(#cLand)"><g mask="url(#c316)"><rect x="0" y="0" width="142" height="141" filter="url(#f315)"/></g><g mask="url(#c318)"><rect x="0" y="0" width="142" height="141" filter="url(#f317)"/></g><g mask="url(#c320)"><rect x="0" y="0" width="142" height="141" filter="url(#f319)"/></g><g mask="url(#c322)"><rect x="0" y="0" width="142" height="141" filter="url(#f321)"/></g><g mask="url(#c324)"><rect x="0" y="0" width="142" height="141" filter="url(#f323)"/></g></g>
<use href="#bd"/>
</svg>
<rect x="377.2" y="474.4" width="140.8" height="139.8" fill="none" stroke="#333" stroke-width="0.7"/>
<svg x="533.0" y="474.4" width="140.8" height="139.8" viewBox="0 0 140.8 139.8" overflow="hidden">
<rect width="142" height="141" fill="#a81c14"/><g clip-path="url(#cLand)"><polygon points="45.5,13.9 52.7,11.7 60.3,15.3 58.9,20.7 56.2,25.8 54.0,30.5 50.0,29.2 47.3,22.9" fill="#cf2419" filter="url(#wob)"/><polyline points="58.9,10.4 79.1,8.6" fill="none" stroke="#cf2419" stroke-width="1.01" stroke-linecap="round" stroke-linejoin="round"/><polyline points="54.0,29.6 61.2,35.4 79.1,41.5 99.2,46.2" fill="none" stroke="#cf2419" stroke-width="1.34" stroke-linecap="round" stroke-linejoin="round"/></g>
<use href="#bd"/>
</svg>
<rect x="533.0" y="474.4" width="140.8" height="139.8" fill="none" stroke="#333" stroke-width="0.7"/>
<rect x="38.7" y="474.4" width="16.5" height="139.8" fill="#fff" stroke="#333" stroke-width="0.7"/>
<text class="b" font-size="10.5" text-anchor="middle" transform="translate(51.0,544.3) rotate(-90)">DJF</text>
<line x1="36.4" x2="38.9" y1="489.7" y2="489.7" stroke="#333" stroke-width="0.7"/>
<text class="tk" x="34.6" y="492.8" text-anchor="end">35°N</text>
<line x1="36.4" x2="38.9" y1="511.5" y2="511.5" stroke="#333" stroke-width="0.7"/>
<text class="tk" x="34.6" y="514.6" text-anchor="end">30°N</text>
<line x1="36.4" x2="38.9" y1="533.4" y2="533.4" stroke="#333" stroke-width="0.7"/>
<text class="tk" x="34.6" y="536.5" text-anchor="end">25°N</text>
<line x1="36.4" x2="38.9" y1="555.2" y2="555.2" stroke="#333" stroke-width="0.7"/>
<text class="tk" x="34.6" y="558.3" text-anchor="end">20°N</text>
<line x1="36.4" x2="38.9" y1="577.1" y2="577.1" stroke="#333" stroke-width="0.7"/>
<text class="tk" x="34.6" y="580.2" text-anchor="end">15°N</text>
<line x1="36.4" x2="38.9" y1="598.9" y2="598.9" stroke="#333" stroke-width="0.7"/>
<text class="tk" x="34.6" y="602.0" text-anchor="end">10°N</text>
<line x1="61.9" x2="61.9" y1="614.2" y2="616.7" stroke="#333" stroke-width="0.7"/>
<text class="tk" x="61.9" y="625.2" text-anchor="middle">68°E</text>
<line x1="106.6" x2="106.6" y1="614.2" y2="616.7" stroke="#333" stroke-width="0.7"/>
<text class="tk" x="106.6" y="625.2" text-anchor="middle">78°E</text>
<line x1="151.3" x2="151.3" y1="614.2" y2="616.7" stroke="#333" stroke-width="0.7"/>
<text class="tk" x="151.3" y="625.2" text-anchor="middle">88°E</text>
<line x1="195.9" x2="195.9" y1="614.2" y2="616.7" stroke="#333" stroke-width="0.7"/>
<text class="tk" x="195.9" y="625.2" text-anchor="middle">98°E</text>
<text class="b" font-size="9.6" x="125.6" y="636.5" text-anchor="middle">Longitude</text>
<line x1="222.9" x2="222.9" y1="614.2" y2="616.7" stroke="#333" stroke-width="0.7"/>
<text class="tk" x="222.9" y="625.2" text-anchor="middle">68°E</text>
<line x1="267.5" x2="267.5" y1="614.2" y2="616.7" stroke="#333" stroke-width="0.7"/>
<text class="tk" x="267.5" y="625.2" text-anchor="middle">78°E</text>
<line x1="312.2" x2="312.2" y1="614.2" y2="616.7" stroke="#333" stroke-width="0.7"/>
<text class="tk" x="312.2" y="625.2" text-anchor="middle">88°E</text>
<line x1="356.9" x2="356.9" y1="614.2" y2="616.7" stroke="#333" stroke-width="0.7"/>
<text class="tk" x="356.9" y="625.2" text-anchor="middle">98°E</text>
<text class="b" font-size="9.6" x="286.5" y="636.5" text-anchor="middle">Longitude</text>
<line x1="383.9" x2="383.9" y1="614.2" y2="616.7" stroke="#333" stroke-width="0.7"/>
<text class="tk" x="383.9" y="625.2" text-anchor="middle">68°E</text>
<line x1="428.6" x2="428.6" y1="614.2" y2="616.7" stroke="#333" stroke-width="0.7"/>
<text class="tk" x="428.6" y="625.2" text-anchor="middle">78°E</text>
<line x1="473.3" x2="473.3" y1="614.2" y2="616.7" stroke="#333" stroke-width="0.7"/>
<text class="tk" x="473.3" y="625.2" text-anchor="middle">88°E</text>
<line x1="518.0" x2="518.0" y1="614.2" y2="616.7" stroke="#333" stroke-width="0.7"/>
<text class="tk" x="518.0" y="625.2" text-anchor="middle">98°E</text>
<text class="b" font-size="9.6" x="447.6" y="636.5" text-anchor="middle">Longitude</text>
<line x1="539.7" x2="539.7" y1="614.2" y2="616.7" stroke="#333" stroke-width="0.7"/>
<text class="tk" x="539.7" y="625.2" text-anchor="middle">68°E</text>
<line x1="584.4" x2="584.4" y1="614.2" y2="616.7" stroke="#333" stroke-width="0.7"/>
<text class="tk" x="584.4" y="625.2" text-anchor="middle">78°E</text>
<line x1="629.1" x2="629.1" y1="614.2" y2="616.7" stroke="#333" stroke-width="0.7"/>
<text class="tk" x="629.1" y="625.2" text-anchor="middle">88°E</text>
<line x1="673.8" x2="673.8" y1="614.2" y2="616.7" stroke="#333" stroke-width="0.7"/>
<text class="tk" x="673.8" y="625.2" text-anchor="middle">98°E</text>
<text class="b" font-size="9.6" x="603.4" y="636.5" text-anchor="middle">Longitude</text>
<text class="b" font-size="9.6" text-anchor="middle" transform="translate(9.2,327) rotate(-90)">Latitude</text>
<rect x="67.95" y="644" width="11.25" height="11.1" rx="0.7" fill="#4a90e2"/>
<rect x="79.50" y="644" width="11.25" height="11.1" rx="0.7" fill="#f8fdff"/>
<rect x="91.05" y="644" width="11.25" height="11.1" rx="0.7" fill="#fcf8e8"/>
<rect x="102.60" y="644" width="11.25" height="11.1" rx="0.7" fill="#f8d5ae"/>
<rect x="114.15" y="644" width="11.25" height="11.1" rx="0.7" fill="#eda66b"/>
<rect x="125.70" y="644" width="11.25" height="11.1" rx="0.7" fill="#e28a45"/>
<rect x="137.25" y="644" width="11.25" height="11.1" rx="0.7" fill="#d96d2e"/>
<rect x="148.80" y="644" width="11.25" height="11.1" rx="0.7" fill="#e84419"/>
<rect x="160.35" y="644" width="11.25" height="11.1" rx="0.7" fill="#e3231a"/>
<rect x="171.90" y="644" width="11.25" height="11.1" rx="0.7" fill="#b01e14"/>
<text class="b" font-size="7.9" x="68.6" y="665.8" text-anchor="middle">-0.2</text>
<text class="b" font-size="7.9" x="91.7" y="665.8" text-anchor="middle">0.04</text>
<text class="b" font-size="7.9" x="114.8" y="665.8" text-anchor="middle">0.28</text>
<text class="b" font-size="7.9" x="137.9" y="665.8" text-anchor="middle">0.52</text>
<text class="b" font-size="7.9" x="161.0" y="665.8" text-anchor="middle">0.76</text>
<text class="b" font-size="7.9" x="184.1" y="665.8" text-anchor="middle">1</text>
<rect x="229.45" y="644" width="11.25" height="11.1" rx="0.7" fill="#2f4fae"/>
<rect x="241.00" y="644" width="11.25" height="11.1" rx="0.7" fill="#4a8bdb"/>
<rect x="252.55" y="644" width="11.25" height="11.1" rx="0.7" fill="#a7d3f0"/>
<rect x="264.10" y="644" width="11.25" height="11.1" rx="0.7" fill="#e6f8fc"/>
<rect x="275.65" y="644" width="11.25" height="11.1" rx="0.7" fill="#fcfbef"/>
<rect x="287.20" y="644" width="11.25" height="11.1" rx="0.7" fill="#f6d2ae"/>
<rect x="298.75" y="644" width="11.25" height="11.1" rx="0.7" fill="#e89a5a"/>
<rect x="310.30" y="644" width="11.25" height="11.1" rx="0.7" fill="#d36a2c"/>
<rect x="321.85" y="644" width="11.25" height="11.1" rx="0.7" fill="#e5321b"/>
<rect x="333.40" y="644" width="11.25" height="11.1" rx="0.7" fill="#b21f16"/>
<text class="b" font-size="7.9" x="230.1" y="665.8" text-anchor="middle">-0.7</text>
<text class="b" font-size="7.9" x="253.2" y="665.8" text-anchor="middle">-0.38</text>
<text class="b" font-size="7.9" x="276.3" y="665.8" text-anchor="middle">-0.06</text>
<text class="b" font-size="7.9" x="299.4" y="665.8" text-anchor="middle">0.26</text>
<text class="b" font-size="7.9" x="322.5" y="665.8" text-anchor="middle">0.58</text>
<text class="b" font-size="7.9" x="345.6" y="665.8" text-anchor="middle">0.9</text>
<rect x="390.45" y="644" width="11.25" height="11.1" rx="0.7" fill="#a4d4f0"/>
<rect x="402.00" y="644" width="11.25" height="11.1" rx="0.7" fill="#fdfbec"/>
<rect x="413.55" y="644" width="11.25" height="11.1" rx="0.7" fill="#f8dcbb"/>
<rect x="425.10" y="644" width="11.25" height="11.1" rx="0.7" fill="#edb07a"/>
<rect x="436.65" y="644" width="11.25" height="11.1" rx="0.7" fill="#e59453"/>
<rect x="448.20" y="644" width="11.25" height="11.1" rx="0.7" fill="#dc7a3b"/>
<rect x="459.75" y="644" width="11.25" height="11.1" rx="0.7" fill="#dd6428"/>
<rect x="471.30" y="644" width="11.25" height="11.1" rx="0.7" fill="#e8431b"/>
<rect x="482.85" y="644" width="11.25" height="11.1" rx="0.7" fill="#de2618"/>
<rect x="494.40" y="644" width="11.25" height="11.1" rx="0.7" fill="#a91d15"/>
<text class="b" font-size="7.9" x="391.1" y="665.8" text-anchor="middle">-0.1</text>
<text class="b" font-size="7.9" x="414.2" y="665.8" text-anchor="middle">0.12</text>
<text class="b" font-size="7.9" x="437.3" y="665.8" text-anchor="middle">0.34</text>
<text class="b" font-size="7.9" x="460.4" y="665.8" text-anchor="middle">0.56</text>
<text class="b" font-size="7.9" x="483.5" y="665.8" text-anchor="middle">0.78</text>
<text class="b" font-size="7.9" x="506.6" y="665.8" text-anchor="middle">1</text>
<rect x="546.15" y="644" width="11.25" height="11.1" rx="0.7" fill="#fdfcf0"/>
<rect x="557.70" y="644" width="11.25" height="11.1" rx="0.7" fill="#faeeda"/>
<rect x="569.25" y="644" width="11.25" height="11.1" rx="0.7" fill="#f3c9a0"/>
<rect x="580.80" y="644" width="11.25" height="11.1" rx="0.7" fill="#eba56b"/>
<rect x="592.35" y="644" width="11.25" height="11.1" rx="0.7" fill="#e3904f"/>
<rect x="603.90" y="644" width="11.25" height="11.1" rx="0.7" fill="#db7737"/>
<rect x="615.45" y="644" width="11.25" height="11.1" rx="0.7" fill="#e0642a"/>
<rect x="627.00" y="644" width="11.25" height="11.1" rx="0.7" fill="#ea351b"/>
<rect x="638.55" y="644" width="11.25" height="11.1" rx="0.7" fill="#d82518"/>
<rect x="650.10" y="644" width="11.25" height="11.1" rx="0.7" fill="#a81c14"/>
<text class="b" font-size="7.9" x="546.8" y="665.8" text-anchor="middle">0.5</text>
<text class="b" font-size="7.9" x="569.9" y="665.8" text-anchor="middle">0.6</text>
<text class="b" font-size="7.9" x="593.0" y="665.8" text-anchor="middle">0.7</text>
<text class="b" font-size="7.9" x="616.1" y="665.8" text-anchor="middle">0.8</text>
<text class="b" font-size="7.9" x="639.2" y="665.8" text-anchor="middle">0.9</text>
<text class="b" font-size="7.9" x="662.3" y="665.8" text-anchor="middle">1</text>
<text class="b" font-size="9.8" x="54.4" y="15.4" text-anchor="start" >(A)</text>
<text class="b" font-size="9.8" x="94.0" y="21.6" text-anchor="start" >−</text>
<text class="b" font-size="9.8" x="105.6" y="14.4" text-anchor="middle" >1</text><line x1="102.8" x2="108.4" y1="18.3" y2="18.3" stroke="#333" stroke-width="0.7"/><text class="b" font-size="9.8" x="105.6" y="28.9" text-anchor="middle" >g</text>
<path d="M115.6 8.3 C114.9 6.2 113.2 6.2 113.0 9.5 L112.2 29.5 C112.0 32.8 110.3 32.8 109.6 30.8" fill="none" stroke="#000" stroke-width="0.85" stroke-linecap="round"/>
<text class="b" font-size="9.8" x="116.3" y="21.6" text-anchor="start" >(</text>
<path d="M120.2 15.0 L126.2 15.0 L123.2 21.3 Z" fill="none" stroke="#000" stroke-width="0.8" stroke-linejoin="miter"/>
<text class="b" font-size="9.8" x="127.0" y="21.6" text-anchor="start" >v</text><line x1="127.5" x2="132.0" y1="15.0" y2="15.0" stroke="#000" stroke-width="0.9"/>
<text class="b" font-size="9.8" x="133.6" y="21.6" text-anchor="start" textLength="22.1" lengthAdjust="spacing">q)dp</text>
<text class="b" font-size="9.8" x="214.4" y="15.4" text-anchor="start" >(B)</text>
<text class="b" font-size="9.8" x="254.0" y="21.6" text-anchor="start" >−</text>
<text class="b" font-size="9.8" x="265.6" y="14.4" text-anchor="middle" >1</text><line x1="262.8" x2="268.4" y1="18.3" y2="18.3" stroke="#333" stroke-width="0.7"/><text class="b" font-size="9.8" x="265.6" y="28.9" text-anchor="middle" >g</text>
<path d="M275.6 8.3 C274.9 6.2 273.2 6.2 273.0 9.5 L272.2 29.5 C272.0 32.8 270.3 32.8 269.6 30.8" fill="none" stroke="#000" stroke-width="0.85" stroke-linecap="round"/>
<text class="b" font-size="9.8" x="276.4" y="21.6" text-anchor="start" >(</text>
<text class="b" font-size="9.8" x="280.4" y="14.4" text-anchor="start" textLength="21" lengthAdjust="spacing">∂ωq</text>
<line x1="280.0" x2="302.0" y1="18.3" y2="18.3" stroke="#333" stroke-width="0.7"/>
<text class="b" font-size="9.8" x="291.3" y="28.9" text-anchor="middle" >∂p</text>
<text class="b" font-size="9.8" x="302.4" y="21.6" text-anchor="start" textLength="16.6" lengthAdjust="spacing">)dp</text>
<text class="b" font-size="9.8" x="376.4" y="15.4" text-anchor="start" >(C)</text>
<text class="b" font-size="9.8" x="391.6" y="21.6" text-anchor="start" >−</text>
<text class="b" font-size="9.8" x="404.1" y="14.4" text-anchor="middle" >1</text><line x1="401.3" x2="406.9" y1="18.3" y2="18.3" stroke="#333" stroke-width="0.7"/><text class="b" font-size="9.8" x="404.1" y="28.9" text-anchor="middle" >g</text>
<path d="M413.9 8.3 C413.2 6.2 411.5 6.2 411.3 9.5 L410.5 29.5 C410.3 32.8 408.6 32.8 407.9 30.8" fill="none" stroke="#000" stroke-width="0.85" stroke-linecap="round"/>
<path d="M419.4 4.8 C418.0 4.8 417.4 5.5 417.4 8 L417.4 15 C417.4 17.5 416.3 18.3 415.1 18.4 C416.3 18.5 417.4 19.3 417.4 21.8 L417.4 29 C417.4 31.5 418.0 32.2 419.4 32.2" fill="none" stroke="#000" stroke-width="0.9"/>
<path d="M421.4 15.0 L427.0 15.0 L424.2 21.3 Z" fill="none" stroke="#000" stroke-width="0.8" stroke-linejoin="miter"/>
<text class="b" font-size="9.8" x="428.6" y="21.6" text-anchor="start" >v</text><line x1="429.1" x2="433.6" y1="15.0" y2="15.0" stroke="#000" stroke-width="0.9"/>
<text class="b" font-size="9.8" x="438.1" y="21.6" text-anchor="middle" >·</text>
<text class="b" font-size="9.8" x="441.6" y="21.6" text-anchor="start" >q</text>
<text class="b" font-size="9.8" x="451.3" y="21.6" text-anchor="start" >+</text>
<text class="b" font-size="9.8" x="462.2" y="14.4" text-anchor="start" textLength="21" lengthAdjust="spacing">∂ωq</text>
<line x1="461.8" x2="483.8" y1="18.3" y2="18.3" stroke="#333" stroke-width="0.7"/>
<text class="b" font-size="9.8" x="472.8" y="28.9" text-anchor="middle" >∂p</text>
<path d="M485.0 4.8 C486.4 4.8 487.0 5.5 487.0 8 L487.0 15 C487.0 17.5 488.1 18.3 489.3 18.4 C488.1 18.5 487.0 19.3 487.0 21.8 L487.0 29 C487.0 31.5 486.4 32.2 485.0 32.2" fill="none" stroke="#000" stroke-width="0.9"/>
<text class="b" font-size="9.8" x="490.9" y="21.6" text-anchor="start" >dp</text>
<text class="b" font-size="9.8" x="531.4" y="15.4" text-anchor="start" >(D)</text>
<text class="b" font-size="9.8" x="581.4" y="14.4" text-anchor="middle" >1</text><line x1="578.6" x2="584.2" y1="18.3" y2="18.3" stroke="#333" stroke-width="0.7"/><text class="b" font-size="9.8" x="581.4" y="28.9" text-anchor="middle" >g</text>
<path d="M591.4 8.3 C590.7 6.2 589.0 6.2 588.8 9.5 L588.0 29.5 C587.8 32.8 586.1 32.8 585.4 30.8" fill="none" stroke="#000" stroke-width="0.85" stroke-linecap="round"/>
<text class="b" font-size="9.8" x="592.2" y="21.6" text-anchor="start" >(</text>
<text class="b" font-size="9.8" x="602.4" y="14.4" text-anchor="middle" >dq</text>
<line x1="595.9" x2="609.0" y1="18.3" y2="18.3" stroke="#333" stroke-width="0.7"/>
<text class="b" font-size="9.8" x="602.2" y="28.9" text-anchor="middle" >dt</text>
<text class="b" font-size="9.8" x="609.3" y="21.6" text-anchor="start" textLength="17.2" lengthAdjust="spacing">)dp</text>
</svg></body></html>
